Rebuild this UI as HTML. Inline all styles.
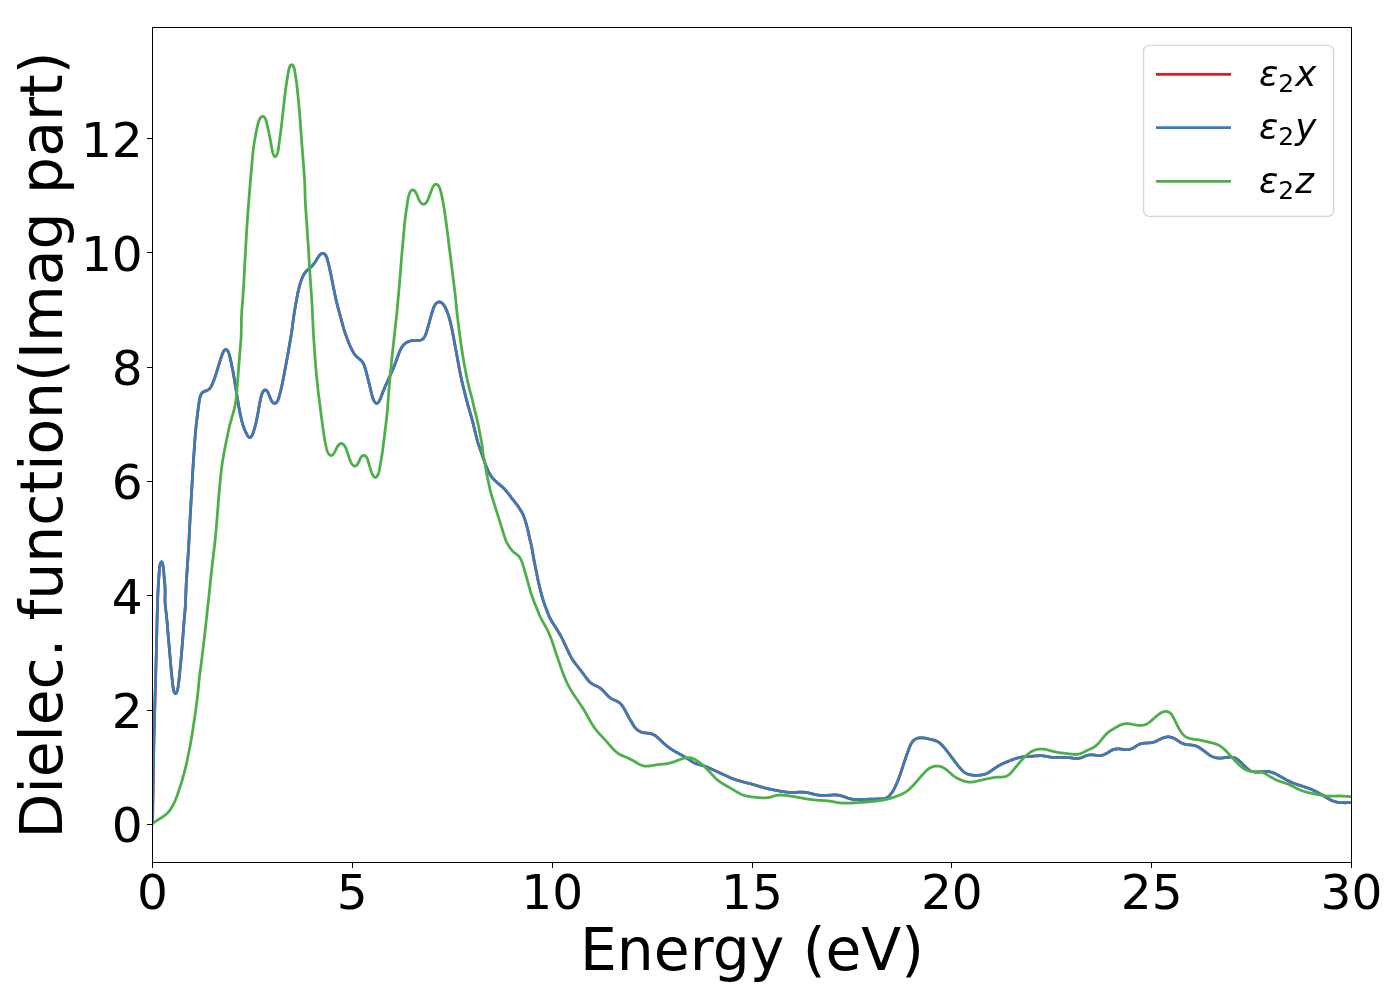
<!DOCTYPE html>
<html lang="en"><head><meta charset="utf-8"><title>Dielectric function (Imag part)</title>
<style>html,body{margin:0;padding:0;background:#fff}body{width:1400px;height:1000px;overflow:hidden}svg{display:block}text{font-family:'DejaVu Sans','Liberation Sans',sans-serif;fill:#000}</style></head><body>
<svg width="1400" height="1000" viewBox="0 0 1400 1000">
<rect width="1400" height="1000" fill="#fff"/>
<defs><clipPath id="ax"><rect x="152.5" y="27.5" width="1199" height="835"/></clipPath></defs>
<g clip-path="url(#ax)" fill="none" stroke-width="2.78" stroke-linejoin="round" stroke-linecap="butt">
<path d="M152.50 824.57 L152.51 823.97 L152.52 823.37 L152.53 822.77 L152.54 822.17 L152.55 821.57 L152.56 820.97 L152.57 820.37 L152.58 819.77 L152.59 819.17 L152.59 818.57 L152.60 817.97 L152.61 817.37 L152.62 816.77 L152.63 816.17 L152.64 815.57 L152.65 814.97 L152.66 814.37 L152.67 813.77 L152.68 813.17 L152.69 812.57 L152.70 811.97 L152.71 811.37 L152.72 810.77 L152.73 810.17 L152.74 809.57 L152.75 808.97 L152.76 808.37 L152.76 807.77 L152.77 807.17 L152.78 806.57 L152.79 805.97 L152.80 805.37 L152.81 804.77 L152.82 804.17 L152.83 803.57 L152.84 802.97 L152.85 802.37 L152.86 801.77 L152.87 801.17 L152.88 800.57 L152.89 799.97 L152.89 799.37 L152.90 798.77 L152.91 798.17 L152.92 797.57 L152.93 796.97 L152.94 796.37 L152.95 795.77 L152.96 795.17 L152.97 794.58 L152.98 793.98 L152.99 793.38 L152.99 792.78 L153.00 792.18 L153.01 791.58 L153.02 790.98 L153.03 790.38 L153.04 789.78 L153.05 789.18 L153.06 788.58 L153.07 787.98 L153.08 787.38 L153.09 786.78 L153.09 786.18 L153.10 785.58 L153.11 784.98 L153.12 784.38 L153.13 783.78 L153.14 783.18 L153.15 782.58 L153.16 781.98 L153.17 781.38 L153.18 780.78 L153.19 780.18 L153.20 779.58 L153.21 778.98 L153.22 778.38 L153.22 777.78 L153.23 777.18 L153.24 776.58 L153.25 775.98 L153.26 775.38 L153.27 774.78 L153.28 774.18 L153.29 773.58 L153.30 772.98 L153.31 772.38 L153.32 771.78 L153.33 771.18 L153.34 770.58 L153.35 769.98 L153.36 769.38 L153.37 768.78 L153.38 768.18 L153.39 767.58 L153.40 766.98 L153.41 766.38 L153.42 765.78 L153.43 765.18 L153.44 764.58 L153.45 763.98 L153.46 763.38 L153.48 762.78 L153.49 762.18 L153.50 761.58 L153.51 760.98 L153.52 760.38 L153.53 759.78 L153.54 759.18 L153.55 758.58 L153.56 757.98 L153.58 757.38 L153.59 756.78 L153.60 756.18 L153.61 755.58 L153.62 754.98 L153.63 754.38 L153.65 753.78 L153.66 753.18 L153.67 752.58 L153.68 751.98 L153.69 751.38 L153.71 750.78 L153.72 750.18 L153.73 749.58 L153.74 748.98 L153.76 748.38 L153.77 747.78 L153.78 747.18 L153.79 746.58 L153.81 745.98 L153.82 745.38 L153.83 744.78 L153.85 744.18 L153.86 743.58 L153.87 742.98 L153.89 742.38 L153.90 741.78 L153.91 741.18 L153.93 740.58 L153.94 739.98 L153.95 739.38 L153.97 738.78 L153.98 738.18 L153.99 737.58 L154.01 736.98 L154.02 736.38 L154.04 735.79 L154.05 735.19 L154.07 734.59 L154.08 733.99 L154.09 733.39 L154.11 732.79 L154.12 732.19 L154.14 731.59 L154.15 730.99 L154.17 730.39 L154.18 729.79 L154.20 729.19 L154.21 728.59 L154.23 727.99 L154.24 727.39 L154.26 726.79 L154.27 726.19 L154.29 725.59 L154.30 724.99 L154.32 724.39 L154.34 723.79 L154.35 723.19 L154.37 722.59 L154.38 721.99 L154.40 721.39 L154.42 720.79 L154.43 720.19 L154.45 719.59 L154.46 718.99 L154.48 718.39 L154.50 717.79 L154.51 717.19 L154.53 716.59 L154.55 715.99 L154.56 715.39 L154.58 714.79 L154.59 714.19 L154.61 713.59 L154.63 712.99 L154.64 712.39 L154.66 711.79 L154.68 711.19 L154.70 710.59 L154.71 709.99 L154.73 709.39 L154.75 708.79 L154.76 708.19 L154.78 707.59 L154.80 706.99 L154.81 706.39 L154.83 705.79 L154.85 705.19 L154.87 704.60 L154.88 704.00 L154.90 703.40 L154.92 702.80 L154.93 702.20 L154.95 701.60 L154.97 701.00 L154.99 700.40 L155.00 699.80 L155.02 699.20 L155.04 698.60 L155.06 698.00 L155.07 697.40 L155.09 696.80 L155.11 696.20 L155.12 695.60 L155.14 695.00 L155.16 694.40 L155.18 693.80 L155.19 693.20 L155.21 692.60 L155.23 692.00 L155.25 691.40 L155.26 690.80 L155.28 690.20 L155.30 689.60 L155.31 689.00 L155.33 688.40 L155.35 687.80 L155.37 687.20 L155.38 686.60 L155.40 686.00 L155.42 685.40 L155.43 684.80 L155.45 684.21 L155.47 683.61 L155.49 683.01 L155.50 682.41 L155.52 681.81 L155.54 681.21 L155.55 680.61 L155.57 680.01 L155.59 679.41 L155.60 678.81 L155.62 678.21 L155.64 677.61 L155.65 677.01 L155.67 676.41 L155.69 675.81 L155.70 675.21 L155.72 674.61 L155.74 674.01 L155.75 673.41 L155.77 672.81 L155.79 672.21 L155.80 671.61 L155.82 671.01 L155.84 670.41 L155.85 669.81 L155.87 669.21 L155.88 668.61 L155.90 668.01 L155.92 667.41 L155.93 666.81 L155.95 666.21 L155.96 665.61 L155.98 665.01 L156.00 664.41 L156.01 663.81 L156.03 663.21 L156.04 662.61 L156.06 662.01 L156.08 661.41 L156.09 660.81 L156.11 660.21 L156.12 659.61 L156.14 659.01 L156.15 658.41 L156.17 657.81 L156.18 657.21 L156.20 656.61 L156.22 656.01 L156.23 655.41 L156.25 654.81 L156.26 654.21 L156.28 653.61 L156.29 653.01 L156.31 652.41 L156.32 651.81 L156.34 651.21 L156.35 650.61 L156.37 650.01 L156.38 649.41 L156.40 648.81 L156.41 648.21 L156.43 647.61 L156.44 647.01 L156.46 646.41 L156.47 645.81 L156.49 645.21 L156.50 644.61 L156.51 644.01 L156.53 643.41 L156.54 642.81 L156.56 642.21 L156.57 641.61 L156.59 641.01 L156.60 640.41 L156.62 639.81 L156.63 639.21 L156.65 638.62 L156.66 638.02 L156.67 637.42 L156.69 636.82 L156.70 636.22 L156.72 635.62 L156.73 635.02 L156.74 634.42 L156.76 633.83 L156.77 633.23 L156.79 632.63 L156.80 632.03 L156.82 631.43 L156.83 630.83 L156.84 630.24 L156.86 629.64 L156.87 629.04 L156.89 628.44 L156.90 627.84 L156.91 627.24 L156.93 626.65 L156.94 626.05 L156.96 625.45 L156.97 624.85 L156.99 624.25 L157.00 623.65 L157.01 623.05 L157.03 622.46 L157.04 621.86 L157.06 621.26 L157.07 620.66 L157.09 620.06 L157.10 619.46 L157.12 618.86 L157.13 618.26 L157.15 617.66 L157.16 617.06 L157.18 616.46 L157.19 615.86 L157.21 615.26 L157.22 614.66 L157.24 614.06 L157.26 613.46 L157.27 612.85 L157.29 612.25 L157.30 611.65 L157.32 611.05 L157.34 610.45 L157.35 609.84 L157.37 609.24 L157.39 608.64 L157.40 608.03 L157.42 607.43 L157.44 606.83 L157.45 606.22 L157.47 605.62 L157.49 605.01 L157.51 604.41 L157.53 603.80 L157.54 603.20 L157.56 602.59 L157.58 601.99 L157.60 601.38 L157.62 600.78 L157.64 600.17 L157.66 599.57 L157.68 598.97 L157.70 598.36 L157.73 597.76 L157.75 597.16 L157.77 596.55 L157.79 595.95 L157.82 595.35 L157.84 594.75 L157.87 594.15 L157.89 593.55 L157.92 592.95 L157.94 592.36 L157.97 591.76 L158.00 591.16 L158.03 590.57 L158.06 589.97 L158.09 589.38 L158.12 588.79 L158.15 588.20 L158.18 587.61 L158.21 587.02 L158.24 586.43 L158.28 585.85 L158.31 585.26 L158.35 584.68 L158.39 584.10 L158.42 583.52 L158.46 582.94 L158.50 582.35 L158.54 581.77 L158.58 581.19 L158.62 580.60 L158.66 580.02 L158.70 579.43 L158.74 578.84 L158.79 578.25 L158.83 577.65 L158.87 577.05 L158.91 576.45 L158.95 575.84 L159.00 575.23 L159.04 574.61 L159.08 573.99 L159.13 573.37 L159.17 572.73 L159.21 572.10 L159.25 571.45 L159.30 570.80 L159.34 570.14 L159.39 569.49 L159.44 568.83 L159.50 568.17 L159.57 567.52 L159.65 566.87 L159.75 566.23 L159.86 565.61 L159.99 564.99 L160.13 564.39 L160.30 563.81 L160.49 563.25 L160.70 562.72 L160.93 562.28 L161.16 561.95 L161.40 561.77 L161.63 561.79 L161.85 561.99 L162.06 562.36 L162.25 562.84 L162.44 563.42 L162.62 564.07 L162.77 564.74 L162.92 565.42 L163.05 566.09 L163.17 566.75 L163.27 567.40 L163.37 568.04 L163.45 568.68 L163.52 569.31 L163.59 569.93 L163.65 570.55 L163.70 571.16 L163.75 571.77 L163.79 572.37 L163.83 572.97 L163.87 573.57 L163.91 574.17 L163.95 574.77 L163.99 575.36 L164.04 575.96 L164.09 576.55 L164.14 577.15 L164.19 577.74 L164.24 578.34 L164.30 578.93 L164.36 579.53 L164.41 580.13 L164.47 580.72 L164.53 581.32 L164.59 581.92 L164.65 582.52 L164.70 583.11 L164.76 583.71 L164.81 584.31 L164.86 584.91 L164.90 585.51 L164.95 586.11 L164.99 586.71 L165.02 587.31 L165.06 587.90 L165.08 588.50 L165.11 589.10 L165.12 589.70 L165.13 590.30 L165.14 590.90 L165.14 591.50 L165.13 592.10 L165.12 592.70 L165.11 593.30 L165.10 593.90 L165.08 594.50 L165.07 595.10 L165.05 595.70 L165.04 596.30 L165.02 596.90 L165.01 597.50 L165.00 598.10 L165.00 598.70 L165.00 599.30 L165.01 599.90 L165.02 600.50 L165.04 601.10 L165.06 601.70 L165.09 602.30 L165.13 602.89 L165.17 603.49 L165.21 604.09 L165.26 604.69 L165.31 605.29 L165.36 605.88 L165.42 606.48 L165.48 607.08 L165.54 607.67 L165.61 608.27 L165.68 608.87 L165.74 609.47 L165.81 610.06 L165.88 610.66 L165.96 611.26 L166.03 611.85 L166.10 612.45 L166.17 613.05 L166.24 613.64 L166.31 614.24 L166.38 614.84 L166.44 615.43 L166.51 616.03 L166.57 616.63 L166.63 617.23 L166.69 617.82 L166.75 618.42 L166.81 619.02 L166.87 619.62 L166.92 620.21 L166.98 620.81 L167.03 621.41 L167.08 622.01 L167.14 622.60 L167.19 623.20 L167.24 623.80 L167.29 624.40 L167.34 625.00 L167.39 625.59 L167.43 626.19 L167.48 626.79 L167.53 627.39 L167.58 627.98 L167.63 628.58 L167.67 629.18 L167.72 629.78 L167.77 630.38 L167.82 630.97 L167.87 631.57 L167.91 632.17 L167.96 632.77 L168.01 633.37 L168.06 633.96 L168.12 634.56 L168.17 635.16 L168.22 635.76 L168.27 636.36 L168.32 636.95 L168.37 637.55 L168.43 638.15 L168.48 638.75 L168.53 639.34 L168.58 639.94 L168.64 640.54 L168.69 641.14 L168.74 641.73 L168.80 642.33 L168.85 642.93 L168.90 643.53 L168.96 644.13 L169.01 644.72 L169.06 645.32 L169.12 645.92 L169.17 646.52 L169.22 647.11 L169.27 647.71 L169.33 648.31 L169.38 648.91 L169.43 649.50 L169.48 650.10 L169.53 650.70 L169.59 651.30 L169.64 651.89 L169.69 652.49 L169.74 653.09 L169.79 653.69 L169.84 654.28 L169.89 654.88 L169.94 655.48 L170.00 656.08 L170.05 656.67 L170.10 657.27 L170.15 657.87 L170.20 658.47 L170.25 659.07 L170.30 659.66 L170.35 660.26 L170.40 660.86 L170.45 661.46 L170.50 662.06 L170.56 662.66 L170.61 663.26 L170.66 663.85 L170.71 664.45 L170.76 665.05 L170.82 665.65 L170.87 666.25 L170.92 666.85 L170.97 667.45 L171.03 668.04 L171.08 668.64 L171.14 669.24 L171.19 669.84 L171.25 670.43 L171.31 671.03 L171.36 671.63 L171.42 672.22 L171.48 672.82 L171.54 673.41 L171.60 674.01 L171.66 674.60 L171.73 675.19 L171.79 675.79 L171.85 676.38 L171.92 676.97 L171.98 677.56 L172.05 678.16 L172.11 678.75 L172.18 679.35 L172.24 679.94 L172.31 680.54 L172.37 681.14 L172.44 681.74 L172.50 682.34 L172.57 682.94 L172.63 683.55 L172.69 684.15 L172.76 684.76 L172.82 685.37 L172.89 685.98 L172.97 686.60 L173.05 687.21 L173.14 687.83 L173.25 688.45 L173.37 689.08 L173.50 689.70 L173.66 690.33 L173.83 690.95 L174.03 691.57 L174.25 692.16 L174.50 692.67 L174.79 693.09 L175.11 693.39 L175.46 693.51 L175.80 693.44 L176.13 693.18 L176.43 692.79 L176.69 692.29 L176.92 691.72 L177.13 691.11 L177.32 690.48 L177.49 689.86 L177.64 689.24 L177.78 688.62 L177.91 688.00 L178.02 687.38 L178.13 686.77 L178.22 686.16 L178.31 685.55 L178.39 684.94 L178.47 684.33 L178.55 683.73 L178.62 683.13 L178.69 682.53 L178.76 681.93 L178.83 681.33 L178.90 680.73 L178.96 680.13 L179.03 679.54 L179.09 678.94 L179.16 678.35 L179.22 677.75 L179.28 677.16 L179.34 676.56 L179.40 675.97 L179.46 675.38 L179.52 674.78 L179.58 674.19 L179.64 673.59 L179.70 673.00 L179.76 672.40 L179.82 671.81 L179.89 671.21 L179.95 670.62 L180.01 670.02 L180.07 669.42 L180.13 668.83 L180.19 668.23 L180.25 667.63 L180.31 667.03 L180.37 666.44 L180.43 665.84 L180.49 665.24 L180.55 664.64 L180.60 664.05 L180.66 663.45 L180.72 662.85 L180.78 662.25 L180.83 661.65 L180.89 661.06 L180.94 660.46 L181.00 659.86 L181.05 659.26 L181.10 658.66 L181.16 658.07 L181.21 657.47 L181.26 656.87 L181.31 656.27 L181.37 655.67 L181.42 655.08 L181.47 654.48 L181.52 653.88 L181.57 653.28 L181.62 652.69 L181.67 652.09 L181.72 651.49 L181.77 650.89 L181.81 650.29 L181.86 649.70 L181.91 649.10 L181.96 648.50 L182.01 647.90 L182.06 647.31 L182.10 646.71 L182.15 646.11 L182.20 645.51 L182.25 644.91 L182.30 644.32 L182.34 643.72 L182.39 643.12 L182.44 642.52 L182.48 641.92 L182.53 641.32 L182.58 640.73 L182.63 640.13 L182.67 639.53 L182.72 638.93 L182.77 638.33 L182.81 637.74 L182.86 637.14 L182.90 636.54 L182.95 635.94 L183.00 635.34 L183.04 634.74 L183.09 634.15 L183.13 633.55 L183.18 632.95 L183.23 632.35 L183.27 631.75 L183.32 631.15 L183.36 630.56 L183.41 629.96 L183.45 629.36 L183.50 628.76 L183.54 628.16 L183.59 627.56 L183.64 626.97 L183.68 626.37 L183.73 625.77 L183.78 625.17 L183.82 624.57 L183.87 623.98 L183.92 623.38 L183.97 622.78 L184.02 622.18 L184.07 621.58 L184.12 620.99 L184.17 620.39 L184.22 619.79 L184.27 619.19 L184.32 618.59 L184.38 618.00 L184.43 617.40 L184.48 616.80 L184.54 616.20 L184.59 615.61 L184.64 615.01 L184.69 614.41 L184.74 613.81 L184.80 613.21 L184.85 612.62 L184.90 612.02 L184.94 611.42 L184.99 610.82 L185.04 610.22 L185.08 609.63 L185.13 609.03 L185.17 608.43 L185.21 607.83 L185.25 607.23 L185.29 606.63 L185.32 606.04 L185.35 605.44 L185.39 604.84 L185.42 604.24 L185.45 603.64 L185.48 603.04 L185.50 602.44 L185.53 601.84 L185.56 601.24 L185.58 600.64 L185.61 600.04 L185.63 599.44 L185.65 598.84 L185.67 598.24 L185.70 597.64 L185.72 597.04 L185.74 596.44 L185.76 595.84 L185.78 595.25 L185.80 594.65 L185.82 594.05 L185.84 593.45 L185.86 592.85 L185.88 592.25 L185.90 591.65 L185.92 591.05 L185.95 590.45 L185.97 589.85 L185.99 589.25 L186.02 588.65 L186.04 588.05 L186.07 587.45 L186.09 586.85 L186.12 586.25 L186.15 585.65 L186.18 585.05 L186.21 584.45 L186.24 583.85 L186.27 583.25 L186.31 582.66 L186.34 582.06 L186.38 581.46 L186.41 580.86 L186.45 580.26 L186.49 579.66 L186.52 579.06 L186.56 578.46 L186.60 577.86 L186.64 577.27 L186.68 576.67 L186.72 576.07 L186.76 575.47 L186.80 574.87 L186.85 574.27 L186.89 573.67 L186.93 573.08 L186.97 572.48 L187.01 571.88 L187.05 571.28 L187.09 570.68 L187.14 570.08 L187.18 569.48 L187.22 568.89 L187.26 568.29 L187.30 567.69 L187.34 567.09 L187.38 566.49 L187.42 565.89 L187.46 565.29 L187.50 564.69 L187.54 564.10 L187.58 563.50 L187.62 562.90 L187.66 562.30 L187.70 561.70 L187.74 561.10 L187.78 560.50 L187.82 559.91 L187.86 559.31 L187.90 558.71 L187.94 558.11 L187.98 557.51 L188.02 556.91 L188.06 556.31 L188.10 555.71 L188.14 555.12 L188.18 554.52 L188.22 553.92 L188.25 553.32 L188.29 552.72 L188.33 552.12 L188.37 551.52 L188.40 550.92 L188.44 550.33 L188.48 549.73 L188.51 549.13 L188.55 548.53 L188.58 547.93 L188.61 547.33 L188.65 546.73 L188.68 546.13 L188.71 545.53 L188.75 544.93 L188.78 544.34 L188.81 543.74 L188.84 543.14 L188.87 542.54 L188.90 541.94 L188.93 541.34 L188.97 540.74 L189.00 540.14 L189.03 539.54 L189.06 538.94 L189.09 538.34 L189.12 537.74 L189.15 537.14 L189.18 536.55 L189.20 535.95 L189.23 535.35 L189.26 534.75 L189.29 534.15 L189.32 533.55 L189.35 532.95 L189.38 532.35 L189.41 531.75 L189.44 531.15 L189.47 530.55 L189.50 529.95 L189.53 529.35 L189.56 528.75 L189.59 528.16 L189.63 527.56 L189.66 526.96 L189.69 526.36 L189.72 525.76 L189.75 525.16 L189.78 524.56 L189.81 523.96 L189.84 523.36 L189.87 522.76 L189.91 522.16 L189.94 521.56 L189.97 520.97 L190.00 520.37 L190.03 519.77 L190.07 519.17 L190.10 518.57 L190.13 517.97 L190.16 517.37 L190.20 516.77 L190.23 516.17 L190.26 515.57 L190.29 514.97 L190.33 514.37 L190.36 513.78 L190.39 513.18 L190.43 512.58 L190.46 511.98 L190.49 511.38 L190.53 510.78 L190.56 510.18 L190.60 509.58 L190.63 508.98 L190.66 508.38 L190.70 507.79 L190.73 507.19 L190.77 506.59 L190.80 505.99 L190.83 505.39 L190.87 504.79 L190.90 504.19 L190.94 503.59 L190.97 502.99 L191.01 502.39 L191.04 501.79 L191.07 501.20 L191.11 500.60 L191.14 500.00 L191.18 499.40 L191.21 498.80 L191.25 498.20 L191.28 497.60 L191.32 497.00 L191.35 496.40 L191.38 495.80 L191.42 495.21 L191.45 494.61 L191.49 494.01 L191.52 493.41 L191.56 492.81 L191.59 492.21 L191.62 491.61 L191.66 491.01 L191.69 490.41 L191.72 489.81 L191.76 489.22 L191.79 488.62 L191.82 488.02 L191.86 487.42 L191.89 486.82 L191.92 486.22 L191.96 485.62 L191.99 485.02 L192.02 484.42 L192.06 483.82 L192.09 483.22 L192.12 482.63 L192.16 482.03 L192.19 481.43 L192.22 480.83 L192.26 480.23 L192.29 479.63 L192.33 479.03 L192.36 478.43 L192.39 477.83 L192.43 477.23 L192.46 476.64 L192.50 476.04 L192.53 475.44 L192.57 474.84 L192.60 474.24 L192.64 473.64 L192.67 473.04 L192.71 472.44 L192.74 471.84 L192.78 471.24 L192.82 470.65 L192.85 470.05 L192.89 469.45 L192.93 468.85 L192.97 468.25 L193.01 467.65 L193.04 467.05 L193.08 466.45 L193.12 465.86 L193.16 465.26 L193.20 464.66 L193.24 464.06 L193.28 463.46 L193.32 462.86 L193.36 462.26 L193.40 461.66 L193.44 461.07 L193.48 460.47 L193.52 459.87 L193.56 459.27 L193.60 458.67 L193.64 458.07 L193.68 457.47 L193.72 456.88 L193.77 456.28 L193.81 455.68 L193.85 455.08 L193.89 454.48 L193.93 453.88 L193.97 453.28 L194.01 452.69 L194.05 452.09 L194.09 451.49 L194.13 450.89 L194.17 450.29 L194.22 449.69 L194.26 449.09 L194.30 448.50 L194.34 447.90 L194.38 447.30 L194.42 446.70 L194.46 446.10 L194.50 445.50 L194.55 444.90 L194.59 444.31 L194.63 443.71 L194.67 443.11 L194.71 442.51 L194.76 441.91 L194.80 441.31 L194.84 440.71 L194.89 440.12 L194.93 439.52 L194.97 438.92 L195.02 438.32 L195.06 437.72 L195.11 437.12 L195.15 436.53 L195.20 435.93 L195.25 435.33 L195.29 434.73 L195.34 434.13 L195.39 433.53 L195.44 432.94 L195.49 432.34 L195.54 431.74 L195.59 431.14 L195.65 430.54 L195.70 429.95 L195.76 429.35 L195.81 428.75 L195.87 428.16 L195.93 427.56 L195.99 426.96 L196.05 426.36 L196.12 425.77 L196.18 425.17 L196.25 424.58 L196.32 423.98 L196.39 423.38 L196.46 422.79 L196.53 422.19 L196.60 421.60 L196.67 421.00 L196.75 420.41 L196.82 419.81 L196.90 419.22 L196.97 418.62 L197.05 418.02 L197.12 417.43 L197.19 416.83 L197.27 416.24 L197.34 415.64 L197.41 415.05 L197.48 414.45 L197.56 413.85 L197.63 413.26 L197.70 412.66 L197.77 412.06 L197.84 411.47 L197.91 410.87 L197.99 410.28 L198.06 409.68 L198.13 409.09 L198.21 408.49 L198.28 407.90 L198.36 407.31 L198.44 406.71 L198.52 406.12 L198.60 405.53 L198.68 404.94 L198.77 404.34 L198.86 403.75 L198.95 403.16 L199.04 402.56 L199.13 401.97 L199.23 401.37 L199.33 400.78 L199.44 400.18 L199.55 399.58 L199.66 398.98 L199.77 398.37 L199.89 397.77 L200.03 397.17 L200.18 396.58 L200.36 396.01 L200.56 395.44 L200.79 394.89 L201.05 394.37 L201.36 393.87 L201.70 393.40 L202.08 392.96 L202.50 392.55 L202.96 392.19 L203.45 391.88 L203.98 391.60 L204.52 391.36 L205.08 391.13 L205.65 390.92 L206.21 390.70 L206.77 390.47 L207.32 390.22 L207.84 389.94 L208.34 389.62 L208.82 389.27 L209.26 388.88 L209.68 388.46 L210.07 388.02 L210.44 387.55 L210.78 387.06 L211.09 386.55 L211.38 386.02 L211.66 385.49 L211.92 384.94 L212.16 384.39 L212.40 383.83 L212.64 383.27 L212.87 382.71 L213.10 382.15 L213.32 381.59 L213.54 381.03 L213.76 380.47 L213.97 379.91 L214.19 379.35 L214.39 378.79 L214.60 378.22 L214.80 377.66 L214.99 377.09 L215.19 376.52 L215.38 375.96 L215.57 375.39 L215.76 374.82 L215.94 374.25 L216.13 373.68 L216.31 373.10 L216.49 372.53 L216.67 371.96 L216.85 371.39 L217.03 370.81 L217.21 370.24 L217.38 369.67 L217.56 369.09 L217.73 368.52 L217.91 367.95 L218.08 367.37 L218.26 366.80 L218.43 366.22 L218.61 365.65 L218.78 365.07 L218.95 364.50 L219.13 363.92 L219.30 363.35 L219.47 362.78 L219.65 362.21 L219.83 361.63 L220.00 361.06 L220.18 360.49 L220.36 359.92 L220.55 359.35 L220.73 358.79 L220.92 358.22 L221.10 357.65 L221.30 357.08 L221.50 356.51 L221.70 355.93 L221.91 355.35 L222.13 354.76 L222.35 354.16 L222.58 353.56 L222.82 352.95 L223.08 352.35 L223.36 351.77 L223.67 351.23 L224.00 350.73 L224.37 350.29 L224.78 349.92 L225.22 349.65 L225.67 349.51 L226.13 349.54 L226.58 349.72 L227.01 350.03 L227.40 350.42 L227.75 350.89 L228.06 351.41 L228.34 351.98 L228.59 352.57 L228.81 353.19 L229.02 353.80 L229.21 354.42 L229.39 355.02 L229.56 355.63 L229.72 356.22 L229.87 356.81 L230.02 357.40 L230.16 357.99 L230.30 358.57 L230.43 359.15 L230.56 359.74 L230.69 360.32 L230.82 360.90 L230.95 361.49 L231.08 362.07 L231.20 362.66 L231.33 363.24 L231.45 363.83 L231.58 364.42 L231.70 365.00 L231.82 365.59 L231.94 366.18 L232.05 366.77 L232.17 367.36 L232.28 367.95 L232.40 368.53 L232.51 369.12 L232.62 369.71 L232.73 370.30 L232.84 370.89 L232.95 371.48 L233.06 372.07 L233.17 372.66 L233.28 373.25 L233.38 373.84 L233.49 374.44 L233.60 375.03 L233.70 375.62 L233.80 376.21 L233.91 376.80 L234.01 377.39 L234.12 377.98 L234.22 378.57 L234.32 379.16 L234.42 379.75 L234.52 380.35 L234.62 380.94 L234.72 381.53 L234.82 382.12 L234.92 382.71 L235.01 383.31 L235.11 383.90 L235.20 384.49 L235.30 385.08 L235.39 385.67 L235.49 386.27 L235.58 386.86 L235.68 387.45 L235.77 388.05 L235.86 388.64 L235.96 389.23 L236.05 389.82 L236.15 390.42 L236.24 391.01 L236.34 391.60 L236.43 392.19 L236.53 392.79 L236.62 393.38 L236.71 393.97 L236.81 394.56 L236.90 395.16 L237.00 395.75 L237.09 396.34 L237.19 396.93 L237.28 397.53 L237.38 398.12 L237.47 398.71 L237.56 399.30 L237.66 399.90 L237.75 400.49 L237.85 401.08 L237.95 401.67 L238.04 402.26 L238.14 402.86 L238.24 403.45 L238.34 404.04 L238.44 404.63 L238.54 405.22 L238.64 405.81 L238.75 406.41 L238.85 407.00 L238.96 407.59 L239.07 408.18 L239.18 408.77 L239.29 409.36 L239.40 409.95 L239.51 410.54 L239.63 411.12 L239.74 411.71 L239.86 412.30 L239.98 412.89 L240.09 413.48 L240.21 414.07 L240.33 414.65 L240.46 415.24 L240.58 415.83 L240.71 416.41 L240.84 417.00 L240.97 417.59 L241.10 418.17 L241.24 418.76 L241.38 419.34 L241.53 419.92 L241.67 420.51 L241.82 421.09 L241.98 421.67 L242.14 422.25 L242.30 422.83 L242.47 423.40 L242.64 423.98 L242.82 424.55 L243.00 425.12 L243.18 425.69 L243.37 426.26 L243.57 426.82 L243.77 427.38 L243.97 427.93 L244.18 428.49 L244.40 429.04 L244.62 429.59 L244.85 430.14 L245.09 430.69 L245.34 431.25 L245.60 431.82 L245.88 432.39 L246.17 432.97 L246.47 433.57 L246.79 434.18 L247.13 434.80 L247.48 435.42 L247.85 436.00 L248.22 436.53 L248.61 436.99 L249.00 437.34 L249.40 437.56 L249.81 437.64 L250.21 437.54 L250.61 437.29 L251.01 436.92 L251.38 436.45 L251.74 435.91 L252.07 435.34 L252.37 434.75 L252.65 434.16 L252.89 433.57 L253.12 432.97 L253.32 432.38 L253.52 431.78 L253.70 431.18 L253.88 430.59 L254.05 430.00 L254.22 429.41 L254.39 428.83 L254.57 428.25 L254.74 427.68 L254.90 427.10 L255.07 426.53 L255.23 425.95 L255.39 425.38 L255.54 424.80 L255.68 424.22 L255.82 423.64 L255.95 423.05 L256.09 422.47 L256.21 421.88 L256.34 421.30 L256.46 420.71 L256.58 420.12 L256.70 419.53 L256.82 418.94 L256.94 418.36 L257.06 417.77 L257.18 417.18 L257.30 416.59 L257.42 416.00 L257.53 415.41 L257.65 414.83 L257.76 414.24 L257.87 413.65 L257.98 413.06 L258.09 412.47 L258.19 411.88 L258.30 411.28 L258.40 410.69 L258.50 410.10 L258.60 409.51 L258.70 408.92 L258.80 408.33 L258.90 407.74 L259.00 407.14 L259.11 406.55 L259.21 405.96 L259.32 405.37 L259.43 404.78 L259.54 404.20 L259.65 403.61 L259.76 403.02 L259.88 402.43 L260.00 401.84 L260.12 401.26 L260.24 400.67 L260.36 400.08 L260.48 399.49 L260.61 398.91 L260.74 398.32 L260.87 397.73 L261.01 397.14 L261.16 396.55 L261.32 395.95 L261.49 395.36 L261.67 394.76 L261.87 394.15 L262.08 393.54 L262.32 392.94 L262.58 392.35 L262.87 391.79 L263.20 391.28 L263.56 390.83 L263.97 390.46 L264.42 390.17 L264.89 390.01 L265.38 389.98 L265.85 390.11 L266.31 390.36 L266.74 390.72 L267.13 391.14 L267.48 391.62 L267.80 392.15 L268.10 392.71 L268.37 393.29 L268.62 393.89 L268.86 394.48 L269.09 395.07 L269.32 395.65 L269.54 396.23 L269.77 396.81 L270.00 397.38 L270.23 397.96 L270.47 398.53 L270.73 399.11 L271.00 399.68 L271.29 400.25 L271.60 400.80 L271.94 401.32 L272.31 401.82 L272.71 402.28 L273.15 402.70 L273.61 403.05 L274.09 403.30 L274.57 403.42 L275.05 403.40 L275.53 403.23 L275.98 402.94 L276.41 402.55 L276.81 402.10 L277.16 401.60 L277.48 401.08 L277.77 400.52 L278.02 399.95 L278.25 399.35 L278.46 398.75 L278.66 398.15 L278.85 397.54 L279.03 396.94 L279.20 396.35 L279.37 395.76 L279.54 395.17 L279.70 394.59 L279.85 394.01 L280.01 393.43 L280.16 392.86 L280.31 392.28 L280.45 391.70 L280.59 391.12 L280.73 390.54 L280.87 389.96 L281.01 389.38 L281.15 388.80 L281.28 388.21 L281.41 387.63 L281.54 387.04 L281.67 386.46 L281.80 385.87 L281.93 385.28 L282.05 384.70 L282.18 384.11 L282.30 383.52 L282.42 382.93 L282.54 382.34 L282.67 381.76 L282.78 381.17 L282.90 380.58 L283.02 379.99 L283.14 379.40 L283.25 378.81 L283.37 378.23 L283.48 377.64 L283.60 377.05 L283.71 376.46 L283.82 375.87 L283.94 375.28 L284.05 374.69 L284.16 374.10 L284.27 373.51 L284.38 372.92 L284.49 372.33 L284.60 371.74 L284.72 371.15 L284.83 370.56 L284.94 369.97 L285.05 369.38 L285.16 368.79 L285.27 368.20 L285.38 367.61 L285.49 367.03 L285.60 366.44 L285.71 365.85 L285.83 365.26 L285.94 364.67 L286.05 364.08 L286.16 363.49 L286.27 362.90 L286.38 362.31 L286.49 361.72 L286.61 361.13 L286.71 360.54 L286.82 359.95 L286.93 359.36 L287.04 358.77 L287.15 358.18 L287.25 357.59 L287.36 357.00 L287.46 356.41 L287.57 355.82 L287.67 355.23 L287.78 354.63 L287.88 354.04 L287.99 353.45 L288.09 352.86 L288.19 352.27 L288.29 351.68 L288.40 351.09 L288.50 350.50 L288.60 349.91 L288.71 349.32 L288.81 348.72 L288.92 348.13 L289.02 347.54 L289.12 346.95 L289.23 346.36 L289.33 345.77 L289.44 345.18 L289.54 344.59 L289.65 344.00 L289.75 343.41 L289.86 342.82 L289.96 342.23 L290.07 341.63 L290.17 341.04 L290.27 340.45 L290.38 339.86 L290.48 339.27 L290.58 338.68 L290.69 338.09 L290.79 337.50 L290.89 336.90 L290.98 336.31 L291.08 335.72 L291.18 335.13 L291.27 334.54 L291.36 333.94 L291.45 333.35 L291.54 332.76 L291.63 332.16 L291.72 331.57 L291.80 330.98 L291.89 330.38 L291.97 329.79 L292.05 329.19 L292.13 328.60 L292.21 328.00 L292.29 327.41 L292.37 326.81 L292.45 326.22 L292.53 325.62 L292.61 325.03 L292.69 324.43 L292.76 323.84 L292.84 323.24 L292.92 322.65 L293.00 322.05 L293.07 321.46 L293.15 320.86 L293.23 320.27 L293.31 319.67 L293.39 319.08 L293.47 318.49 L293.55 317.89 L293.64 317.30 L293.72 316.70 L293.80 316.11 L293.89 315.51 L293.98 314.92 L294.06 314.33 L294.15 313.73 L294.24 313.14 L294.34 312.55 L294.43 311.96 L294.53 311.36 L294.62 310.77 L294.72 310.18 L294.82 309.59 L294.92 309.00 L295.02 308.41 L295.12 307.81 L295.23 307.22 L295.33 306.63 L295.43 306.04 L295.54 305.45 L295.64 304.86 L295.75 304.27 L295.85 303.68 L295.96 303.09 L296.06 302.50 L296.16 301.90 L296.27 301.31 L296.37 300.72 L296.48 300.13 L296.58 299.54 L296.69 298.95 L296.79 298.36 L296.90 297.77 L297.01 297.18 L297.12 296.59 L297.23 296.00 L297.34 295.41 L297.46 294.82 L297.58 294.23 L297.69 293.64 L297.82 293.06 L297.94 292.47 L298.07 291.88 L298.20 291.30 L298.33 290.71 L298.46 290.13 L298.60 289.54 L298.74 288.96 L298.89 288.38 L299.03 287.80 L299.18 287.21 L299.34 286.63 L299.49 286.05 L299.65 285.48 L299.82 284.90 L299.98 284.32 L300.16 283.75 L300.33 283.17 L300.51 282.60 L300.69 282.03 L300.88 281.45 L301.08 280.89 L301.28 280.32 L301.49 279.76 L301.70 279.19 L301.92 278.64 L302.15 278.08 L302.39 277.53 L302.63 276.98 L302.89 276.43 L303.15 275.89 L303.43 275.35 L303.71 274.82 L304.01 274.30 L304.32 273.79 L304.65 273.29 L304.99 272.80 L305.35 272.32 L305.72 271.86 L306.11 271.41 L306.52 270.97 L306.94 270.54 L307.37 270.12 L307.81 269.71 L308.26 269.31 L308.71 268.92 L309.17 268.53 L309.64 268.14 L310.10 267.75 L310.55 267.36 L311.00 266.97 L311.45 266.57 L311.87 266.15 L312.29 265.72 L312.69 265.28 L313.07 264.83 L313.44 264.36 L313.81 263.89 L314.16 263.40 L314.50 262.91 L314.84 262.41 L315.17 261.92 L315.50 261.41 L315.83 260.91 L316.15 260.40 L316.48 259.89 L316.80 259.37 L317.13 258.85 L317.46 258.33 L317.80 257.80 L318.14 257.27 L318.49 256.75 L318.85 256.23 L319.23 255.72 L319.62 255.24 L320.04 254.79 L320.48 254.37 L320.95 254.00 L321.44 253.69 L321.94 253.46 L322.45 253.33 L322.96 253.32 L323.46 253.43 L323.94 253.64 L324.41 253.96 L324.85 254.34 L325.25 254.78 L325.61 255.26 L325.93 255.78 L326.22 256.32 L326.48 256.88 L326.71 257.47 L326.92 258.07 L327.12 258.67 L327.30 259.28 L327.47 259.89 L327.64 260.50 L327.80 261.10 L327.96 261.69 L328.11 262.29 L328.26 262.87 L328.41 263.46 L328.55 264.04 L328.70 264.62 L328.84 265.21 L328.97 265.78 L329.11 266.36 L329.24 266.94 L329.38 267.52 L329.51 268.11 L329.64 268.69 L329.77 269.27 L329.90 269.86 L330.03 270.44 L330.15 271.03 L330.28 271.61 L330.41 272.20 L330.53 272.79 L330.66 273.38 L330.78 273.96 L330.90 274.55 L331.02 275.14 L331.15 275.73 L331.27 276.32 L331.39 276.90 L331.51 277.49 L331.62 278.08 L331.74 278.67 L331.86 279.26 L331.98 279.85 L332.10 280.44 L332.21 281.02 L332.33 281.61 L332.45 282.20 L332.56 282.79 L332.68 283.38 L332.79 283.97 L332.91 284.55 L333.03 285.14 L333.14 285.73 L333.26 286.32 L333.38 286.91 L333.49 287.50 L333.61 288.09 L333.73 288.67 L333.85 289.26 L333.96 289.85 L334.08 290.44 L334.20 291.03 L334.32 291.62 L334.44 292.20 L334.56 292.79 L334.68 293.38 L334.80 293.97 L334.92 294.56 L335.04 295.14 L335.16 295.73 L335.29 296.32 L335.41 296.90 L335.54 297.49 L335.67 298.08 L335.79 298.66 L335.93 299.25 L336.06 299.83 L336.19 300.42 L336.33 301.00 L336.47 301.59 L336.61 302.17 L336.76 302.75 L336.90 303.33 L337.05 303.91 L337.20 304.50 L337.35 305.08 L337.50 305.66 L337.66 306.24 L337.81 306.82 L337.97 307.40 L338.12 307.98 L338.28 308.55 L338.43 309.13 L338.59 309.71 L338.75 310.29 L338.90 310.87 L339.06 311.45 L339.22 312.03 L339.37 312.61 L339.53 313.19 L339.69 313.77 L339.84 314.35 L340.00 314.93 L340.16 315.51 L340.31 316.08 L340.47 316.66 L340.63 317.24 L340.78 317.82 L340.94 318.40 L341.10 318.98 L341.25 319.56 L341.41 320.14 L341.56 320.72 L341.72 321.30 L341.88 321.88 L342.03 322.46 L342.19 323.04 L342.34 323.62 L342.50 324.20 L342.65 324.78 L342.81 325.36 L342.97 325.94 L343.13 326.51 L343.29 327.09 L343.45 327.67 L343.61 328.25 L343.78 328.82 L343.95 329.40 L344.12 329.97 L344.30 330.55 L344.48 331.12 L344.66 331.69 L344.85 332.26 L345.04 332.83 L345.24 333.39 L345.44 333.96 L345.64 334.53 L345.84 335.09 L346.04 335.65 L346.25 336.22 L346.46 336.78 L346.67 337.34 L346.88 337.90 L347.09 338.47 L347.31 339.03 L347.52 339.59 L347.74 340.15 L347.95 340.71 L348.17 341.27 L348.39 341.83 L348.61 342.38 L348.83 342.94 L349.06 343.50 L349.29 344.05 L349.52 344.60 L349.76 345.16 L350.00 345.71 L350.24 346.26 L350.49 346.80 L350.74 347.35 L351.00 347.89 L351.26 348.43 L351.52 348.97 L351.80 349.51 L352.07 350.04 L352.36 350.57 L352.65 351.10 L352.94 351.62 L353.25 352.14 L353.56 352.66 L353.88 353.17 L354.21 353.67 L354.55 354.16 L354.91 354.63 L355.28 355.10 L355.67 355.55 L356.08 355.99 L356.50 356.41 L356.93 356.82 L357.38 357.22 L357.83 357.62 L358.29 358.01 L358.76 358.39 L359.22 358.78 L359.69 359.17 L360.14 359.56 L360.59 359.96 L361.03 360.37 L361.44 360.79 L361.84 361.24 L362.21 361.70 L362.55 362.18 L362.87 362.68 L363.17 363.19 L363.45 363.72 L363.71 364.26 L363.95 364.81 L364.18 365.37 L364.40 365.93 L364.60 366.50 L364.80 367.06 L364.99 367.64 L365.17 368.21 L365.35 368.79 L365.52 369.36 L365.68 369.94 L365.84 370.52 L365.99 371.11 L366.14 371.69 L366.29 372.27 L366.44 372.85 L366.59 373.44 L366.73 374.02 L366.88 374.60 L367.02 375.19 L367.17 375.77 L367.31 376.35 L367.46 376.93 L367.60 377.51 L367.75 378.10 L367.89 378.68 L368.03 379.26 L368.18 379.84 L368.32 380.43 L368.47 381.01 L368.62 381.59 L368.76 382.17 L368.91 382.76 L369.06 383.34 L369.20 383.92 L369.35 384.50 L369.50 385.09 L369.64 385.67 L369.79 386.25 L369.93 386.83 L370.08 387.41 L370.22 387.99 L370.36 388.57 L370.50 389.15 L370.64 389.73 L370.77 390.31 L370.91 390.89 L371.04 391.47 L371.18 392.05 L371.32 392.63 L371.46 393.21 L371.60 393.79 L371.75 394.38 L371.90 394.97 L372.06 395.57 L372.23 396.17 L372.41 396.77 L372.59 397.38 L372.79 397.99 L373.00 398.60 L373.23 399.21 L373.47 399.80 L373.74 400.38 L374.04 400.94 L374.36 401.46 L374.72 401.96 L375.11 402.41 L375.53 402.80 L375.96 403.10 L376.40 403.29 L376.83 403.34 L377.26 403.24 L377.67 403.00 L378.07 402.65 L378.45 402.21 L378.81 401.70 L379.15 401.16 L379.47 400.60 L379.76 400.03 L380.04 399.46 L380.30 398.88 L380.54 398.29 L380.77 397.70 L380.99 397.12 L381.21 396.53 L381.42 395.94 L381.63 395.36 L381.84 394.78 L382.05 394.20 L382.26 393.63 L382.47 393.06 L382.69 392.50 L382.91 391.94 L383.13 391.38 L383.35 390.83 L383.58 390.28 L383.80 389.73 L384.03 389.18 L384.26 388.63 L384.50 388.08 L384.74 387.53 L384.98 386.98 L385.22 386.43 L385.46 385.89 L385.70 385.34 L385.95 384.79 L386.19 384.24 L386.44 383.70 L386.69 383.15 L386.93 382.60 L387.18 382.05 L387.42 381.50 L387.67 380.96 L387.91 380.41 L388.16 379.86 L388.40 379.31 L388.65 378.76 L388.89 378.21 L389.13 377.67 L389.38 377.12 L389.62 376.57 L389.87 376.02 L390.11 375.48 L390.36 374.93 L390.60 374.38 L390.85 373.83 L391.09 373.29 L391.34 372.74 L391.58 372.19 L391.83 371.64 L392.07 371.09 L392.31 370.54 L392.55 369.99 L392.79 369.44 L393.02 368.89 L393.26 368.34 L393.49 367.78 L393.72 367.23 L393.95 366.67 L394.17 366.12 L394.39 365.56 L394.62 365.00 L394.83 364.44 L395.05 363.89 L395.26 363.32 L395.48 362.76 L395.69 362.20 L395.89 361.64 L396.10 361.07 L396.30 360.51 L396.50 359.95 L396.71 359.38 L396.91 358.82 L397.11 358.25 L397.31 357.68 L397.51 357.12 L397.71 356.55 L397.92 355.99 L398.12 355.43 L398.33 354.86 L398.55 354.30 L398.76 353.74 L398.98 353.18 L399.20 352.62 L399.43 352.06 L399.66 351.51 L399.90 350.96 L400.15 350.41 L400.41 349.86 L400.67 349.32 L400.94 348.78 L401.22 348.24 L401.51 347.72 L401.82 347.20 L402.14 346.69 L402.48 346.20 L402.84 345.72 L403.22 345.26 L403.62 344.82 L404.04 344.40 L404.49 344.00 L404.95 343.63 L405.43 343.27 L405.93 342.94 L406.44 342.63 L406.97 342.35 L407.51 342.09 L408.06 341.84 L408.62 341.62 L409.19 341.41 L409.76 341.21 L410.33 341.04 L410.91 340.88 L411.50 340.73 L412.09 340.62 L412.68 340.52 L413.27 340.45 L413.87 340.40 L414.47 340.37 L415.08 340.36 L415.68 340.36 L416.29 340.37 L416.90 340.39 L417.51 340.42 L418.12 340.43 L418.72 340.42 L419.32 340.39 L419.90 340.32 L420.47 340.21 L421.03 340.04 L421.56 339.83 L422.06 339.56 L422.53 339.23 L422.97 338.85 L423.37 338.43 L423.75 337.98 L424.10 337.49 L424.42 336.99 L424.72 336.46 L425.00 335.93 L425.26 335.38 L425.50 334.82 L425.72 334.26 L425.94 333.68 L426.14 333.11 L426.34 332.53 L426.53 331.95 L426.72 331.37 L426.90 330.79 L427.08 330.21 L427.25 329.63 L427.42 329.06 L427.59 328.48 L427.76 327.90 L427.92 327.33 L428.09 326.75 L428.25 326.18 L428.41 325.60 L428.57 325.02 L428.73 324.44 L428.88 323.87 L429.04 323.29 L429.20 322.71 L429.36 322.13 L429.51 321.55 L429.67 320.97 L429.83 320.39 L429.98 319.81 L430.14 319.23 L430.30 318.66 L430.46 318.08 L430.61 317.50 L430.77 316.92 L430.93 316.35 L431.09 315.77 L431.25 315.19 L431.42 314.62 L431.58 314.04 L431.75 313.47 L431.92 312.89 L432.09 312.31 L432.27 311.74 L432.45 311.16 L432.63 310.58 L432.82 310.00 L433.01 309.42 L433.20 308.84 L433.41 308.26 L433.63 307.69 L433.86 307.13 L434.11 306.57 L434.38 306.02 L434.67 305.48 L434.99 304.95 L435.34 304.44 L435.71 303.96 L436.12 303.50 L436.55 303.09 L437.02 302.72 L437.51 302.42 L438.03 302.18 L438.58 302.03 L439.13 301.96 L439.68 301.99 L440.23 302.11 L440.76 302.31 L441.28 302.59 L441.78 302.92 L442.24 303.30 L442.68 303.72 L443.10 304.17 L443.49 304.65 L443.86 305.15 L444.21 305.66 L444.54 306.18 L444.85 306.70 L445.15 307.24 L445.43 307.78 L445.70 308.32 L445.96 308.87 L446.21 309.43 L446.45 309.98 L446.68 310.54 L446.91 311.10 L447.13 311.65 L447.35 312.22 L447.56 312.78 L447.76 313.34 L447.97 313.91 L448.16 314.47 L448.35 315.04 L448.54 315.61 L448.72 316.18 L448.90 316.76 L449.07 317.33 L449.24 317.90 L449.40 318.48 L449.56 319.06 L449.72 319.64 L449.88 320.22 L450.03 320.80 L450.18 321.38 L450.32 321.96 L450.47 322.55 L450.61 323.13 L450.75 323.71 L450.89 324.30 L451.02 324.88 L451.16 325.47 L451.29 326.05 L451.42 326.64 L451.55 327.22 L451.68 327.81 L451.80 328.40 L451.93 328.98 L452.05 329.57 L452.17 330.16 L452.29 330.75 L452.41 331.33 L452.53 331.92 L452.64 332.51 L452.76 333.10 L452.87 333.69 L452.98 334.28 L453.09 334.87 L453.20 335.46 L453.31 336.05 L453.42 336.64 L453.53 337.23 L453.63 337.82 L453.74 338.41 L453.85 339.00 L453.96 339.59 L454.06 340.18 L454.17 340.77 L454.28 341.36 L454.38 341.95 L454.49 342.54 L454.60 343.13 L454.71 343.72 L454.81 344.31 L454.92 344.90 L455.03 345.49 L455.14 346.08 L455.25 346.67 L455.36 347.26 L455.47 347.85 L455.58 348.44 L455.69 349.03 L455.80 349.62 L455.91 350.21 L456.02 350.80 L456.13 351.39 L456.23 351.98 L456.34 352.57 L456.45 353.16 L456.56 353.75 L456.67 354.34 L456.78 354.93 L456.89 355.52 L457.00 356.11 L457.11 356.70 L457.22 357.29 L457.32 357.88 L457.43 358.47 L457.54 359.06 L457.65 359.65 L457.76 360.24 L457.87 360.83 L457.97 361.42 L458.08 362.01 L458.19 362.60 L458.30 363.19 L458.41 363.78 L458.51 364.38 L458.62 364.97 L458.73 365.56 L458.84 366.15 L458.95 366.74 L459.06 367.33 L459.17 367.91 L459.28 368.50 L459.39 369.09 L459.50 369.68 L459.62 370.27 L459.73 370.86 L459.84 371.45 L459.96 372.04 L460.07 372.63 L460.19 373.22 L460.30 373.81 L460.42 374.40 L460.54 374.98 L460.66 375.57 L460.78 376.16 L460.91 376.75 L461.03 377.33 L461.16 377.92 L461.29 378.51 L461.41 379.09 L461.54 379.68 L461.68 380.26 L461.81 380.85 L461.94 381.43 L462.08 382.02 L462.22 382.60 L462.35 383.18 L462.49 383.77 L462.63 384.35 L462.78 384.93 L462.92 385.52 L463.06 386.10 L463.21 386.68 L463.35 387.26 L463.50 387.85 L463.65 388.43 L463.79 389.01 L463.94 389.59 L464.09 390.17 L464.24 390.75 L464.39 391.34 L464.54 391.92 L464.68 392.50 L464.83 393.08 L464.98 393.66 L465.13 394.24 L465.28 394.82 L465.42 395.41 L465.57 395.99 L465.72 396.57 L465.86 397.15 L466.01 397.73 L466.16 398.31 L466.30 398.90 L466.45 399.48 L466.60 400.06 L466.75 400.64 L466.90 401.22 L467.06 401.80 L467.21 402.38 L467.36 402.96 L467.52 403.54 L467.68 404.12 L467.84 404.70 L468.00 405.27 L468.16 405.85 L468.32 406.43 L468.49 407.01 L468.65 407.58 L468.82 408.16 L468.99 408.74 L469.15 409.31 L469.32 409.89 L469.49 410.47 L469.66 411.04 L469.83 411.62 L470.00 412.19 L470.17 412.77 L470.34 413.34 L470.50 413.92 L470.67 414.50 L470.84 415.07 L471.00 415.65 L471.17 416.23 L471.33 416.80 L471.49 417.38 L471.65 417.96 L471.81 418.54 L471.96 419.12 L472.12 419.70 L472.27 420.28 L472.42 420.86 L472.58 421.44 L472.73 422.02 L472.87 422.60 L473.02 423.18 L473.17 423.76 L473.31 424.35 L473.46 424.93 L473.60 425.51 L473.74 426.09 L473.89 426.68 L474.03 427.26 L474.17 427.84 L474.31 428.43 L474.45 429.01 L474.59 429.59 L474.73 430.18 L474.87 430.76 L475.01 431.34 L475.15 431.93 L475.29 432.51 L475.43 433.09 L475.57 433.68 L475.72 434.26 L475.86 434.84 L476.00 435.43 L476.14 436.01 L476.29 436.59 L476.43 437.17 L476.58 437.76 L476.73 438.34 L476.87 438.92 L477.03 439.50 L477.18 440.08 L477.33 440.66 L477.49 441.24 L477.66 441.82 L477.82 442.39 L477.99 442.97 L478.17 443.54 L478.35 444.12 L478.53 444.69 L478.73 445.25 L478.92 445.82 L479.13 446.38 L479.33 446.95 L479.54 447.51 L479.76 448.07 L479.97 448.63 L480.18 449.19 L480.39 449.76 L480.59 450.32 L480.79 450.88 L480.99 451.45 L481.18 452.02 L481.38 452.59 L481.56 453.16 L481.75 453.73 L481.94 454.30 L482.13 454.87 L482.32 455.44 L482.51 456.00 L482.70 456.57 L482.90 457.14 L483.09 457.71 L483.29 458.27 L483.49 458.84 L483.69 459.40 L483.90 459.97 L484.10 460.53 L484.30 461.10 L484.51 461.66 L484.71 462.23 L484.92 462.79 L485.12 463.35 L485.33 463.92 L485.53 464.48 L485.74 465.04 L485.95 465.61 L486.16 466.17 L486.38 466.73 L486.59 467.29 L486.82 467.85 L487.04 468.40 L487.27 468.96 L487.50 469.51 L487.74 470.06 L487.98 470.61 L488.23 471.16 L488.49 471.70 L488.76 472.24 L489.03 472.77 L489.32 473.30 L489.61 473.83 L489.92 474.34 L490.23 474.85 L490.56 475.35 L490.90 475.85 L491.25 476.33 L491.61 476.81 L491.98 477.29 L492.36 477.75 L492.75 478.21 L493.15 478.66 L493.55 479.11 L493.96 479.54 L494.38 479.97 L494.80 480.40 L495.23 480.82 L495.67 481.23 L496.11 481.64 L496.55 482.04 L497.00 482.44 L497.45 482.84 L497.91 483.23 L498.36 483.62 L498.82 484.01 L499.28 484.39 L499.75 484.78 L500.21 485.16 L500.67 485.54 L501.13 485.93 L501.59 486.31 L502.05 486.71 L502.49 487.10 L502.94 487.51 L503.37 487.92 L503.80 488.34 L504.22 488.77 L504.63 489.20 L505.03 489.65 L505.43 490.10 L505.82 490.55 L506.20 491.01 L506.59 491.48 L506.96 491.94 L507.34 492.41 L507.71 492.88 L508.08 493.36 L508.45 493.83 L508.82 494.30 L509.18 494.78 L509.55 495.26 L509.92 495.73 L510.28 496.21 L510.65 496.68 L511.01 497.16 L511.38 497.63 L511.75 498.11 L512.11 498.58 L512.48 499.06 L512.85 499.53 L513.22 500.00 L513.59 500.47 L513.96 500.94 L514.34 501.41 L514.71 501.89 L515.08 502.36 L515.45 502.83 L515.82 503.30 L516.19 503.77 L516.56 504.25 L516.92 504.73 L517.28 505.21 L517.63 505.69 L517.98 506.18 L518.33 506.67 L518.67 507.16 L519.00 507.66 L519.34 508.16 L519.67 508.66 L519.99 509.17 L520.31 509.68 L520.63 510.19 L520.94 510.70 L521.25 511.22 L521.55 511.74 L521.84 512.26 L522.13 512.79 L522.41 513.32 L522.67 513.86 L522.93 514.40 L523.18 514.94 L523.41 515.49 L523.64 516.05 L523.85 516.61 L524.06 517.17 L524.26 517.74 L524.46 518.30 L524.65 518.87 L524.83 519.45 L525.02 520.02 L525.20 520.59 L525.38 521.16 L525.56 521.74 L525.73 522.31 L525.91 522.89 L526.08 523.46 L526.25 524.04 L526.41 524.61 L526.57 525.19 L526.73 525.77 L526.89 526.35 L527.05 526.93 L527.20 527.51 L527.35 528.09 L527.49 528.67 L527.64 529.25 L527.78 529.84 L527.91 530.42 L528.05 531.01 L528.18 531.59 L528.31 532.18 L528.44 532.76 L528.57 533.35 L528.70 533.94 L528.82 534.52 L528.94 535.11 L529.07 535.70 L529.19 536.29 L529.32 536.87 L529.44 537.46 L529.57 538.04 L529.70 538.63 L529.83 539.22 L529.97 539.80 L530.11 540.38 L530.25 540.97 L530.40 541.55 L530.54 542.13 L530.69 542.71 L530.84 543.29 L530.98 543.88 L531.13 544.46 L531.27 545.04 L531.40 545.63 L531.53 546.21 L531.66 546.80 L531.78 547.38 L531.89 547.97 L532.00 548.56 L532.11 549.15 L532.22 549.74 L532.32 550.33 L532.42 550.93 L532.52 551.52 L532.61 552.11 L532.71 552.70 L532.80 553.30 L532.90 553.89 L532.99 554.48 L533.09 555.07 L533.19 555.67 L533.29 556.26 L533.39 556.85 L533.49 557.44 L533.60 558.03 L533.71 558.62 L533.82 559.21 L533.94 559.80 L534.05 560.39 L534.17 560.98 L534.29 561.56 L534.41 562.15 L534.53 562.74 L534.65 563.33 L534.77 563.92 L534.89 564.50 L535.01 565.09 L535.14 565.68 L535.26 566.27 L535.37 566.85 L535.49 567.44 L535.61 568.03 L535.73 568.62 L535.85 569.21 L535.97 569.80 L536.08 570.38 L536.20 570.97 L536.31 571.56 L536.43 572.15 L536.55 572.74 L536.66 573.33 L536.78 573.92 L536.89 574.51 L537.01 575.09 L537.12 575.68 L537.24 576.27 L537.35 576.86 L537.47 577.45 L537.59 578.04 L537.71 578.63 L537.83 579.21 L537.95 579.80 L538.08 580.39 L538.20 580.97 L538.33 581.56 L538.46 582.15 L538.59 582.73 L538.73 583.32 L538.86 583.90 L539.00 584.48 L539.14 585.07 L539.28 585.65 L539.42 586.23 L539.56 586.82 L539.71 587.40 L539.85 587.98 L540.00 588.56 L540.14 589.15 L540.29 589.73 L540.44 590.31 L540.58 590.89 L540.73 591.47 L540.88 592.05 L541.03 592.64 L541.18 593.22 L541.34 593.80 L541.49 594.38 L541.65 594.96 L541.81 595.53 L541.96 596.11 L542.12 596.69 L542.29 597.27 L542.45 597.85 L542.62 598.42 L542.78 599.00 L542.96 599.57 L543.13 600.15 L543.31 600.72 L543.49 601.29 L543.68 601.86 L543.87 602.43 L544.06 603.00 L544.26 603.57 L544.46 604.13 L544.67 604.69 L544.88 605.26 L545.09 605.82 L545.30 606.38 L545.52 606.94 L545.73 607.50 L545.94 608.06 L546.16 608.62 L546.37 609.18 L546.58 609.75 L546.78 610.31 L546.99 610.87 L547.20 611.44 L547.41 612.00 L547.62 612.56 L547.84 613.12 L548.06 613.68 L548.28 614.23 L548.51 614.79 L548.75 615.34 L548.99 615.89 L549.24 616.44 L549.49 616.98 L549.75 617.52 L550.02 618.06 L550.29 618.59 L550.57 619.13 L550.85 619.65 L551.14 620.18 L551.43 620.70 L551.73 621.22 L552.04 621.74 L552.35 622.25 L552.66 622.77 L552.98 623.28 L553.30 623.78 L553.62 624.29 L553.94 624.80 L554.27 625.30 L554.59 625.81 L554.92 626.31 L555.24 626.81 L555.57 627.32 L555.89 627.82 L556.21 628.33 L556.53 628.84 L556.85 629.35 L557.17 629.85 L557.49 630.36 L557.80 630.88 L558.11 631.39 L558.42 631.90 L558.73 632.42 L559.04 632.93 L559.34 633.45 L559.64 633.97 L559.94 634.49 L560.23 635.01 L560.52 635.54 L560.81 636.06 L561.10 636.59 L561.38 637.12 L561.66 637.65 L561.94 638.18 L562.21 638.72 L562.48 639.25 L562.75 639.79 L563.02 640.33 L563.28 640.87 L563.54 641.41 L563.80 641.95 L564.06 642.49 L564.31 643.03 L564.57 643.58 L564.82 644.12 L565.08 644.66 L565.33 645.21 L565.58 645.75 L565.83 646.30 L566.09 646.84 L566.34 647.39 L566.59 647.93 L566.84 648.47 L567.10 649.02 L567.35 649.56 L567.60 650.11 L567.86 650.65 L568.11 651.19 L568.37 651.74 L568.63 652.28 L568.88 652.82 L569.14 653.37 L569.40 653.91 L569.67 654.45 L569.93 654.98 L570.21 655.52 L570.48 656.05 L570.77 656.58 L571.05 657.10 L571.35 657.63 L571.65 658.14 L571.96 658.65 L572.28 659.16 L572.61 659.66 L572.95 660.16 L573.28 660.66 L573.63 661.15 L573.98 661.63 L574.33 662.12 L574.69 662.60 L575.05 663.08 L575.41 663.56 L575.78 664.04 L576.14 664.52 L576.51 664.99 L576.87 665.47 L577.24 665.94 L577.61 666.42 L577.98 666.89 L578.34 667.37 L578.71 667.84 L579.08 668.31 L579.45 668.78 L579.82 669.26 L580.19 669.73 L580.56 670.20 L580.93 670.68 L581.29 671.15 L581.66 671.63 L582.02 672.11 L582.39 672.58 L582.75 673.06 L583.11 673.54 L583.46 674.02 L583.82 674.51 L584.17 674.99 L584.53 675.48 L584.88 675.96 L585.24 676.45 L585.60 676.93 L585.95 677.41 L586.32 677.89 L586.68 678.37 L587.05 678.85 L587.42 679.32 L587.80 679.79 L588.19 680.26 L588.58 680.71 L588.99 681.15 L589.40 681.58 L589.83 682.00 L590.27 682.40 L590.72 682.79 L591.19 683.16 L591.67 683.50 L592.17 683.84 L592.68 684.15 L593.20 684.45 L593.72 684.74 L594.26 685.02 L594.80 685.29 L595.34 685.55 L595.89 685.81 L596.43 686.06 L596.98 686.31 L597.52 686.57 L598.06 686.84 L598.59 687.12 L599.10 687.42 L599.61 687.73 L600.10 688.07 L600.58 688.42 L601.05 688.79 L601.51 689.18 L601.96 689.57 L602.40 689.98 L602.83 690.40 L603.25 690.82 L603.67 691.26 L604.09 691.69 L604.50 692.13 L604.90 692.58 L605.31 693.02 L605.71 693.47 L606.12 693.91 L606.53 694.36 L606.94 694.80 L607.35 695.24 L607.77 695.67 L608.20 696.09 L608.64 696.51 L609.08 696.91 L609.54 697.29 L610.00 697.66 L610.48 698.02 L610.98 698.35 L611.49 698.65 L612.01 698.93 L612.54 699.20 L613.09 699.45 L613.64 699.70 L614.19 699.93 L614.75 700.17 L615.30 700.41 L615.85 700.66 L616.40 700.92 L616.94 701.19 L617.47 701.48 L617.99 701.78 L618.50 702.10 L618.99 702.43 L619.46 702.79 L619.92 703.16 L620.36 703.56 L620.78 703.98 L621.18 704.42 L621.56 704.88 L621.93 705.35 L622.28 705.84 L622.63 706.33 L622.96 706.84 L623.29 707.35 L623.60 707.87 L623.91 708.38 L624.22 708.91 L624.52 709.43 L624.82 709.95 L625.11 710.48 L625.40 711.01 L625.68 711.53 L625.97 712.06 L626.25 712.59 L626.53 713.12 L626.82 713.65 L627.10 714.18 L627.38 714.71 L627.67 715.24 L627.95 715.76 L628.24 716.29 L628.53 716.82 L628.82 717.34 L629.10 717.87 L629.40 718.39 L629.69 718.92 L629.98 719.44 L630.27 719.97 L630.57 720.49 L630.87 721.01 L631.16 721.53 L631.46 722.06 L631.76 722.58 L632.07 723.09 L632.38 723.61 L632.70 724.12 L633.03 724.62 L633.36 725.13 L633.70 725.62 L634.05 726.11 L634.41 726.60 L634.78 727.08 L635.16 727.55 L635.56 728.00 L635.97 728.45 L636.39 728.88 L636.82 729.30 L637.27 729.69 L637.73 730.07 L638.21 730.43 L638.71 730.77 L639.21 731.08 L639.74 731.36 L640.27 731.63 L640.82 731.86 L641.38 732.08 L641.95 732.27 L642.52 732.43 L643.11 732.57 L643.69 732.68 L644.29 732.78 L644.88 732.86 L645.48 732.93 L646.08 732.99 L646.69 733.05 L647.29 733.11 L647.89 733.17 L648.49 733.25 L649.09 733.34 L649.69 733.44 L650.28 733.56 L650.86 733.69 L651.43 733.85 L652.00 734.03 L652.56 734.24 L653.10 734.47 L653.64 734.73 L654.16 735.01 L654.68 735.31 L655.18 735.64 L655.67 735.98 L656.15 736.34 L656.63 736.71 L657.10 737.09 L657.56 737.48 L658.01 737.88 L658.46 738.28 L658.90 738.69 L659.34 739.11 L659.77 739.52 L660.20 739.94 L660.64 740.36 L661.07 740.77 L661.50 741.19 L661.94 741.60 L662.38 742.02 L662.82 742.43 L663.26 742.83 L663.70 743.24 L664.15 743.64 L664.60 744.03 L665.05 744.43 L665.50 744.82 L665.96 745.21 L666.42 745.60 L666.88 745.98 L667.35 746.35 L667.82 746.73 L668.30 747.09 L668.77 747.46 L669.26 747.81 L669.74 748.17 L670.23 748.51 L670.73 748.85 L671.23 749.18 L671.73 749.51 L672.24 749.83 L672.75 750.14 L673.26 750.45 L673.78 750.76 L674.30 751.06 L674.82 751.36 L675.34 751.65 L675.87 751.94 L676.39 752.23 L676.92 752.52 L677.45 752.81 L677.97 753.09 L678.50 753.38 L679.03 753.66 L679.56 753.95 L680.09 754.23 L680.61 754.52 L681.14 754.80 L681.67 755.09 L682.19 755.39 L682.72 755.68 L683.24 755.97 L683.76 756.27 L684.27 756.58 L684.79 756.88 L685.30 757.20 L685.81 757.51 L686.32 757.83 L686.82 758.16 L687.33 758.48 L687.83 758.81 L688.33 759.15 L688.83 759.48 L689.33 759.81 L689.83 760.15 L690.33 760.48 L690.83 760.81 L691.34 761.13 L691.85 761.45 L692.36 761.77 L692.88 762.08 L693.40 762.38 L693.92 762.66 L694.46 762.93 L694.99 763.19 L695.54 763.43 L696.09 763.66 L696.65 763.86 L697.22 764.06 L697.79 764.23 L698.37 764.40 L698.94 764.56 L699.53 764.71 L700.11 764.86 L700.69 765.01 L701.28 765.16 L701.86 765.31 L702.44 765.46 L703.02 765.62 L703.60 765.79 L704.17 765.96 L704.74 766.14 L705.31 766.32 L705.88 766.52 L706.44 766.73 L706.99 766.96 L707.55 767.19 L708.10 767.42 L708.65 767.67 L709.19 767.92 L709.73 768.17 L710.28 768.43 L710.82 768.69 L711.36 768.95 L711.90 769.21 L712.44 769.47 L712.98 769.74 L713.52 770.00 L714.06 770.26 L714.61 770.51 L715.15 770.77 L715.69 771.03 L716.23 771.28 L716.78 771.54 L717.32 771.79 L717.87 772.04 L718.41 772.29 L718.96 772.54 L719.50 772.79 L720.05 773.03 L720.60 773.28 L721.15 773.52 L721.69 773.77 L722.24 774.01 L722.79 774.26 L723.34 774.51 L723.88 774.75 L724.43 775.00 L724.98 775.25 L725.52 775.49 L726.07 775.74 L726.62 775.99 L727.16 776.23 L727.71 776.48 L728.26 776.73 L728.81 776.97 L729.35 777.22 L729.90 777.46 L730.45 777.71 L731.00 777.95 L731.55 778.18 L732.11 778.41 L732.66 778.64 L733.22 778.86 L733.78 779.08 L734.34 779.28 L734.91 779.48 L735.48 779.67 L736.05 779.86 L736.62 780.04 L737.19 780.21 L737.77 780.38 L738.34 780.55 L738.92 780.71 L739.50 780.87 L740.08 781.04 L740.66 781.20 L741.23 781.36 L741.81 781.52 L742.39 781.68 L742.97 781.83 L743.55 781.99 L744.13 782.15 L744.71 782.30 L745.29 782.45 L745.87 782.60 L746.45 782.75 L747.04 782.89 L747.62 783.04 L748.20 783.18 L748.78 783.33 L749.36 783.48 L749.95 783.62 L750.53 783.77 L751.11 783.93 L751.68 784.09 L752.26 784.25 L752.84 784.41 L753.41 784.58 L753.99 784.75 L754.56 784.92 L755.14 785.10 L755.71 785.27 L756.29 785.45 L756.86 785.63 L757.43 785.80 L758.01 785.98 L758.58 786.16 L759.15 786.33 L759.73 786.51 L760.30 786.68 L760.88 786.85 L761.45 787.02 L762.03 787.19 L762.61 787.35 L763.18 787.51 L763.76 787.67 L764.34 787.83 L764.92 787.98 L765.50 788.13 L766.09 788.27 L766.67 788.41 L767.25 788.55 L767.84 788.69 L768.42 788.82 L769.01 788.95 L769.60 789.07 L770.18 789.19 L770.77 789.31 L771.36 789.43 L771.95 789.55 L772.54 789.67 L773.13 789.78 L773.71 789.90 L774.30 790.02 L774.89 790.13 L775.48 790.25 L776.07 790.37 L776.66 790.49 L777.24 790.61 L777.83 790.73 L778.42 790.84 L779.01 790.95 L779.60 791.07 L780.19 791.17 L780.78 791.28 L781.37 791.38 L781.97 791.48 L782.56 791.57 L783.15 791.66 L783.75 791.75 L784.34 791.83 L784.93 791.91 L785.53 791.98 L786.13 792.05 L786.72 792.11 L787.32 792.17 L787.92 792.23 L788.52 792.27 L789.12 792.32 L789.71 792.35 L790.31 792.38 L790.91 792.40 L791.51 792.41 L792.11 792.42 L792.71 792.42 L793.31 792.41 L793.91 792.40 L794.51 792.39 L795.11 792.37 L795.71 792.34 L796.31 792.32 L796.91 792.29 L797.51 792.26 L798.11 792.24 L798.71 792.21 L799.31 792.19 L799.91 792.17 L800.51 792.16 L801.11 792.15 L801.71 792.15 L802.31 792.16 L802.91 792.18 L803.51 792.20 L804.11 792.24 L804.71 792.29 L805.31 792.35 L805.90 792.42 L806.49 792.50 L807.08 792.60 L807.67 792.70 L808.26 792.82 L808.84 792.96 L809.43 793.09 L810.01 793.24 L810.59 793.39 L811.17 793.54 L811.75 793.70 L812.34 793.85 L812.92 794.00 L813.50 794.15 L814.09 794.29 L814.67 794.42 L815.26 794.55 L815.85 794.67 L816.44 794.79 L817.03 794.89 L817.62 794.99 L818.21 795.08 L818.80 795.16 L819.40 795.22 L820.00 795.28 L820.59 795.33 L821.19 795.36 L821.79 795.39 L822.39 795.41 L822.99 795.42 L823.59 795.43 L824.19 795.42 L824.79 795.41 L825.39 795.39 L825.99 795.37 L826.59 795.34 L827.19 795.31 L827.79 795.28 L828.39 795.24 L828.99 795.20 L829.59 795.17 L830.19 795.13 L830.79 795.10 L831.39 795.06 L831.99 795.03 L832.59 795.01 L833.19 794.99 L833.79 794.98 L834.39 794.97 L834.99 794.98 L835.59 794.99 L836.19 795.01 L836.79 795.05 L837.39 795.09 L837.99 795.15 L838.58 795.23 L839.17 795.32 L839.76 795.44 L840.34 795.57 L840.92 795.72 L841.49 795.88 L842.06 796.06 L842.63 796.25 L843.20 796.45 L843.77 796.65 L844.33 796.85 L844.90 797.05 L845.47 797.26 L846.04 797.45 L846.60 797.65 L847.17 797.84 L847.75 798.03 L848.32 798.21 L848.89 798.38 L849.47 798.54 L850.05 798.69 L850.64 798.83 L851.22 798.96 L851.81 799.08 L852.40 799.19 L852.99 799.28 L853.58 799.35 L854.18 799.42 L854.77 799.47 L855.37 799.51 L855.97 799.54 L856.57 799.56 L857.17 799.57 L857.77 799.58 L858.38 799.58 L858.98 799.58 L859.58 799.58 L860.18 799.57 L860.78 799.55 L861.38 799.54 L861.98 799.52 L862.58 799.50 L863.18 799.47 L863.78 799.45 L864.38 799.42 L864.98 799.39 L865.58 799.36 L866.18 799.33 L866.78 799.30 L867.37 799.27 L867.97 799.24 L868.57 799.21 L869.17 799.18 L869.77 799.16 L870.37 799.13 L870.97 799.11 L871.57 799.09 L872.17 799.08 L872.77 799.06 L873.37 799.05 L873.97 799.04 L874.57 799.03 L875.17 799.02 L875.77 799.01 L876.37 799.01 L876.97 799.01 L877.58 799.00 L878.18 799.00 L878.78 798.99 L879.38 798.98 L879.99 798.97 L880.59 798.95 L881.20 798.92 L881.80 798.89 L882.40 798.84 L883.00 798.78 L883.60 798.70 L884.19 798.60 L884.76 798.47 L885.33 798.30 L885.88 798.10 L886.41 797.85 L886.93 797.57 L887.43 797.25 L887.92 796.91 L888.39 796.54 L888.84 796.14 L889.28 795.73 L889.70 795.30 L890.11 794.86 L890.50 794.40 L890.88 793.93 L891.25 793.45 L891.60 792.96 L891.95 792.46 L892.28 791.96 L892.61 791.45 L892.93 790.94 L893.24 790.42 L893.54 789.90 L893.83 789.38 L894.12 788.85 L894.40 788.32 L894.68 787.79 L894.95 787.25 L895.22 786.71 L895.48 786.17 L895.74 785.63 L895.99 785.09 L896.24 784.54 L896.48 783.99 L896.72 783.44 L896.96 782.89 L897.19 782.34 L897.42 781.78 L897.65 781.23 L897.87 780.67 L898.09 780.11 L898.31 779.55 L898.53 778.99 L898.74 778.43 L898.95 777.87 L899.15 777.31 L899.36 776.74 L899.56 776.18 L899.76 775.61 L899.96 775.04 L900.16 774.48 L900.35 773.91 L900.55 773.34 L900.74 772.78 L900.94 772.21 L901.13 771.64 L901.32 771.07 L901.51 770.50 L901.70 769.93 L901.89 769.36 L902.08 768.79 L902.27 768.23 L902.46 767.66 L902.65 767.09 L902.84 766.52 L903.02 765.95 L903.21 765.38 L903.40 764.81 L903.59 764.24 L903.78 763.67 L903.96 763.10 L904.15 762.53 L904.34 761.96 L904.53 761.39 L904.72 760.82 L904.91 760.25 L905.10 759.68 L905.28 759.11 L905.47 758.54 L905.66 757.97 L905.86 757.40 L906.05 756.83 L906.24 756.27 L906.43 755.70 L906.62 755.13 L906.82 754.57 L907.01 754.00 L907.21 753.43 L907.41 752.87 L907.61 752.30 L907.81 751.74 L908.01 751.17 L908.22 750.61 L908.42 750.04 L908.64 749.48 L908.85 748.91 L909.07 748.35 L909.29 747.79 L909.51 747.22 L909.74 746.66 L909.98 746.10 L910.22 745.55 L910.48 745.00 L910.75 744.46 L911.03 743.93 L911.32 743.40 L911.64 742.89 L911.97 742.39 L912.32 741.90 L912.70 741.43 L913.09 740.98 L913.51 740.55 L913.95 740.15 L914.41 739.77 L914.90 739.43 L915.40 739.12 L915.93 738.85 L916.47 738.61 L917.03 738.40 L917.60 738.23 L918.18 738.10 L918.77 737.99 L919.37 737.91 L919.97 737.86 L920.57 737.84 L921.17 737.83 L921.78 737.85 L922.38 737.87 L922.98 737.92 L923.58 737.98 L924.18 738.05 L924.78 738.14 L925.37 738.23 L925.96 738.34 L926.55 738.46 L927.14 738.58 L927.73 738.71 L928.31 738.84 L928.90 738.98 L929.49 739.11 L930.07 739.25 L930.66 739.38 L931.25 739.51 L931.83 739.65 L932.42 739.79 L933.00 739.93 L933.58 740.09 L934.16 740.25 L934.73 740.43 L935.30 740.62 L935.86 740.83 L936.42 741.06 L936.96 741.31 L937.49 741.58 L938.01 741.87 L938.52 742.18 L939.01 742.52 L939.49 742.87 L939.96 743.24 L940.42 743.63 L940.87 744.03 L941.31 744.44 L941.74 744.86 L942.16 745.29 L942.57 745.73 L942.98 746.17 L943.38 746.62 L943.77 747.08 L944.16 747.54 L944.55 748.00 L944.93 748.47 L945.31 748.93 L945.68 749.40 L946.05 749.87 L946.42 750.35 L946.79 750.82 L947.16 751.29 L947.53 751.77 L947.89 752.25 L948.26 752.72 L948.62 753.20 L948.98 753.68 L949.34 754.16 L949.71 754.63 L950.07 755.11 L950.43 755.59 L950.79 756.07 L951.15 756.55 L951.52 757.03 L951.88 757.51 L952.24 757.98 L952.60 758.46 L952.96 758.94 L953.32 759.42 L953.69 759.90 L954.05 760.38 L954.41 760.86 L954.77 761.34 L955.13 761.81 L955.50 762.29 L955.86 762.77 L956.22 763.25 L956.58 763.73 L956.95 764.20 L957.31 764.68 L957.68 765.15 L958.05 765.63 L958.43 766.10 L958.80 766.57 L959.18 767.03 L959.56 767.50 L959.95 767.96 L960.34 768.41 L960.74 768.87 L961.15 769.31 L961.56 769.75 L961.98 770.18 L962.41 770.60 L962.86 771.00 L963.31 771.40 L963.77 771.78 L964.24 772.15 L964.73 772.50 L965.23 772.83 L965.74 773.14 L966.26 773.43 L966.80 773.69 L967.35 773.92 L967.91 774.13 L968.47 774.32 L969.05 774.49 L969.63 774.64 L970.22 774.77 L970.81 774.89 L971.40 774.99 L972.00 775.08 L972.59 775.15 L973.19 775.22 L973.79 775.27 L974.39 775.31 L975.00 775.33 L975.60 775.35 L976.20 775.36 L976.80 775.36 L977.40 775.35 L978.00 775.33 L978.60 775.29 L979.20 775.25 L979.80 775.20 L980.40 775.13 L981.00 775.05 L981.59 774.96 L982.18 774.85 L982.77 774.73 L983.35 774.59 L983.93 774.44 L984.51 774.27 L985.08 774.09 L985.64 773.89 L986.20 773.67 L986.75 773.43 L987.29 773.18 L987.82 772.90 L988.34 772.62 L988.86 772.31 L989.37 772.00 L989.87 771.67 L990.37 771.34 L990.87 771.00 L991.37 770.66 L991.86 770.31 L992.35 769.96 L992.84 769.61 L993.33 769.26 L993.83 768.92 L994.32 768.57 L994.82 768.23 L995.32 767.90 L995.82 767.57 L996.32 767.24 L996.82 766.92 L997.33 766.60 L997.84 766.28 L998.36 765.97 L998.88 765.67 L999.40 765.38 L999.92 765.09 L1000.45 764.80 L1000.98 764.53 L1001.52 764.26 L1002.06 764.00 L1002.60 763.75 L1003.15 763.50 L1003.70 763.26 L1004.25 763.03 L1004.81 762.79 L1005.36 762.56 L1005.92 762.34 L1006.47 762.11 L1007.03 761.89 L1007.59 761.66 L1008.14 761.44 L1008.70 761.22 L1009.26 760.99 L1009.81 760.77 L1010.37 760.54 L1010.93 760.32 L1011.48 760.09 L1012.04 759.87 L1012.60 759.65 L1013.16 759.43 L1013.72 759.22 L1014.28 759.02 L1014.85 758.82 L1015.42 758.63 L1015.99 758.44 L1016.56 758.27 L1017.14 758.10 L1017.72 757.94 L1018.30 757.78 L1018.88 757.64 L1019.46 757.50 L1020.05 757.37 L1020.64 757.25 L1021.23 757.13 L1021.82 757.03 L1022.41 756.93 L1023.00 756.84 L1023.60 756.76 L1024.19 756.69 L1024.79 756.63 L1025.39 756.57 L1025.98 756.52 L1026.58 756.48 L1027.18 756.44 L1027.78 756.41 L1028.38 756.38 L1028.98 756.36 L1029.58 756.33 L1030.18 756.31 L1030.78 756.28 L1031.38 756.25 L1031.98 756.21 L1032.57 756.17 L1033.17 756.12 L1033.77 756.08 L1034.37 756.03 L1034.97 755.98 L1035.57 755.93 L1036.16 755.88 L1036.76 755.84 L1037.36 755.80 L1037.96 755.76 L1038.56 755.74 L1039.16 755.72 L1039.76 755.71 L1040.36 755.70 L1040.96 755.71 L1041.56 755.73 L1042.16 755.76 L1042.76 755.81 L1043.35 755.86 L1043.95 755.93 L1044.54 756.01 L1045.14 756.10 L1045.73 756.20 L1046.32 756.31 L1046.90 756.44 L1047.49 756.56 L1048.08 756.69 L1048.66 756.82 L1049.25 756.94 L1049.84 757.04 L1050.43 757.14 L1051.02 757.21 L1051.62 757.28 L1052.21 757.33 L1052.81 757.37 L1053.41 757.41 L1054.01 757.43 L1054.61 757.45 L1055.21 757.47 L1055.81 757.47 L1056.41 757.48 L1057.01 757.48 L1057.61 757.47 L1058.21 757.46 L1058.81 757.45 L1059.41 757.43 L1060.01 757.41 L1060.61 757.39 L1061.22 757.36 L1061.82 757.34 L1062.42 757.32 L1063.02 757.31 L1063.62 757.30 L1064.21 757.29 L1064.81 757.30 L1065.41 757.32 L1066.01 757.35 L1066.60 757.39 L1067.20 757.45 L1067.80 757.51 L1068.39 757.58 L1068.99 757.66 L1069.58 757.74 L1070.18 757.82 L1070.77 757.91 L1071.37 757.99 L1071.97 758.08 L1072.56 758.16 L1073.16 758.23 L1073.76 758.29 L1074.36 758.35 L1074.96 758.39 L1075.56 758.42 L1076.16 758.44 L1076.76 758.44 L1077.36 758.42 L1077.95 758.38 L1078.55 758.31 L1079.13 758.23 L1079.72 758.11 L1080.29 757.97 L1080.86 757.80 L1081.43 757.61 L1081.99 757.40 L1082.55 757.18 L1083.11 756.95 L1083.66 756.72 L1084.22 756.48 L1084.78 756.25 L1085.34 756.03 L1085.91 755.82 L1086.48 755.62 L1087.05 755.44 L1087.62 755.28 L1088.20 755.14 L1088.79 755.03 L1089.37 754.94 L1089.97 754.88 L1090.56 754.84 L1091.16 754.83 L1091.76 754.83 L1092.36 754.86 L1092.96 754.90 L1093.56 754.96 L1094.15 755.03 L1094.75 755.10 L1095.35 755.18 L1095.95 755.26 L1096.55 755.34 L1097.15 755.41 L1097.75 755.46 L1098.35 755.50 L1098.95 755.52 L1099.55 755.53 L1100.15 755.51 L1100.74 755.46 L1101.34 755.39 L1101.92 755.29 L1102.50 755.15 L1103.07 755.00 L1103.64 754.81 L1104.20 754.60 L1104.75 754.36 L1105.29 754.11 L1105.82 753.83 L1106.34 753.53 L1106.86 753.23 L1107.38 752.91 L1107.88 752.58 L1108.39 752.25 L1108.90 751.92 L1109.41 751.59 L1109.92 751.27 L1110.44 750.96 L1110.96 750.66 L1111.48 750.38 L1112.02 750.12 L1112.57 749.88 L1113.13 749.67 L1113.69 749.48 L1114.26 749.32 L1114.85 749.19 L1115.43 749.08 L1116.02 749.00 L1116.62 748.94 L1117.21 748.91 L1117.81 748.90 L1118.41 748.91 L1119.02 748.93 L1119.62 748.97 L1120.22 749.01 L1120.82 749.07 L1121.42 749.13 L1122.02 749.20 L1122.62 749.27 L1123.22 749.33 L1123.82 749.40 L1124.42 749.47 L1125.02 749.53 L1125.62 749.58 L1126.23 749.61 L1126.83 749.63 L1127.42 749.63 L1128.02 749.60 L1128.61 749.54 L1129.20 749.45 L1129.78 749.33 L1130.36 749.18 L1130.93 749.01 L1131.49 748.80 L1132.04 748.57 L1132.58 748.31 L1133.11 748.03 L1133.64 747.74 L1134.15 747.43 L1134.67 747.11 L1135.18 746.78 L1135.68 746.45 L1136.19 746.12 L1136.70 745.79 L1137.21 745.47 L1137.73 745.17 L1138.25 744.87 L1138.78 744.60 L1139.32 744.35 L1139.87 744.12 L1140.43 743.91 L1141.00 743.74 L1141.57 743.58 L1142.15 743.45 L1142.74 743.34 L1143.33 743.25 L1143.93 743.18 L1144.52 743.12 L1145.13 743.08 L1145.73 743.05 L1146.33 743.03 L1146.93 743.00 L1147.54 742.98 L1148.14 742.96 L1148.74 742.93 L1149.34 742.90 L1149.94 742.85 L1150.54 742.79 L1151.13 742.71 L1151.72 742.61 L1152.30 742.50 L1152.89 742.36 L1153.46 742.20 L1154.03 742.02 L1154.60 741.83 L1155.16 741.62 L1155.71 741.39 L1156.26 741.14 L1156.80 740.89 L1157.34 740.63 L1157.88 740.36 L1158.42 740.09 L1158.96 739.82 L1159.49 739.55 L1160.03 739.29 L1160.58 739.03 L1161.12 738.77 L1161.67 738.53 L1162.23 738.30 L1162.79 738.07 L1163.35 737.86 L1163.92 737.66 L1164.49 737.47 L1165.07 737.29 L1165.65 737.14 L1166.23 737.02 L1166.82 736.92 L1167.41 736.86 L1168.01 736.84 L1168.61 736.85 L1169.20 736.90 L1169.79 736.98 L1170.38 737.09 L1170.96 737.23 L1171.54 737.40 L1172.11 737.59 L1172.67 737.81 L1173.22 738.05 L1173.76 738.31 L1174.30 738.58 L1174.83 738.87 L1175.36 739.17 L1175.88 739.47 L1176.39 739.79 L1176.90 740.11 L1177.41 740.43 L1177.92 740.75 L1178.43 741.08 L1178.94 741.40 L1179.45 741.72 L1179.96 742.03 L1180.48 742.33 L1181.01 742.62 L1181.54 742.90 L1182.08 743.16 L1182.62 743.40 L1183.18 743.63 L1183.74 743.84 L1184.30 744.03 L1184.88 744.19 L1185.45 744.33 L1186.04 744.45 L1186.63 744.55 L1187.22 744.64 L1187.82 744.71 L1188.42 744.77 L1189.02 744.83 L1189.62 744.88 L1190.22 744.93 L1190.82 744.98 L1191.42 745.03 L1192.02 745.10 L1192.62 745.17 L1193.21 745.27 L1193.80 745.38 L1194.38 745.51 L1194.96 745.67 L1195.53 745.84 L1196.09 746.04 L1196.65 746.25 L1197.19 746.49 L1197.73 746.75 L1198.26 747.03 L1198.79 747.32 L1199.30 747.63 L1199.81 747.95 L1200.31 748.28 L1200.81 748.61 L1201.31 748.96 L1201.80 749.30 L1202.29 749.65 L1202.77 750.01 L1203.25 750.37 L1203.73 750.73 L1204.21 751.10 L1204.69 751.46 L1205.16 751.83 L1205.64 752.20 L1206.12 752.56 L1206.59 752.93 L1207.07 753.29 L1207.56 753.65 L1208.04 754.00 L1208.54 754.35 L1209.03 754.69 L1209.53 755.02 L1210.04 755.34 L1210.56 755.65 L1211.08 755.94 L1211.61 756.22 L1212.15 756.49 L1212.69 756.73 L1213.25 756.96 L1213.81 757.17 L1214.38 757.36 L1214.95 757.53 L1215.53 757.68 L1216.12 757.81 L1216.71 757.91 L1217.30 757.99 L1217.90 758.06 L1218.49 758.10 L1219.09 758.13 L1219.69 758.13 L1220.29 758.12 L1220.89 758.10 L1221.49 758.06 L1222.09 758.01 L1222.69 757.95 L1223.29 757.88 L1223.89 757.81 L1224.48 757.72 L1225.08 757.64 L1225.68 757.55 L1226.27 757.47 L1226.87 757.39 L1227.47 757.32 L1228.07 757.25 L1228.67 757.20 L1229.27 757.16 L1229.87 757.14 L1230.47 757.13 L1231.07 757.16 L1231.66 757.20 L1232.26 757.28 L1232.84 757.39 L1233.42 757.52 L1234.00 757.68 L1234.56 757.88 L1235.11 758.10 L1235.65 758.35 L1236.18 758.63 L1236.69 758.93 L1237.20 759.26 L1237.69 759.60 L1238.18 759.96 L1238.65 760.33 L1239.12 760.72 L1239.57 761.11 L1240.02 761.51 L1240.46 761.92 L1240.90 762.34 L1241.33 762.76 L1241.76 763.18 L1242.18 763.61 L1242.60 764.04 L1243.02 764.47 L1243.44 764.90 L1243.87 765.33 L1244.29 765.76 L1244.71 766.18 L1245.14 766.60 L1245.58 767.02 L1246.02 767.43 L1246.47 767.83 L1246.92 768.23 L1247.38 768.61 L1247.86 768.99 L1248.34 769.35 L1248.83 769.70 L1249.33 770.03 L1249.84 770.34 L1250.36 770.63 L1250.90 770.90 L1251.44 771.15 L1252.00 771.37 L1252.56 771.57 L1253.13 771.73 L1253.71 771.86 L1254.30 771.97 L1254.89 772.04 L1255.49 772.10 L1256.09 772.13 L1256.69 772.13 L1257.29 772.12 L1257.89 772.09 L1258.49 772.05 L1259.09 772.00 L1259.69 771.93 L1260.29 771.87 L1260.89 771.80 L1261.49 771.73 L1262.09 771.66 L1262.69 771.60 L1263.29 771.55 L1263.89 771.51 L1264.49 771.47 L1265.09 771.45 L1265.69 771.44 L1266.28 771.45 L1266.88 771.48 L1267.48 771.52 L1268.08 771.57 L1268.67 771.65 L1269.26 771.74 L1269.85 771.85 L1270.44 771.98 L1271.02 772.13 L1271.59 772.29 L1272.16 772.48 L1272.73 772.67 L1273.29 772.88 L1273.85 773.10 L1274.41 773.34 L1274.96 773.58 L1275.50 773.83 L1276.04 774.09 L1276.58 774.36 L1277.11 774.64 L1277.65 774.92 L1278.18 775.20 L1278.70 775.49 L1279.23 775.78 L1279.75 776.08 L1280.27 776.37 L1280.80 776.67 L1281.32 776.97 L1281.84 777.27 L1282.36 777.57 L1282.87 777.87 L1283.39 778.17 L1283.91 778.47 L1284.43 778.77 L1284.95 779.07 L1285.48 779.36 L1286.00 779.66 L1286.52 779.95 L1287.05 780.24 L1287.58 780.52 L1288.11 780.81 L1288.64 781.08 L1289.18 781.35 L1289.71 781.62 L1290.26 781.88 L1290.80 782.13 L1291.35 782.37 L1291.90 782.60 L1292.46 782.83 L1293.02 783.04 L1293.58 783.25 L1294.14 783.46 L1294.71 783.66 L1295.27 783.86 L1295.84 784.05 L1296.41 784.25 L1296.98 784.44 L1297.55 784.63 L1298.12 784.82 L1298.69 785.00 L1299.26 785.19 L1299.83 785.38 L1300.40 785.57 L1300.97 785.75 L1301.54 785.94 L1302.11 786.13 L1302.68 786.32 L1303.25 786.50 L1303.82 786.69 L1304.39 786.88 L1304.96 787.07 L1305.53 787.25 L1306.10 787.44 L1306.67 787.63 L1307.24 787.82 L1307.80 788.02 L1308.37 788.22 L1308.93 788.42 L1309.50 788.63 L1310.06 788.85 L1310.62 789.06 L1311.17 789.29 L1311.73 789.52 L1312.28 789.75 L1312.83 790.00 L1313.37 790.24 L1313.92 790.50 L1314.46 790.76 L1314.99 791.02 L1315.53 791.29 L1316.06 791.57 L1316.59 791.85 L1317.12 792.13 L1317.65 792.42 L1318.18 792.71 L1318.70 793.00 L1319.22 793.29 L1319.74 793.59 L1320.26 793.89 L1320.78 794.19 L1321.30 794.50 L1321.82 794.80 L1322.33 795.11 L1322.85 795.42 L1323.36 795.73 L1323.87 796.04 L1324.39 796.35 L1324.90 796.66 L1325.42 796.97 L1325.93 797.28 L1326.45 797.59 L1326.96 797.89 L1327.48 798.19 L1328.00 798.49 L1328.53 798.79 L1329.05 799.07 L1329.58 799.36 L1330.12 799.63 L1330.66 799.90 L1331.20 800.16 L1331.74 800.41 L1332.29 800.65 L1332.85 800.88 L1333.41 801.10 L1333.97 801.30 L1334.54 801.49 L1335.11 801.67 L1335.69 801.83 L1336.27 801.98 L1336.85 802.11 L1337.44 802.23 L1338.03 802.33 L1338.63 802.42 L1339.22 802.50 L1339.82 802.56 L1340.42 802.61 L1341.01 802.65 L1341.61 802.68 L1342.21 802.70 L1342.82 802.72 L1343.42 802.73 L1344.02 802.74 L1344.62 802.74 L1345.22 802.74 L1345.82 802.74 L1346.42 802.73 L1347.02 802.73 L1347.62 802.72 L1348.22 802.72 L1348.82 802.72 L1349.42 802.72 L1350.02 802.72 L1350.62 802.72 L1351.22 802.72 L1351.82 802.71 L1352.14 802.71" stroke="#e41a1c"/>
<path d="M152.50 824.57 L152.51 823.97 L152.52 823.37 L152.53 822.77 L152.54 822.17 L152.55 821.57 L152.56 820.97 L152.57 820.37 L152.58 819.77 L152.59 819.17 L152.59 818.57 L152.60 817.97 L152.61 817.37 L152.62 816.77 L152.63 816.17 L152.64 815.57 L152.65 814.97 L152.66 814.37 L152.67 813.77 L152.68 813.17 L152.69 812.57 L152.70 811.97 L152.71 811.37 L152.72 810.77 L152.73 810.17 L152.74 809.57 L152.75 808.97 L152.76 808.37 L152.76 807.77 L152.77 807.17 L152.78 806.57 L152.79 805.97 L152.80 805.37 L152.81 804.77 L152.82 804.17 L152.83 803.57 L152.84 802.97 L152.85 802.37 L152.86 801.77 L152.87 801.17 L152.88 800.57 L152.89 799.97 L152.89 799.37 L152.90 798.77 L152.91 798.17 L152.92 797.57 L152.93 796.97 L152.94 796.37 L152.95 795.77 L152.96 795.17 L152.97 794.58 L152.98 793.98 L152.99 793.38 L152.99 792.78 L153.00 792.18 L153.01 791.58 L153.02 790.98 L153.03 790.38 L153.04 789.78 L153.05 789.18 L153.06 788.58 L153.07 787.98 L153.08 787.38 L153.09 786.78 L153.09 786.18 L153.10 785.58 L153.11 784.98 L153.12 784.38 L153.13 783.78 L153.14 783.18 L153.15 782.58 L153.16 781.98 L153.17 781.38 L153.18 780.78 L153.19 780.18 L153.20 779.58 L153.21 778.98 L153.22 778.38 L153.22 777.78 L153.23 777.18 L153.24 776.58 L153.25 775.98 L153.26 775.38 L153.27 774.78 L153.28 774.18 L153.29 773.58 L153.30 772.98 L153.31 772.38 L153.32 771.78 L153.33 771.18 L153.34 770.58 L153.35 769.98 L153.36 769.38 L153.37 768.78 L153.38 768.18 L153.39 767.58 L153.40 766.98 L153.41 766.38 L153.42 765.78 L153.43 765.18 L153.44 764.58 L153.45 763.98 L153.46 763.38 L153.48 762.78 L153.49 762.18 L153.50 761.58 L153.51 760.98 L153.52 760.38 L153.53 759.78 L153.54 759.18 L153.55 758.58 L153.56 757.98 L153.58 757.38 L153.59 756.78 L153.60 756.18 L153.61 755.58 L153.62 754.98 L153.63 754.38 L153.65 753.78 L153.66 753.18 L153.67 752.58 L153.68 751.98 L153.69 751.38 L153.71 750.78 L153.72 750.18 L153.73 749.58 L153.74 748.98 L153.76 748.38 L153.77 747.78 L153.78 747.18 L153.79 746.58 L153.81 745.98 L153.82 745.38 L153.83 744.78 L153.85 744.18 L153.86 743.58 L153.87 742.98 L153.89 742.38 L153.90 741.78 L153.91 741.18 L153.93 740.58 L153.94 739.98 L153.95 739.38 L153.97 738.78 L153.98 738.18 L153.99 737.58 L154.01 736.98 L154.02 736.38 L154.04 735.79 L154.05 735.19 L154.07 734.59 L154.08 733.99 L154.09 733.39 L154.11 732.79 L154.12 732.19 L154.14 731.59 L154.15 730.99 L154.17 730.39 L154.18 729.79 L154.20 729.19 L154.21 728.59 L154.23 727.99 L154.24 727.39 L154.26 726.79 L154.27 726.19 L154.29 725.59 L154.30 724.99 L154.32 724.39 L154.34 723.79 L154.35 723.19 L154.37 722.59 L154.38 721.99 L154.40 721.39 L154.42 720.79 L154.43 720.19 L154.45 719.59 L154.46 718.99 L154.48 718.39 L154.50 717.79 L154.51 717.19 L154.53 716.59 L154.55 715.99 L154.56 715.39 L154.58 714.79 L154.59 714.19 L154.61 713.59 L154.63 712.99 L154.64 712.39 L154.66 711.79 L154.68 711.19 L154.70 710.59 L154.71 709.99 L154.73 709.39 L154.75 708.79 L154.76 708.19 L154.78 707.59 L154.80 706.99 L154.81 706.39 L154.83 705.79 L154.85 705.19 L154.87 704.60 L154.88 704.00 L154.90 703.40 L154.92 702.80 L154.93 702.20 L154.95 701.60 L154.97 701.00 L154.99 700.40 L155.00 699.80 L155.02 699.20 L155.04 698.60 L155.06 698.00 L155.07 697.40 L155.09 696.80 L155.11 696.20 L155.12 695.60 L155.14 695.00 L155.16 694.40 L155.18 693.80 L155.19 693.20 L155.21 692.60 L155.23 692.00 L155.25 691.40 L155.26 690.80 L155.28 690.20 L155.30 689.60 L155.31 689.00 L155.33 688.40 L155.35 687.80 L155.37 687.20 L155.38 686.60 L155.40 686.00 L155.42 685.40 L155.43 684.80 L155.45 684.21 L155.47 683.61 L155.49 683.01 L155.50 682.41 L155.52 681.81 L155.54 681.21 L155.55 680.61 L155.57 680.01 L155.59 679.41 L155.60 678.81 L155.62 678.21 L155.64 677.61 L155.65 677.01 L155.67 676.41 L155.69 675.81 L155.70 675.21 L155.72 674.61 L155.74 674.01 L155.75 673.41 L155.77 672.81 L155.79 672.21 L155.80 671.61 L155.82 671.01 L155.84 670.41 L155.85 669.81 L155.87 669.21 L155.88 668.61 L155.90 668.01 L155.92 667.41 L155.93 666.81 L155.95 666.21 L155.96 665.61 L155.98 665.01 L156.00 664.41 L156.01 663.81 L156.03 663.21 L156.04 662.61 L156.06 662.01 L156.08 661.41 L156.09 660.81 L156.11 660.21 L156.12 659.61 L156.14 659.01 L156.15 658.41 L156.17 657.81 L156.18 657.21 L156.20 656.61 L156.22 656.01 L156.23 655.41 L156.25 654.81 L156.26 654.21 L156.28 653.61 L156.29 653.01 L156.31 652.41 L156.32 651.81 L156.34 651.21 L156.35 650.61 L156.37 650.01 L156.38 649.41 L156.40 648.81 L156.41 648.21 L156.43 647.61 L156.44 647.01 L156.46 646.41 L156.47 645.81 L156.49 645.21 L156.50 644.61 L156.51 644.01 L156.53 643.41 L156.54 642.81 L156.56 642.21 L156.57 641.61 L156.59 641.01 L156.60 640.41 L156.62 639.81 L156.63 639.21 L156.65 638.62 L156.66 638.02 L156.67 637.42 L156.69 636.82 L156.70 636.22 L156.72 635.62 L156.73 635.02 L156.74 634.42 L156.76 633.83 L156.77 633.23 L156.79 632.63 L156.80 632.03 L156.82 631.43 L156.83 630.83 L156.84 630.24 L156.86 629.64 L156.87 629.04 L156.89 628.44 L156.90 627.84 L156.91 627.24 L156.93 626.65 L156.94 626.05 L156.96 625.45 L156.97 624.85 L156.99 624.25 L157.00 623.65 L157.01 623.05 L157.03 622.46 L157.04 621.86 L157.06 621.26 L157.07 620.66 L157.09 620.06 L157.10 619.46 L157.12 618.86 L157.13 618.26 L157.15 617.66 L157.16 617.06 L157.18 616.46 L157.19 615.86 L157.21 615.26 L157.22 614.66 L157.24 614.06 L157.26 613.46 L157.27 612.85 L157.29 612.25 L157.30 611.65 L157.32 611.05 L157.34 610.45 L157.35 609.84 L157.37 609.24 L157.39 608.64 L157.40 608.03 L157.42 607.43 L157.44 606.83 L157.45 606.22 L157.47 605.62 L157.49 605.01 L157.51 604.41 L157.53 603.80 L157.54 603.20 L157.56 602.59 L157.58 601.99 L157.60 601.38 L157.62 600.78 L157.64 600.17 L157.66 599.57 L157.68 598.97 L157.70 598.36 L157.73 597.76 L157.75 597.16 L157.77 596.55 L157.79 595.95 L157.82 595.35 L157.84 594.75 L157.87 594.15 L157.89 593.55 L157.92 592.95 L157.94 592.36 L157.97 591.76 L158.00 591.16 L158.03 590.57 L158.06 589.97 L158.09 589.38 L158.12 588.79 L158.15 588.20 L158.18 587.61 L158.21 587.02 L158.24 586.43 L158.28 585.85 L158.31 585.26 L158.35 584.68 L158.39 584.10 L158.42 583.52 L158.46 582.94 L158.50 582.35 L158.54 581.77 L158.58 581.19 L158.62 580.60 L158.66 580.02 L158.70 579.43 L158.74 578.84 L158.79 578.25 L158.83 577.65 L158.87 577.05 L158.91 576.45 L158.95 575.84 L159.00 575.23 L159.04 574.61 L159.08 573.99 L159.13 573.37 L159.17 572.73 L159.21 572.10 L159.25 571.45 L159.30 570.80 L159.34 570.14 L159.39 569.49 L159.44 568.83 L159.50 568.17 L159.57 567.52 L159.65 566.87 L159.75 566.23 L159.86 565.61 L159.99 564.99 L160.13 564.39 L160.30 563.81 L160.49 563.25 L160.70 562.72 L160.93 562.28 L161.16 561.95 L161.40 561.77 L161.63 561.79 L161.85 561.99 L162.06 562.36 L162.25 562.84 L162.44 563.42 L162.62 564.07 L162.77 564.74 L162.92 565.42 L163.05 566.09 L163.17 566.75 L163.27 567.40 L163.37 568.04 L163.45 568.68 L163.52 569.31 L163.59 569.93 L163.65 570.55 L163.70 571.16 L163.75 571.77 L163.79 572.37 L163.83 572.97 L163.87 573.57 L163.91 574.17 L163.95 574.77 L163.99 575.36 L164.04 575.96 L164.09 576.55 L164.14 577.15 L164.19 577.74 L164.24 578.34 L164.30 578.93 L164.36 579.53 L164.41 580.13 L164.47 580.72 L164.53 581.32 L164.59 581.92 L164.65 582.52 L164.70 583.11 L164.76 583.71 L164.81 584.31 L164.86 584.91 L164.90 585.51 L164.95 586.11 L164.99 586.71 L165.02 587.31 L165.06 587.90 L165.08 588.50 L165.11 589.10 L165.12 589.70 L165.13 590.30 L165.14 590.90 L165.14 591.50 L165.13 592.10 L165.12 592.70 L165.11 593.30 L165.10 593.90 L165.08 594.50 L165.07 595.10 L165.05 595.70 L165.04 596.30 L165.02 596.90 L165.01 597.50 L165.00 598.10 L165.00 598.70 L165.00 599.30 L165.01 599.90 L165.02 600.50 L165.04 601.10 L165.06 601.70 L165.09 602.30 L165.13 602.89 L165.17 603.49 L165.21 604.09 L165.26 604.69 L165.31 605.29 L165.36 605.88 L165.42 606.48 L165.48 607.08 L165.54 607.67 L165.61 608.27 L165.68 608.87 L165.74 609.47 L165.81 610.06 L165.88 610.66 L165.96 611.26 L166.03 611.85 L166.10 612.45 L166.17 613.05 L166.24 613.64 L166.31 614.24 L166.38 614.84 L166.44 615.43 L166.51 616.03 L166.57 616.63 L166.63 617.23 L166.69 617.82 L166.75 618.42 L166.81 619.02 L166.87 619.62 L166.92 620.21 L166.98 620.81 L167.03 621.41 L167.08 622.01 L167.14 622.60 L167.19 623.20 L167.24 623.80 L167.29 624.40 L167.34 625.00 L167.39 625.59 L167.43 626.19 L167.48 626.79 L167.53 627.39 L167.58 627.98 L167.63 628.58 L167.67 629.18 L167.72 629.78 L167.77 630.38 L167.82 630.97 L167.87 631.57 L167.91 632.17 L167.96 632.77 L168.01 633.37 L168.06 633.96 L168.12 634.56 L168.17 635.16 L168.22 635.76 L168.27 636.36 L168.32 636.95 L168.37 637.55 L168.43 638.15 L168.48 638.75 L168.53 639.34 L168.58 639.94 L168.64 640.54 L168.69 641.14 L168.74 641.73 L168.80 642.33 L168.85 642.93 L168.90 643.53 L168.96 644.13 L169.01 644.72 L169.06 645.32 L169.12 645.92 L169.17 646.52 L169.22 647.11 L169.27 647.71 L169.33 648.31 L169.38 648.91 L169.43 649.50 L169.48 650.10 L169.53 650.70 L169.59 651.30 L169.64 651.89 L169.69 652.49 L169.74 653.09 L169.79 653.69 L169.84 654.28 L169.89 654.88 L169.94 655.48 L170.00 656.08 L170.05 656.67 L170.10 657.27 L170.15 657.87 L170.20 658.47 L170.25 659.07 L170.30 659.66 L170.35 660.26 L170.40 660.86 L170.45 661.46 L170.50 662.06 L170.56 662.66 L170.61 663.26 L170.66 663.85 L170.71 664.45 L170.76 665.05 L170.82 665.65 L170.87 666.25 L170.92 666.85 L170.97 667.45 L171.03 668.04 L171.08 668.64 L171.14 669.24 L171.19 669.84 L171.25 670.43 L171.31 671.03 L171.36 671.63 L171.42 672.22 L171.48 672.82 L171.54 673.41 L171.60 674.01 L171.66 674.60 L171.73 675.19 L171.79 675.79 L171.85 676.38 L171.92 676.97 L171.98 677.56 L172.05 678.16 L172.11 678.75 L172.18 679.35 L172.24 679.94 L172.31 680.54 L172.37 681.14 L172.44 681.74 L172.50 682.34 L172.57 682.94 L172.63 683.55 L172.69 684.15 L172.76 684.76 L172.82 685.37 L172.89 685.98 L172.97 686.60 L173.05 687.21 L173.14 687.83 L173.25 688.45 L173.37 689.08 L173.50 689.70 L173.66 690.33 L173.83 690.95 L174.03 691.57 L174.25 692.16 L174.50 692.67 L174.79 693.09 L175.11 693.39 L175.46 693.51 L175.80 693.44 L176.13 693.18 L176.43 692.79 L176.69 692.29 L176.92 691.72 L177.13 691.11 L177.32 690.48 L177.49 689.86 L177.64 689.24 L177.78 688.62 L177.91 688.00 L178.02 687.38 L178.13 686.77 L178.22 686.16 L178.31 685.55 L178.39 684.94 L178.47 684.33 L178.55 683.73 L178.62 683.13 L178.69 682.53 L178.76 681.93 L178.83 681.33 L178.90 680.73 L178.96 680.13 L179.03 679.54 L179.09 678.94 L179.16 678.35 L179.22 677.75 L179.28 677.16 L179.34 676.56 L179.40 675.97 L179.46 675.38 L179.52 674.78 L179.58 674.19 L179.64 673.59 L179.70 673.00 L179.76 672.40 L179.82 671.81 L179.89 671.21 L179.95 670.62 L180.01 670.02 L180.07 669.42 L180.13 668.83 L180.19 668.23 L180.25 667.63 L180.31 667.03 L180.37 666.44 L180.43 665.84 L180.49 665.24 L180.55 664.64 L180.60 664.05 L180.66 663.45 L180.72 662.85 L180.78 662.25 L180.83 661.65 L180.89 661.06 L180.94 660.46 L181.00 659.86 L181.05 659.26 L181.10 658.66 L181.16 658.07 L181.21 657.47 L181.26 656.87 L181.31 656.27 L181.37 655.67 L181.42 655.08 L181.47 654.48 L181.52 653.88 L181.57 653.28 L181.62 652.69 L181.67 652.09 L181.72 651.49 L181.77 650.89 L181.81 650.29 L181.86 649.70 L181.91 649.10 L181.96 648.50 L182.01 647.90 L182.06 647.31 L182.10 646.71 L182.15 646.11 L182.20 645.51 L182.25 644.91 L182.30 644.32 L182.34 643.72 L182.39 643.12 L182.44 642.52 L182.48 641.92 L182.53 641.32 L182.58 640.73 L182.63 640.13 L182.67 639.53 L182.72 638.93 L182.77 638.33 L182.81 637.74 L182.86 637.14 L182.90 636.54 L182.95 635.94 L183.00 635.34 L183.04 634.74 L183.09 634.15 L183.13 633.55 L183.18 632.95 L183.23 632.35 L183.27 631.75 L183.32 631.15 L183.36 630.56 L183.41 629.96 L183.45 629.36 L183.50 628.76 L183.54 628.16 L183.59 627.56 L183.64 626.97 L183.68 626.37 L183.73 625.77 L183.78 625.17 L183.82 624.57 L183.87 623.98 L183.92 623.38 L183.97 622.78 L184.02 622.18 L184.07 621.58 L184.12 620.99 L184.17 620.39 L184.22 619.79 L184.27 619.19 L184.32 618.59 L184.38 618.00 L184.43 617.40 L184.48 616.80 L184.54 616.20 L184.59 615.61 L184.64 615.01 L184.69 614.41 L184.74 613.81 L184.80 613.21 L184.85 612.62 L184.90 612.02 L184.94 611.42 L184.99 610.82 L185.04 610.22 L185.08 609.63 L185.13 609.03 L185.17 608.43 L185.21 607.83 L185.25 607.23 L185.29 606.63 L185.32 606.04 L185.35 605.44 L185.39 604.84 L185.42 604.24 L185.45 603.64 L185.48 603.04 L185.50 602.44 L185.53 601.84 L185.56 601.24 L185.58 600.64 L185.61 600.04 L185.63 599.44 L185.65 598.84 L185.67 598.24 L185.70 597.64 L185.72 597.04 L185.74 596.44 L185.76 595.84 L185.78 595.25 L185.80 594.65 L185.82 594.05 L185.84 593.45 L185.86 592.85 L185.88 592.25 L185.90 591.65 L185.92 591.05 L185.95 590.45 L185.97 589.85 L185.99 589.25 L186.02 588.65 L186.04 588.05 L186.07 587.45 L186.09 586.85 L186.12 586.25 L186.15 585.65 L186.18 585.05 L186.21 584.45 L186.24 583.85 L186.27 583.25 L186.31 582.66 L186.34 582.06 L186.38 581.46 L186.41 580.86 L186.45 580.26 L186.49 579.66 L186.52 579.06 L186.56 578.46 L186.60 577.86 L186.64 577.27 L186.68 576.67 L186.72 576.07 L186.76 575.47 L186.80 574.87 L186.85 574.27 L186.89 573.67 L186.93 573.08 L186.97 572.48 L187.01 571.88 L187.05 571.28 L187.09 570.68 L187.14 570.08 L187.18 569.48 L187.22 568.89 L187.26 568.29 L187.30 567.69 L187.34 567.09 L187.38 566.49 L187.42 565.89 L187.46 565.29 L187.50 564.69 L187.54 564.10 L187.58 563.50 L187.62 562.90 L187.66 562.30 L187.70 561.70 L187.74 561.10 L187.78 560.50 L187.82 559.91 L187.86 559.31 L187.90 558.71 L187.94 558.11 L187.98 557.51 L188.02 556.91 L188.06 556.31 L188.10 555.71 L188.14 555.12 L188.18 554.52 L188.22 553.92 L188.25 553.32 L188.29 552.72 L188.33 552.12 L188.37 551.52 L188.40 550.92 L188.44 550.33 L188.48 549.73 L188.51 549.13 L188.55 548.53 L188.58 547.93 L188.61 547.33 L188.65 546.73 L188.68 546.13 L188.71 545.53 L188.75 544.93 L188.78 544.34 L188.81 543.74 L188.84 543.14 L188.87 542.54 L188.90 541.94 L188.93 541.34 L188.97 540.74 L189.00 540.14 L189.03 539.54 L189.06 538.94 L189.09 538.34 L189.12 537.74 L189.15 537.14 L189.18 536.55 L189.20 535.95 L189.23 535.35 L189.26 534.75 L189.29 534.15 L189.32 533.55 L189.35 532.95 L189.38 532.35 L189.41 531.75 L189.44 531.15 L189.47 530.55 L189.50 529.95 L189.53 529.35 L189.56 528.75 L189.59 528.16 L189.63 527.56 L189.66 526.96 L189.69 526.36 L189.72 525.76 L189.75 525.16 L189.78 524.56 L189.81 523.96 L189.84 523.36 L189.87 522.76 L189.91 522.16 L189.94 521.56 L189.97 520.97 L190.00 520.37 L190.03 519.77 L190.07 519.17 L190.10 518.57 L190.13 517.97 L190.16 517.37 L190.20 516.77 L190.23 516.17 L190.26 515.57 L190.29 514.97 L190.33 514.37 L190.36 513.78 L190.39 513.18 L190.43 512.58 L190.46 511.98 L190.49 511.38 L190.53 510.78 L190.56 510.18 L190.60 509.58 L190.63 508.98 L190.66 508.38 L190.70 507.79 L190.73 507.19 L190.77 506.59 L190.80 505.99 L190.83 505.39 L190.87 504.79 L190.90 504.19 L190.94 503.59 L190.97 502.99 L191.01 502.39 L191.04 501.79 L191.07 501.20 L191.11 500.60 L191.14 500.00 L191.18 499.40 L191.21 498.80 L191.25 498.20 L191.28 497.60 L191.32 497.00 L191.35 496.40 L191.38 495.80 L191.42 495.21 L191.45 494.61 L191.49 494.01 L191.52 493.41 L191.56 492.81 L191.59 492.21 L191.62 491.61 L191.66 491.01 L191.69 490.41 L191.72 489.81 L191.76 489.22 L191.79 488.62 L191.82 488.02 L191.86 487.42 L191.89 486.82 L191.92 486.22 L191.96 485.62 L191.99 485.02 L192.02 484.42 L192.06 483.82 L192.09 483.22 L192.12 482.63 L192.16 482.03 L192.19 481.43 L192.22 480.83 L192.26 480.23 L192.29 479.63 L192.33 479.03 L192.36 478.43 L192.39 477.83 L192.43 477.23 L192.46 476.64 L192.50 476.04 L192.53 475.44 L192.57 474.84 L192.60 474.24 L192.64 473.64 L192.67 473.04 L192.71 472.44 L192.74 471.84 L192.78 471.24 L192.82 470.65 L192.85 470.05 L192.89 469.45 L192.93 468.85 L192.97 468.25 L193.01 467.65 L193.04 467.05 L193.08 466.45 L193.12 465.86 L193.16 465.26 L193.20 464.66 L193.24 464.06 L193.28 463.46 L193.32 462.86 L193.36 462.26 L193.40 461.66 L193.44 461.07 L193.48 460.47 L193.52 459.87 L193.56 459.27 L193.60 458.67 L193.64 458.07 L193.68 457.47 L193.72 456.88 L193.77 456.28 L193.81 455.68 L193.85 455.08 L193.89 454.48 L193.93 453.88 L193.97 453.28 L194.01 452.69 L194.05 452.09 L194.09 451.49 L194.13 450.89 L194.17 450.29 L194.22 449.69 L194.26 449.09 L194.30 448.50 L194.34 447.90 L194.38 447.30 L194.42 446.70 L194.46 446.10 L194.50 445.50 L194.55 444.90 L194.59 444.31 L194.63 443.71 L194.67 443.11 L194.71 442.51 L194.76 441.91 L194.80 441.31 L194.84 440.71 L194.89 440.12 L194.93 439.52 L194.97 438.92 L195.02 438.32 L195.06 437.72 L195.11 437.12 L195.15 436.53 L195.20 435.93 L195.25 435.33 L195.29 434.73 L195.34 434.13 L195.39 433.53 L195.44 432.94 L195.49 432.34 L195.54 431.74 L195.59 431.14 L195.65 430.54 L195.70 429.95 L195.76 429.35 L195.81 428.75 L195.87 428.16 L195.93 427.56 L195.99 426.96 L196.05 426.36 L196.12 425.77 L196.18 425.17 L196.25 424.58 L196.32 423.98 L196.39 423.38 L196.46 422.79 L196.53 422.19 L196.60 421.60 L196.67 421.00 L196.75 420.41 L196.82 419.81 L196.90 419.22 L196.97 418.62 L197.05 418.02 L197.12 417.43 L197.19 416.83 L197.27 416.24 L197.34 415.64 L197.41 415.05 L197.48 414.45 L197.56 413.85 L197.63 413.26 L197.70 412.66 L197.77 412.06 L197.84 411.47 L197.91 410.87 L197.99 410.28 L198.06 409.68 L198.13 409.09 L198.21 408.49 L198.28 407.90 L198.36 407.31 L198.44 406.71 L198.52 406.12 L198.60 405.53 L198.68 404.94 L198.77 404.34 L198.86 403.75 L198.95 403.16 L199.04 402.56 L199.13 401.97 L199.23 401.37 L199.33 400.78 L199.44 400.18 L199.55 399.58 L199.66 398.98 L199.77 398.37 L199.89 397.77 L200.03 397.17 L200.18 396.58 L200.36 396.01 L200.56 395.44 L200.79 394.89 L201.05 394.37 L201.36 393.87 L201.70 393.40 L202.08 392.96 L202.50 392.55 L202.96 392.19 L203.45 391.88 L203.98 391.60 L204.52 391.36 L205.08 391.13 L205.65 390.92 L206.21 390.70 L206.77 390.47 L207.32 390.22 L207.84 389.94 L208.34 389.62 L208.82 389.27 L209.26 388.88 L209.68 388.46 L210.07 388.02 L210.44 387.55 L210.78 387.06 L211.09 386.55 L211.38 386.02 L211.66 385.49 L211.92 384.94 L212.16 384.39 L212.40 383.83 L212.64 383.27 L212.87 382.71 L213.10 382.15 L213.32 381.59 L213.54 381.03 L213.76 380.47 L213.97 379.91 L214.19 379.35 L214.39 378.79 L214.60 378.22 L214.80 377.66 L214.99 377.09 L215.19 376.52 L215.38 375.96 L215.57 375.39 L215.76 374.82 L215.94 374.25 L216.13 373.68 L216.31 373.10 L216.49 372.53 L216.67 371.96 L216.85 371.39 L217.03 370.81 L217.21 370.24 L217.38 369.67 L217.56 369.09 L217.73 368.52 L217.91 367.95 L218.08 367.37 L218.26 366.80 L218.43 366.22 L218.61 365.65 L218.78 365.07 L218.95 364.50 L219.13 363.92 L219.30 363.35 L219.47 362.78 L219.65 362.21 L219.83 361.63 L220.00 361.06 L220.18 360.49 L220.36 359.92 L220.55 359.35 L220.73 358.79 L220.92 358.22 L221.10 357.65 L221.30 357.08 L221.50 356.51 L221.70 355.93 L221.91 355.35 L222.13 354.76 L222.35 354.16 L222.58 353.56 L222.82 352.95 L223.08 352.35 L223.36 351.77 L223.67 351.23 L224.00 350.73 L224.37 350.29 L224.78 349.92 L225.22 349.65 L225.67 349.51 L226.13 349.54 L226.58 349.72 L227.01 350.03 L227.40 350.42 L227.75 350.89 L228.06 351.41 L228.34 351.98 L228.59 352.57 L228.81 353.19 L229.02 353.80 L229.21 354.42 L229.39 355.02 L229.56 355.63 L229.72 356.22 L229.87 356.81 L230.02 357.40 L230.16 357.99 L230.30 358.57 L230.43 359.15 L230.56 359.74 L230.69 360.32 L230.82 360.90 L230.95 361.49 L231.08 362.07 L231.20 362.66 L231.33 363.24 L231.45 363.83 L231.58 364.42 L231.70 365.00 L231.82 365.59 L231.94 366.18 L232.05 366.77 L232.17 367.36 L232.28 367.95 L232.40 368.53 L232.51 369.12 L232.62 369.71 L232.73 370.30 L232.84 370.89 L232.95 371.48 L233.06 372.07 L233.17 372.66 L233.28 373.25 L233.38 373.84 L233.49 374.44 L233.60 375.03 L233.70 375.62 L233.80 376.21 L233.91 376.80 L234.01 377.39 L234.12 377.98 L234.22 378.57 L234.32 379.16 L234.42 379.75 L234.52 380.35 L234.62 380.94 L234.72 381.53 L234.82 382.12 L234.92 382.71 L235.01 383.31 L235.11 383.90 L235.20 384.49 L235.30 385.08 L235.39 385.67 L235.49 386.27 L235.58 386.86 L235.68 387.45 L235.77 388.05 L235.86 388.64 L235.96 389.23 L236.05 389.82 L236.15 390.42 L236.24 391.01 L236.34 391.60 L236.43 392.19 L236.53 392.79 L236.62 393.38 L236.71 393.97 L236.81 394.56 L236.90 395.16 L237.00 395.75 L237.09 396.34 L237.19 396.93 L237.28 397.53 L237.38 398.12 L237.47 398.71 L237.56 399.30 L237.66 399.90 L237.75 400.49 L237.85 401.08 L237.95 401.67 L238.04 402.26 L238.14 402.86 L238.24 403.45 L238.34 404.04 L238.44 404.63 L238.54 405.22 L238.64 405.81 L238.75 406.41 L238.85 407.00 L238.96 407.59 L239.07 408.18 L239.18 408.77 L239.29 409.36 L239.40 409.95 L239.51 410.54 L239.63 411.12 L239.74 411.71 L239.86 412.30 L239.98 412.89 L240.09 413.48 L240.21 414.07 L240.33 414.65 L240.46 415.24 L240.58 415.83 L240.71 416.41 L240.84 417.00 L240.97 417.59 L241.10 418.17 L241.24 418.76 L241.38 419.34 L241.53 419.92 L241.67 420.51 L241.82 421.09 L241.98 421.67 L242.14 422.25 L242.30 422.83 L242.47 423.40 L242.64 423.98 L242.82 424.55 L243.00 425.12 L243.18 425.69 L243.37 426.26 L243.57 426.82 L243.77 427.38 L243.97 427.93 L244.18 428.49 L244.40 429.04 L244.62 429.59 L244.85 430.14 L245.09 430.69 L245.34 431.25 L245.60 431.82 L245.88 432.39 L246.17 432.97 L246.47 433.57 L246.79 434.18 L247.13 434.80 L247.48 435.42 L247.85 436.00 L248.22 436.53 L248.61 436.99 L249.00 437.34 L249.40 437.56 L249.81 437.64 L250.21 437.54 L250.61 437.29 L251.01 436.92 L251.38 436.45 L251.74 435.91 L252.07 435.34 L252.37 434.75 L252.65 434.16 L252.89 433.57 L253.12 432.97 L253.32 432.38 L253.52 431.78 L253.70 431.18 L253.88 430.59 L254.05 430.00 L254.22 429.41 L254.39 428.83 L254.57 428.25 L254.74 427.68 L254.90 427.10 L255.07 426.53 L255.23 425.95 L255.39 425.38 L255.54 424.80 L255.68 424.22 L255.82 423.64 L255.95 423.05 L256.09 422.47 L256.21 421.88 L256.34 421.30 L256.46 420.71 L256.58 420.12 L256.70 419.53 L256.82 418.94 L256.94 418.36 L257.06 417.77 L257.18 417.18 L257.30 416.59 L257.42 416.00 L257.53 415.41 L257.65 414.83 L257.76 414.24 L257.87 413.65 L257.98 413.06 L258.09 412.47 L258.19 411.88 L258.30 411.28 L258.40 410.69 L258.50 410.10 L258.60 409.51 L258.70 408.92 L258.80 408.33 L258.90 407.74 L259.00 407.14 L259.11 406.55 L259.21 405.96 L259.32 405.37 L259.43 404.78 L259.54 404.20 L259.65 403.61 L259.76 403.02 L259.88 402.43 L260.00 401.84 L260.12 401.26 L260.24 400.67 L260.36 400.08 L260.48 399.49 L260.61 398.91 L260.74 398.32 L260.87 397.73 L261.01 397.14 L261.16 396.55 L261.32 395.95 L261.49 395.36 L261.67 394.76 L261.87 394.15 L262.08 393.54 L262.32 392.94 L262.58 392.35 L262.87 391.79 L263.20 391.28 L263.56 390.83 L263.97 390.46 L264.42 390.17 L264.89 390.01 L265.38 389.98 L265.85 390.11 L266.31 390.36 L266.74 390.72 L267.13 391.14 L267.48 391.62 L267.80 392.15 L268.10 392.71 L268.37 393.29 L268.62 393.89 L268.86 394.48 L269.09 395.07 L269.32 395.65 L269.54 396.23 L269.77 396.81 L270.00 397.38 L270.23 397.96 L270.47 398.53 L270.73 399.11 L271.00 399.68 L271.29 400.25 L271.60 400.80 L271.94 401.32 L272.31 401.82 L272.71 402.28 L273.15 402.70 L273.61 403.05 L274.09 403.30 L274.57 403.42 L275.05 403.40 L275.53 403.23 L275.98 402.94 L276.41 402.55 L276.81 402.10 L277.16 401.60 L277.48 401.08 L277.77 400.52 L278.02 399.95 L278.25 399.35 L278.46 398.75 L278.66 398.15 L278.85 397.54 L279.03 396.94 L279.20 396.35 L279.37 395.76 L279.54 395.17 L279.70 394.59 L279.85 394.01 L280.01 393.43 L280.16 392.86 L280.31 392.28 L280.45 391.70 L280.59 391.12 L280.73 390.54 L280.87 389.96 L281.01 389.38 L281.15 388.80 L281.28 388.21 L281.41 387.63 L281.54 387.04 L281.67 386.46 L281.80 385.87 L281.93 385.28 L282.05 384.70 L282.18 384.11 L282.30 383.52 L282.42 382.93 L282.54 382.34 L282.67 381.76 L282.78 381.17 L282.90 380.58 L283.02 379.99 L283.14 379.40 L283.25 378.81 L283.37 378.23 L283.48 377.64 L283.60 377.05 L283.71 376.46 L283.82 375.87 L283.94 375.28 L284.05 374.69 L284.16 374.10 L284.27 373.51 L284.38 372.92 L284.49 372.33 L284.60 371.74 L284.72 371.15 L284.83 370.56 L284.94 369.97 L285.05 369.38 L285.16 368.79 L285.27 368.20 L285.38 367.61 L285.49 367.03 L285.60 366.44 L285.71 365.85 L285.83 365.26 L285.94 364.67 L286.05 364.08 L286.16 363.49 L286.27 362.90 L286.38 362.31 L286.49 361.72 L286.61 361.13 L286.71 360.54 L286.82 359.95 L286.93 359.36 L287.04 358.77 L287.15 358.18 L287.25 357.59 L287.36 357.00 L287.46 356.41 L287.57 355.82 L287.67 355.23 L287.78 354.63 L287.88 354.04 L287.99 353.45 L288.09 352.86 L288.19 352.27 L288.29 351.68 L288.40 351.09 L288.50 350.50 L288.60 349.91 L288.71 349.32 L288.81 348.72 L288.92 348.13 L289.02 347.54 L289.12 346.95 L289.23 346.36 L289.33 345.77 L289.44 345.18 L289.54 344.59 L289.65 344.00 L289.75 343.41 L289.86 342.82 L289.96 342.23 L290.07 341.63 L290.17 341.04 L290.27 340.45 L290.38 339.86 L290.48 339.27 L290.58 338.68 L290.69 338.09 L290.79 337.50 L290.89 336.90 L290.98 336.31 L291.08 335.72 L291.18 335.13 L291.27 334.54 L291.36 333.94 L291.45 333.35 L291.54 332.76 L291.63 332.16 L291.72 331.57 L291.80 330.98 L291.89 330.38 L291.97 329.79 L292.05 329.19 L292.13 328.60 L292.21 328.00 L292.29 327.41 L292.37 326.81 L292.45 326.22 L292.53 325.62 L292.61 325.03 L292.69 324.43 L292.76 323.84 L292.84 323.24 L292.92 322.65 L293.00 322.05 L293.07 321.46 L293.15 320.86 L293.23 320.27 L293.31 319.67 L293.39 319.08 L293.47 318.49 L293.55 317.89 L293.64 317.30 L293.72 316.70 L293.80 316.11 L293.89 315.51 L293.98 314.92 L294.06 314.33 L294.15 313.73 L294.24 313.14 L294.34 312.55 L294.43 311.96 L294.53 311.36 L294.62 310.77 L294.72 310.18 L294.82 309.59 L294.92 309.00 L295.02 308.41 L295.12 307.81 L295.23 307.22 L295.33 306.63 L295.43 306.04 L295.54 305.45 L295.64 304.86 L295.75 304.27 L295.85 303.68 L295.96 303.09 L296.06 302.50 L296.16 301.90 L296.27 301.31 L296.37 300.72 L296.48 300.13 L296.58 299.54 L296.69 298.95 L296.79 298.36 L296.90 297.77 L297.01 297.18 L297.12 296.59 L297.23 296.00 L297.34 295.41 L297.46 294.82 L297.58 294.23 L297.69 293.64 L297.82 293.06 L297.94 292.47 L298.07 291.88 L298.20 291.30 L298.33 290.71 L298.46 290.13 L298.60 289.54 L298.74 288.96 L298.89 288.38 L299.03 287.80 L299.18 287.21 L299.34 286.63 L299.49 286.05 L299.65 285.48 L299.82 284.90 L299.98 284.32 L300.16 283.75 L300.33 283.17 L300.51 282.60 L300.69 282.03 L300.88 281.45 L301.08 280.89 L301.28 280.32 L301.49 279.76 L301.70 279.19 L301.92 278.64 L302.15 278.08 L302.39 277.53 L302.63 276.98 L302.89 276.43 L303.15 275.89 L303.43 275.35 L303.71 274.82 L304.01 274.30 L304.32 273.79 L304.65 273.29 L304.99 272.80 L305.35 272.32 L305.72 271.86 L306.11 271.41 L306.52 270.97 L306.94 270.54 L307.37 270.12 L307.81 269.71 L308.26 269.31 L308.71 268.92 L309.17 268.53 L309.64 268.14 L310.10 267.75 L310.55 267.36 L311.00 266.97 L311.45 266.57 L311.87 266.15 L312.29 265.72 L312.69 265.28 L313.07 264.83 L313.44 264.36 L313.81 263.89 L314.16 263.40 L314.50 262.91 L314.84 262.41 L315.17 261.92 L315.50 261.41 L315.83 260.91 L316.15 260.40 L316.48 259.89 L316.80 259.37 L317.13 258.85 L317.46 258.33 L317.80 257.80 L318.14 257.27 L318.49 256.75 L318.85 256.23 L319.23 255.72 L319.62 255.24 L320.04 254.79 L320.48 254.37 L320.95 254.00 L321.44 253.69 L321.94 253.46 L322.45 253.33 L322.96 253.32 L323.46 253.43 L323.94 253.64 L324.41 253.96 L324.85 254.34 L325.25 254.78 L325.61 255.26 L325.93 255.78 L326.22 256.32 L326.48 256.88 L326.71 257.47 L326.92 258.07 L327.12 258.67 L327.30 259.28 L327.47 259.89 L327.64 260.50 L327.80 261.10 L327.96 261.69 L328.11 262.29 L328.26 262.87 L328.41 263.46 L328.55 264.04 L328.70 264.62 L328.84 265.21 L328.97 265.78 L329.11 266.36 L329.24 266.94 L329.38 267.52 L329.51 268.11 L329.64 268.69 L329.77 269.27 L329.90 269.86 L330.03 270.44 L330.15 271.03 L330.28 271.61 L330.41 272.20 L330.53 272.79 L330.66 273.38 L330.78 273.96 L330.90 274.55 L331.02 275.14 L331.15 275.73 L331.27 276.32 L331.39 276.90 L331.51 277.49 L331.62 278.08 L331.74 278.67 L331.86 279.26 L331.98 279.85 L332.10 280.44 L332.21 281.02 L332.33 281.61 L332.45 282.20 L332.56 282.79 L332.68 283.38 L332.79 283.97 L332.91 284.55 L333.03 285.14 L333.14 285.73 L333.26 286.32 L333.38 286.91 L333.49 287.50 L333.61 288.09 L333.73 288.67 L333.85 289.26 L333.96 289.85 L334.08 290.44 L334.20 291.03 L334.32 291.62 L334.44 292.20 L334.56 292.79 L334.68 293.38 L334.80 293.97 L334.92 294.56 L335.04 295.14 L335.16 295.73 L335.29 296.32 L335.41 296.90 L335.54 297.49 L335.67 298.08 L335.79 298.66 L335.93 299.25 L336.06 299.83 L336.19 300.42 L336.33 301.00 L336.47 301.59 L336.61 302.17 L336.76 302.75 L336.90 303.33 L337.05 303.91 L337.20 304.50 L337.35 305.08 L337.50 305.66 L337.66 306.24 L337.81 306.82 L337.97 307.40 L338.12 307.98 L338.28 308.55 L338.43 309.13 L338.59 309.71 L338.75 310.29 L338.90 310.87 L339.06 311.45 L339.22 312.03 L339.37 312.61 L339.53 313.19 L339.69 313.77 L339.84 314.35 L340.00 314.93 L340.16 315.51 L340.31 316.08 L340.47 316.66 L340.63 317.24 L340.78 317.82 L340.94 318.40 L341.10 318.98 L341.25 319.56 L341.41 320.14 L341.56 320.72 L341.72 321.30 L341.88 321.88 L342.03 322.46 L342.19 323.04 L342.34 323.62 L342.50 324.20 L342.65 324.78 L342.81 325.36 L342.97 325.94 L343.13 326.51 L343.29 327.09 L343.45 327.67 L343.61 328.25 L343.78 328.82 L343.95 329.40 L344.12 329.97 L344.30 330.55 L344.48 331.12 L344.66 331.69 L344.85 332.26 L345.04 332.83 L345.24 333.39 L345.44 333.96 L345.64 334.53 L345.84 335.09 L346.04 335.65 L346.25 336.22 L346.46 336.78 L346.67 337.34 L346.88 337.90 L347.09 338.47 L347.31 339.03 L347.52 339.59 L347.74 340.15 L347.95 340.71 L348.17 341.27 L348.39 341.83 L348.61 342.38 L348.83 342.94 L349.06 343.50 L349.29 344.05 L349.52 344.60 L349.76 345.16 L350.00 345.71 L350.24 346.26 L350.49 346.80 L350.74 347.35 L351.00 347.89 L351.26 348.43 L351.52 348.97 L351.80 349.51 L352.07 350.04 L352.36 350.57 L352.65 351.10 L352.94 351.62 L353.25 352.14 L353.56 352.66 L353.88 353.17 L354.21 353.67 L354.55 354.16 L354.91 354.63 L355.28 355.10 L355.67 355.55 L356.08 355.99 L356.50 356.41 L356.93 356.82 L357.38 357.22 L357.83 357.62 L358.29 358.01 L358.76 358.39 L359.22 358.78 L359.69 359.17 L360.14 359.56 L360.59 359.96 L361.03 360.37 L361.44 360.79 L361.84 361.24 L362.21 361.70 L362.55 362.18 L362.87 362.68 L363.17 363.19 L363.45 363.72 L363.71 364.26 L363.95 364.81 L364.18 365.37 L364.40 365.93 L364.60 366.50 L364.80 367.06 L364.99 367.64 L365.17 368.21 L365.35 368.79 L365.52 369.36 L365.68 369.94 L365.84 370.52 L365.99 371.11 L366.14 371.69 L366.29 372.27 L366.44 372.85 L366.59 373.44 L366.73 374.02 L366.88 374.60 L367.02 375.19 L367.17 375.77 L367.31 376.35 L367.46 376.93 L367.60 377.51 L367.75 378.10 L367.89 378.68 L368.03 379.26 L368.18 379.84 L368.32 380.43 L368.47 381.01 L368.62 381.59 L368.76 382.17 L368.91 382.76 L369.06 383.34 L369.20 383.92 L369.35 384.50 L369.50 385.09 L369.64 385.67 L369.79 386.25 L369.93 386.83 L370.08 387.41 L370.22 387.99 L370.36 388.57 L370.50 389.15 L370.64 389.73 L370.77 390.31 L370.91 390.89 L371.04 391.47 L371.18 392.05 L371.32 392.63 L371.46 393.21 L371.60 393.79 L371.75 394.38 L371.90 394.97 L372.06 395.57 L372.23 396.17 L372.41 396.77 L372.59 397.38 L372.79 397.99 L373.00 398.60 L373.23 399.21 L373.47 399.80 L373.74 400.38 L374.04 400.94 L374.36 401.46 L374.72 401.96 L375.11 402.41 L375.53 402.80 L375.96 403.10 L376.40 403.29 L376.83 403.34 L377.26 403.24 L377.67 403.00 L378.07 402.65 L378.45 402.21 L378.81 401.70 L379.15 401.16 L379.47 400.60 L379.76 400.03 L380.04 399.46 L380.30 398.88 L380.54 398.29 L380.77 397.70 L380.99 397.12 L381.21 396.53 L381.42 395.94 L381.63 395.36 L381.84 394.78 L382.05 394.20 L382.26 393.63 L382.47 393.06 L382.69 392.50 L382.91 391.94 L383.13 391.38 L383.35 390.83 L383.58 390.28 L383.80 389.73 L384.03 389.18 L384.26 388.63 L384.50 388.08 L384.74 387.53 L384.98 386.98 L385.22 386.43 L385.46 385.89 L385.70 385.34 L385.95 384.79 L386.19 384.24 L386.44 383.70 L386.69 383.15 L386.93 382.60 L387.18 382.05 L387.42 381.50 L387.67 380.96 L387.91 380.41 L388.16 379.86 L388.40 379.31 L388.65 378.76 L388.89 378.21 L389.13 377.67 L389.38 377.12 L389.62 376.57 L389.87 376.02 L390.11 375.48 L390.36 374.93 L390.60 374.38 L390.85 373.83 L391.09 373.29 L391.34 372.74 L391.58 372.19 L391.83 371.64 L392.07 371.09 L392.31 370.54 L392.55 369.99 L392.79 369.44 L393.02 368.89 L393.26 368.34 L393.49 367.78 L393.72 367.23 L393.95 366.67 L394.17 366.12 L394.39 365.56 L394.62 365.00 L394.83 364.44 L395.05 363.89 L395.26 363.32 L395.48 362.76 L395.69 362.20 L395.89 361.64 L396.10 361.07 L396.30 360.51 L396.50 359.95 L396.71 359.38 L396.91 358.82 L397.11 358.25 L397.31 357.68 L397.51 357.12 L397.71 356.55 L397.92 355.99 L398.12 355.43 L398.33 354.86 L398.55 354.30 L398.76 353.74 L398.98 353.18 L399.20 352.62 L399.43 352.06 L399.66 351.51 L399.90 350.96 L400.15 350.41 L400.41 349.86 L400.67 349.32 L400.94 348.78 L401.22 348.24 L401.51 347.72 L401.82 347.20 L402.14 346.69 L402.48 346.20 L402.84 345.72 L403.22 345.26 L403.62 344.82 L404.04 344.40 L404.49 344.00 L404.95 343.63 L405.43 343.27 L405.93 342.94 L406.44 342.63 L406.97 342.35 L407.51 342.09 L408.06 341.84 L408.62 341.62 L409.19 341.41 L409.76 341.21 L410.33 341.04 L410.91 340.88 L411.50 340.73 L412.09 340.62 L412.68 340.52 L413.27 340.45 L413.87 340.40 L414.47 340.37 L415.08 340.36 L415.68 340.36 L416.29 340.37 L416.90 340.39 L417.51 340.42 L418.12 340.43 L418.72 340.42 L419.32 340.39 L419.90 340.32 L420.47 340.21 L421.03 340.04 L421.56 339.83 L422.06 339.56 L422.53 339.23 L422.97 338.85 L423.37 338.43 L423.75 337.98 L424.10 337.49 L424.42 336.99 L424.72 336.46 L425.00 335.93 L425.26 335.38 L425.50 334.82 L425.72 334.26 L425.94 333.68 L426.14 333.11 L426.34 332.53 L426.53 331.95 L426.72 331.37 L426.90 330.79 L427.08 330.21 L427.25 329.63 L427.42 329.06 L427.59 328.48 L427.76 327.90 L427.92 327.33 L428.09 326.75 L428.25 326.18 L428.41 325.60 L428.57 325.02 L428.73 324.44 L428.88 323.87 L429.04 323.29 L429.20 322.71 L429.36 322.13 L429.51 321.55 L429.67 320.97 L429.83 320.39 L429.98 319.81 L430.14 319.23 L430.30 318.66 L430.46 318.08 L430.61 317.50 L430.77 316.92 L430.93 316.35 L431.09 315.77 L431.25 315.19 L431.42 314.62 L431.58 314.04 L431.75 313.47 L431.92 312.89 L432.09 312.31 L432.27 311.74 L432.45 311.16 L432.63 310.58 L432.82 310.00 L433.01 309.42 L433.20 308.84 L433.41 308.26 L433.63 307.69 L433.86 307.13 L434.11 306.57 L434.38 306.02 L434.67 305.48 L434.99 304.95 L435.34 304.44 L435.71 303.96 L436.12 303.50 L436.55 303.09 L437.02 302.72 L437.51 302.42 L438.03 302.18 L438.58 302.03 L439.13 301.96 L439.68 301.99 L440.23 302.11 L440.76 302.31 L441.28 302.59 L441.78 302.92 L442.24 303.30 L442.68 303.72 L443.10 304.17 L443.49 304.65 L443.86 305.15 L444.21 305.66 L444.54 306.18 L444.85 306.70 L445.15 307.24 L445.43 307.78 L445.70 308.32 L445.96 308.87 L446.21 309.43 L446.45 309.98 L446.68 310.54 L446.91 311.10 L447.13 311.65 L447.35 312.22 L447.56 312.78 L447.76 313.34 L447.97 313.91 L448.16 314.47 L448.35 315.04 L448.54 315.61 L448.72 316.18 L448.90 316.76 L449.07 317.33 L449.24 317.90 L449.40 318.48 L449.56 319.06 L449.72 319.64 L449.88 320.22 L450.03 320.80 L450.18 321.38 L450.32 321.96 L450.47 322.55 L450.61 323.13 L450.75 323.71 L450.89 324.30 L451.02 324.88 L451.16 325.47 L451.29 326.05 L451.42 326.64 L451.55 327.22 L451.68 327.81 L451.80 328.40 L451.93 328.98 L452.05 329.57 L452.17 330.16 L452.29 330.75 L452.41 331.33 L452.53 331.92 L452.64 332.51 L452.76 333.10 L452.87 333.69 L452.98 334.28 L453.09 334.87 L453.20 335.46 L453.31 336.05 L453.42 336.64 L453.53 337.23 L453.63 337.82 L453.74 338.41 L453.85 339.00 L453.96 339.59 L454.06 340.18 L454.17 340.77 L454.28 341.36 L454.38 341.95 L454.49 342.54 L454.60 343.13 L454.71 343.72 L454.81 344.31 L454.92 344.90 L455.03 345.49 L455.14 346.08 L455.25 346.67 L455.36 347.26 L455.47 347.85 L455.58 348.44 L455.69 349.03 L455.80 349.62 L455.91 350.21 L456.02 350.80 L456.13 351.39 L456.23 351.98 L456.34 352.57 L456.45 353.16 L456.56 353.75 L456.67 354.34 L456.78 354.93 L456.89 355.52 L457.00 356.11 L457.11 356.70 L457.22 357.29 L457.32 357.88 L457.43 358.47 L457.54 359.06 L457.65 359.65 L457.76 360.24 L457.87 360.83 L457.97 361.42 L458.08 362.01 L458.19 362.60 L458.30 363.19 L458.41 363.78 L458.51 364.38 L458.62 364.97 L458.73 365.56 L458.84 366.15 L458.95 366.74 L459.06 367.33 L459.17 367.91 L459.28 368.50 L459.39 369.09 L459.50 369.68 L459.62 370.27 L459.73 370.86 L459.84 371.45 L459.96 372.04 L460.07 372.63 L460.19 373.22 L460.30 373.81 L460.42 374.40 L460.54 374.98 L460.66 375.57 L460.78 376.16 L460.91 376.75 L461.03 377.33 L461.16 377.92 L461.29 378.51 L461.41 379.09 L461.54 379.68 L461.68 380.26 L461.81 380.85 L461.94 381.43 L462.08 382.02 L462.22 382.60 L462.35 383.18 L462.49 383.77 L462.63 384.35 L462.78 384.93 L462.92 385.52 L463.06 386.10 L463.21 386.68 L463.35 387.26 L463.50 387.85 L463.65 388.43 L463.79 389.01 L463.94 389.59 L464.09 390.17 L464.24 390.75 L464.39 391.34 L464.54 391.92 L464.68 392.50 L464.83 393.08 L464.98 393.66 L465.13 394.24 L465.28 394.82 L465.42 395.41 L465.57 395.99 L465.72 396.57 L465.86 397.15 L466.01 397.73 L466.16 398.31 L466.30 398.90 L466.45 399.48 L466.60 400.06 L466.75 400.64 L466.90 401.22 L467.06 401.80 L467.21 402.38 L467.36 402.96 L467.52 403.54 L467.68 404.12 L467.84 404.70 L468.00 405.27 L468.16 405.85 L468.32 406.43 L468.49 407.01 L468.65 407.58 L468.82 408.16 L468.99 408.74 L469.15 409.31 L469.32 409.89 L469.49 410.47 L469.66 411.04 L469.83 411.62 L470.00 412.19 L470.17 412.77 L470.34 413.34 L470.50 413.92 L470.67 414.50 L470.84 415.07 L471.00 415.65 L471.17 416.23 L471.33 416.80 L471.49 417.38 L471.65 417.96 L471.81 418.54 L471.96 419.12 L472.12 419.70 L472.27 420.28 L472.42 420.86 L472.58 421.44 L472.73 422.02 L472.87 422.60 L473.02 423.18 L473.17 423.76 L473.31 424.35 L473.46 424.93 L473.60 425.51 L473.74 426.09 L473.89 426.68 L474.03 427.26 L474.17 427.84 L474.31 428.43 L474.45 429.01 L474.59 429.59 L474.73 430.18 L474.87 430.76 L475.01 431.34 L475.15 431.93 L475.29 432.51 L475.43 433.09 L475.57 433.68 L475.72 434.26 L475.86 434.84 L476.00 435.43 L476.14 436.01 L476.29 436.59 L476.43 437.17 L476.58 437.76 L476.73 438.34 L476.87 438.92 L477.03 439.50 L477.18 440.08 L477.33 440.66 L477.49 441.24 L477.66 441.82 L477.82 442.39 L477.99 442.97 L478.17 443.54 L478.35 444.12 L478.53 444.69 L478.73 445.25 L478.92 445.82 L479.13 446.38 L479.33 446.95 L479.54 447.51 L479.76 448.07 L479.97 448.63 L480.18 449.19 L480.39 449.76 L480.59 450.32 L480.79 450.88 L480.99 451.45 L481.18 452.02 L481.38 452.59 L481.56 453.16 L481.75 453.73 L481.94 454.30 L482.13 454.87 L482.32 455.44 L482.51 456.00 L482.70 456.57 L482.90 457.14 L483.09 457.71 L483.29 458.27 L483.49 458.84 L483.69 459.40 L483.90 459.97 L484.10 460.53 L484.30 461.10 L484.51 461.66 L484.71 462.23 L484.92 462.79 L485.12 463.35 L485.33 463.92 L485.53 464.48 L485.74 465.04 L485.95 465.61 L486.16 466.17 L486.38 466.73 L486.59 467.29 L486.82 467.85 L487.04 468.40 L487.27 468.96 L487.50 469.51 L487.74 470.06 L487.98 470.61 L488.23 471.16 L488.49 471.70 L488.76 472.24 L489.03 472.77 L489.32 473.30 L489.61 473.83 L489.92 474.34 L490.23 474.85 L490.56 475.35 L490.90 475.85 L491.25 476.33 L491.61 476.81 L491.98 477.29 L492.36 477.75 L492.75 478.21 L493.15 478.66 L493.55 479.11 L493.96 479.54 L494.38 479.97 L494.80 480.40 L495.23 480.82 L495.67 481.23 L496.11 481.64 L496.55 482.04 L497.00 482.44 L497.45 482.84 L497.91 483.23 L498.36 483.62 L498.82 484.01 L499.28 484.39 L499.75 484.78 L500.21 485.16 L500.67 485.54 L501.13 485.93 L501.59 486.31 L502.05 486.71 L502.49 487.10 L502.94 487.51 L503.37 487.92 L503.80 488.34 L504.22 488.77 L504.63 489.20 L505.03 489.65 L505.43 490.10 L505.82 490.55 L506.20 491.01 L506.59 491.48 L506.96 491.94 L507.34 492.41 L507.71 492.88 L508.08 493.36 L508.45 493.83 L508.82 494.30 L509.18 494.78 L509.55 495.26 L509.92 495.73 L510.28 496.21 L510.65 496.68 L511.01 497.16 L511.38 497.63 L511.75 498.11 L512.11 498.58 L512.48 499.06 L512.85 499.53 L513.22 500.00 L513.59 500.47 L513.96 500.94 L514.34 501.41 L514.71 501.89 L515.08 502.36 L515.45 502.83 L515.82 503.30 L516.19 503.77 L516.56 504.25 L516.92 504.73 L517.28 505.21 L517.63 505.69 L517.98 506.18 L518.33 506.67 L518.67 507.16 L519.00 507.66 L519.34 508.16 L519.67 508.66 L519.99 509.17 L520.31 509.68 L520.63 510.19 L520.94 510.70 L521.25 511.22 L521.55 511.74 L521.84 512.26 L522.13 512.79 L522.41 513.32 L522.67 513.86 L522.93 514.40 L523.18 514.94 L523.41 515.49 L523.64 516.05 L523.85 516.61 L524.06 517.17 L524.26 517.74 L524.46 518.30 L524.65 518.87 L524.83 519.45 L525.02 520.02 L525.20 520.59 L525.38 521.16 L525.56 521.74 L525.73 522.31 L525.91 522.89 L526.08 523.46 L526.25 524.04 L526.41 524.61 L526.57 525.19 L526.73 525.77 L526.89 526.35 L527.05 526.93 L527.20 527.51 L527.35 528.09 L527.49 528.67 L527.64 529.25 L527.78 529.84 L527.91 530.42 L528.05 531.01 L528.18 531.59 L528.31 532.18 L528.44 532.76 L528.57 533.35 L528.70 533.94 L528.82 534.52 L528.94 535.11 L529.07 535.70 L529.19 536.29 L529.32 536.87 L529.44 537.46 L529.57 538.04 L529.70 538.63 L529.83 539.22 L529.97 539.80 L530.11 540.38 L530.25 540.97 L530.40 541.55 L530.54 542.13 L530.69 542.71 L530.84 543.29 L530.98 543.88 L531.13 544.46 L531.27 545.04 L531.40 545.63 L531.53 546.21 L531.66 546.80 L531.78 547.38 L531.89 547.97 L532.00 548.56 L532.11 549.15 L532.22 549.74 L532.32 550.33 L532.42 550.93 L532.52 551.52 L532.61 552.11 L532.71 552.70 L532.80 553.30 L532.90 553.89 L532.99 554.48 L533.09 555.07 L533.19 555.67 L533.29 556.26 L533.39 556.85 L533.49 557.44 L533.60 558.03 L533.71 558.62 L533.82 559.21 L533.94 559.80 L534.05 560.39 L534.17 560.98 L534.29 561.56 L534.41 562.15 L534.53 562.74 L534.65 563.33 L534.77 563.92 L534.89 564.50 L535.01 565.09 L535.14 565.68 L535.26 566.27 L535.37 566.85 L535.49 567.44 L535.61 568.03 L535.73 568.62 L535.85 569.21 L535.97 569.80 L536.08 570.38 L536.20 570.97 L536.31 571.56 L536.43 572.15 L536.55 572.74 L536.66 573.33 L536.78 573.92 L536.89 574.51 L537.01 575.09 L537.12 575.68 L537.24 576.27 L537.35 576.86 L537.47 577.45 L537.59 578.04 L537.71 578.63 L537.83 579.21 L537.95 579.80 L538.08 580.39 L538.20 580.97 L538.33 581.56 L538.46 582.15 L538.59 582.73 L538.73 583.32 L538.86 583.90 L539.00 584.48 L539.14 585.07 L539.28 585.65 L539.42 586.23 L539.56 586.82 L539.71 587.40 L539.85 587.98 L540.00 588.56 L540.14 589.15 L540.29 589.73 L540.44 590.31 L540.58 590.89 L540.73 591.47 L540.88 592.05 L541.03 592.64 L541.18 593.22 L541.34 593.80 L541.49 594.38 L541.65 594.96 L541.81 595.53 L541.96 596.11 L542.12 596.69 L542.29 597.27 L542.45 597.85 L542.62 598.42 L542.78 599.00 L542.96 599.57 L543.13 600.15 L543.31 600.72 L543.49 601.29 L543.68 601.86 L543.87 602.43 L544.06 603.00 L544.26 603.57 L544.46 604.13 L544.67 604.69 L544.88 605.26 L545.09 605.82 L545.30 606.38 L545.52 606.94 L545.73 607.50 L545.94 608.06 L546.16 608.62 L546.37 609.18 L546.58 609.75 L546.78 610.31 L546.99 610.87 L547.20 611.44 L547.41 612.00 L547.62 612.56 L547.84 613.12 L548.06 613.68 L548.28 614.23 L548.51 614.79 L548.75 615.34 L548.99 615.89 L549.24 616.44 L549.49 616.98 L549.75 617.52 L550.02 618.06 L550.29 618.59 L550.57 619.13 L550.85 619.65 L551.14 620.18 L551.43 620.70 L551.73 621.22 L552.04 621.74 L552.35 622.25 L552.66 622.77 L552.98 623.28 L553.30 623.78 L553.62 624.29 L553.94 624.80 L554.27 625.30 L554.59 625.81 L554.92 626.31 L555.24 626.81 L555.57 627.32 L555.89 627.82 L556.21 628.33 L556.53 628.84 L556.85 629.35 L557.17 629.85 L557.49 630.36 L557.80 630.88 L558.11 631.39 L558.42 631.90 L558.73 632.42 L559.04 632.93 L559.34 633.45 L559.64 633.97 L559.94 634.49 L560.23 635.01 L560.52 635.54 L560.81 636.06 L561.10 636.59 L561.38 637.12 L561.66 637.65 L561.94 638.18 L562.21 638.72 L562.48 639.25 L562.75 639.79 L563.02 640.33 L563.28 640.87 L563.54 641.41 L563.80 641.95 L564.06 642.49 L564.31 643.03 L564.57 643.58 L564.82 644.12 L565.08 644.66 L565.33 645.21 L565.58 645.75 L565.83 646.30 L566.09 646.84 L566.34 647.39 L566.59 647.93 L566.84 648.47 L567.10 649.02 L567.35 649.56 L567.60 650.11 L567.86 650.65 L568.11 651.19 L568.37 651.74 L568.63 652.28 L568.88 652.82 L569.14 653.37 L569.40 653.91 L569.67 654.45 L569.93 654.98 L570.21 655.52 L570.48 656.05 L570.77 656.58 L571.05 657.10 L571.35 657.63 L571.65 658.14 L571.96 658.65 L572.28 659.16 L572.61 659.66 L572.95 660.16 L573.28 660.66 L573.63 661.15 L573.98 661.63 L574.33 662.12 L574.69 662.60 L575.05 663.08 L575.41 663.56 L575.78 664.04 L576.14 664.52 L576.51 664.99 L576.87 665.47 L577.24 665.94 L577.61 666.42 L577.98 666.89 L578.34 667.37 L578.71 667.84 L579.08 668.31 L579.45 668.78 L579.82 669.26 L580.19 669.73 L580.56 670.20 L580.93 670.68 L581.29 671.15 L581.66 671.63 L582.02 672.11 L582.39 672.58 L582.75 673.06 L583.11 673.54 L583.46 674.02 L583.82 674.51 L584.17 674.99 L584.53 675.48 L584.88 675.96 L585.24 676.45 L585.60 676.93 L585.95 677.41 L586.32 677.89 L586.68 678.37 L587.05 678.85 L587.42 679.32 L587.80 679.79 L588.19 680.26 L588.58 680.71 L588.99 681.15 L589.40 681.58 L589.83 682.00 L590.27 682.40 L590.72 682.79 L591.19 683.16 L591.67 683.50 L592.17 683.84 L592.68 684.15 L593.20 684.45 L593.72 684.74 L594.26 685.02 L594.80 685.29 L595.34 685.55 L595.89 685.81 L596.43 686.06 L596.98 686.31 L597.52 686.57 L598.06 686.84 L598.59 687.12 L599.10 687.42 L599.61 687.73 L600.10 688.07 L600.58 688.42 L601.05 688.79 L601.51 689.18 L601.96 689.57 L602.40 689.98 L602.83 690.40 L603.25 690.82 L603.67 691.26 L604.09 691.69 L604.50 692.13 L604.90 692.58 L605.31 693.02 L605.71 693.47 L606.12 693.91 L606.53 694.36 L606.94 694.80 L607.35 695.24 L607.77 695.67 L608.20 696.09 L608.64 696.51 L609.08 696.91 L609.54 697.29 L610.00 697.66 L610.48 698.02 L610.98 698.35 L611.49 698.65 L612.01 698.93 L612.54 699.20 L613.09 699.45 L613.64 699.70 L614.19 699.93 L614.75 700.17 L615.30 700.41 L615.85 700.66 L616.40 700.92 L616.94 701.19 L617.47 701.48 L617.99 701.78 L618.50 702.10 L618.99 702.43 L619.46 702.79 L619.92 703.16 L620.36 703.56 L620.78 703.98 L621.18 704.42 L621.56 704.88 L621.93 705.35 L622.28 705.84 L622.63 706.33 L622.96 706.84 L623.29 707.35 L623.60 707.87 L623.91 708.38 L624.22 708.91 L624.52 709.43 L624.82 709.95 L625.11 710.48 L625.40 711.01 L625.68 711.53 L625.97 712.06 L626.25 712.59 L626.53 713.12 L626.82 713.65 L627.10 714.18 L627.38 714.71 L627.67 715.24 L627.95 715.76 L628.24 716.29 L628.53 716.82 L628.82 717.34 L629.10 717.87 L629.40 718.39 L629.69 718.92 L629.98 719.44 L630.27 719.97 L630.57 720.49 L630.87 721.01 L631.16 721.53 L631.46 722.06 L631.76 722.58 L632.07 723.09 L632.38 723.61 L632.70 724.12 L633.03 724.62 L633.36 725.13 L633.70 725.62 L634.05 726.11 L634.41 726.60 L634.78 727.08 L635.16 727.55 L635.56 728.00 L635.97 728.45 L636.39 728.88 L636.82 729.30 L637.27 729.69 L637.73 730.07 L638.21 730.43 L638.71 730.77 L639.21 731.08 L639.74 731.36 L640.27 731.63 L640.82 731.86 L641.38 732.08 L641.95 732.27 L642.52 732.43 L643.11 732.57 L643.69 732.68 L644.29 732.78 L644.88 732.86 L645.48 732.93 L646.08 732.99 L646.69 733.05 L647.29 733.11 L647.89 733.17 L648.49 733.25 L649.09 733.34 L649.69 733.44 L650.28 733.56 L650.86 733.69 L651.43 733.85 L652.00 734.03 L652.56 734.24 L653.10 734.47 L653.64 734.73 L654.16 735.01 L654.68 735.31 L655.18 735.64 L655.67 735.98 L656.15 736.34 L656.63 736.71 L657.10 737.09 L657.56 737.48 L658.01 737.88 L658.46 738.28 L658.90 738.69 L659.34 739.11 L659.77 739.52 L660.20 739.94 L660.64 740.36 L661.07 740.77 L661.50 741.19 L661.94 741.60 L662.38 742.02 L662.82 742.43 L663.26 742.83 L663.70 743.24 L664.15 743.64 L664.60 744.03 L665.05 744.43 L665.50 744.82 L665.96 745.21 L666.42 745.60 L666.88 745.98 L667.35 746.35 L667.82 746.73 L668.30 747.09 L668.77 747.46 L669.26 747.81 L669.74 748.17 L670.23 748.51 L670.73 748.85 L671.23 749.18 L671.73 749.51 L672.24 749.83 L672.75 750.14 L673.26 750.45 L673.78 750.76 L674.30 751.06 L674.82 751.36 L675.34 751.65 L675.87 751.94 L676.39 752.23 L676.92 752.52 L677.45 752.81 L677.97 753.09 L678.50 753.38 L679.03 753.66 L679.56 753.95 L680.09 754.23 L680.61 754.52 L681.14 754.80 L681.67 755.09 L682.19 755.39 L682.72 755.68 L683.24 755.97 L683.76 756.27 L684.27 756.58 L684.79 756.88 L685.30 757.20 L685.81 757.51 L686.32 757.83 L686.82 758.16 L687.33 758.48 L687.83 758.81 L688.33 759.15 L688.83 759.48 L689.33 759.81 L689.83 760.15 L690.33 760.48 L690.83 760.81 L691.34 761.13 L691.85 761.45 L692.36 761.77 L692.88 762.08 L693.40 762.38 L693.92 762.66 L694.46 762.93 L694.99 763.19 L695.54 763.43 L696.09 763.66 L696.65 763.86 L697.22 764.06 L697.79 764.23 L698.37 764.40 L698.94 764.56 L699.53 764.71 L700.11 764.86 L700.69 765.01 L701.28 765.16 L701.86 765.31 L702.44 765.46 L703.02 765.62 L703.60 765.79 L704.17 765.96 L704.74 766.14 L705.31 766.32 L705.88 766.52 L706.44 766.73 L706.99 766.96 L707.55 767.19 L708.10 767.42 L708.65 767.67 L709.19 767.92 L709.73 768.17 L710.28 768.43 L710.82 768.69 L711.36 768.95 L711.90 769.21 L712.44 769.47 L712.98 769.74 L713.52 770.00 L714.06 770.26 L714.61 770.51 L715.15 770.77 L715.69 771.03 L716.23 771.28 L716.78 771.54 L717.32 771.79 L717.87 772.04 L718.41 772.29 L718.96 772.54 L719.50 772.79 L720.05 773.03 L720.60 773.28 L721.15 773.52 L721.69 773.77 L722.24 774.01 L722.79 774.26 L723.34 774.51 L723.88 774.75 L724.43 775.00 L724.98 775.25 L725.52 775.49 L726.07 775.74 L726.62 775.99 L727.16 776.23 L727.71 776.48 L728.26 776.73 L728.81 776.97 L729.35 777.22 L729.90 777.46 L730.45 777.71 L731.00 777.95 L731.55 778.18 L732.11 778.41 L732.66 778.64 L733.22 778.86 L733.78 779.08 L734.34 779.28 L734.91 779.48 L735.48 779.67 L736.05 779.86 L736.62 780.04 L737.19 780.21 L737.77 780.38 L738.34 780.55 L738.92 780.71 L739.50 780.87 L740.08 781.04 L740.66 781.20 L741.23 781.36 L741.81 781.52 L742.39 781.68 L742.97 781.83 L743.55 781.99 L744.13 782.15 L744.71 782.30 L745.29 782.45 L745.87 782.60 L746.45 782.75 L747.04 782.89 L747.62 783.04 L748.20 783.18 L748.78 783.33 L749.36 783.48 L749.95 783.62 L750.53 783.77 L751.11 783.93 L751.68 784.09 L752.26 784.25 L752.84 784.41 L753.41 784.58 L753.99 784.75 L754.56 784.92 L755.14 785.10 L755.71 785.27 L756.29 785.45 L756.86 785.63 L757.43 785.80 L758.01 785.98 L758.58 786.16 L759.15 786.33 L759.73 786.51 L760.30 786.68 L760.88 786.85 L761.45 787.02 L762.03 787.19 L762.61 787.35 L763.18 787.51 L763.76 787.67 L764.34 787.83 L764.92 787.98 L765.50 788.13 L766.09 788.27 L766.67 788.41 L767.25 788.55 L767.84 788.69 L768.42 788.82 L769.01 788.95 L769.60 789.07 L770.18 789.19 L770.77 789.31 L771.36 789.43 L771.95 789.55 L772.54 789.67 L773.13 789.78 L773.71 789.90 L774.30 790.02 L774.89 790.13 L775.48 790.25 L776.07 790.37 L776.66 790.49 L777.24 790.61 L777.83 790.73 L778.42 790.84 L779.01 790.95 L779.60 791.07 L780.19 791.17 L780.78 791.28 L781.37 791.38 L781.97 791.48 L782.56 791.57 L783.15 791.66 L783.75 791.75 L784.34 791.83 L784.93 791.91 L785.53 791.98 L786.13 792.05 L786.72 792.11 L787.32 792.17 L787.92 792.23 L788.52 792.27 L789.12 792.32 L789.71 792.35 L790.31 792.38 L790.91 792.40 L791.51 792.41 L792.11 792.42 L792.71 792.42 L793.31 792.41 L793.91 792.40 L794.51 792.39 L795.11 792.37 L795.71 792.34 L796.31 792.32 L796.91 792.29 L797.51 792.26 L798.11 792.24 L798.71 792.21 L799.31 792.19 L799.91 792.17 L800.51 792.16 L801.11 792.15 L801.71 792.15 L802.31 792.16 L802.91 792.18 L803.51 792.20 L804.11 792.24 L804.71 792.29 L805.31 792.35 L805.90 792.42 L806.49 792.50 L807.08 792.60 L807.67 792.70 L808.26 792.82 L808.84 792.96 L809.43 793.09 L810.01 793.24 L810.59 793.39 L811.17 793.54 L811.75 793.70 L812.34 793.85 L812.92 794.00 L813.50 794.15 L814.09 794.29 L814.67 794.42 L815.26 794.55 L815.85 794.67 L816.44 794.79 L817.03 794.89 L817.62 794.99 L818.21 795.08 L818.80 795.16 L819.40 795.22 L820.00 795.28 L820.59 795.33 L821.19 795.36 L821.79 795.39 L822.39 795.41 L822.99 795.42 L823.59 795.43 L824.19 795.42 L824.79 795.41 L825.39 795.39 L825.99 795.37 L826.59 795.34 L827.19 795.31 L827.79 795.28 L828.39 795.24 L828.99 795.20 L829.59 795.17 L830.19 795.13 L830.79 795.10 L831.39 795.06 L831.99 795.03 L832.59 795.01 L833.19 794.99 L833.79 794.98 L834.39 794.97 L834.99 794.98 L835.59 794.99 L836.19 795.01 L836.79 795.05 L837.39 795.09 L837.99 795.15 L838.58 795.23 L839.17 795.32 L839.76 795.44 L840.34 795.57 L840.92 795.72 L841.49 795.88 L842.06 796.06 L842.63 796.25 L843.20 796.45 L843.77 796.65 L844.33 796.85 L844.90 797.05 L845.47 797.26 L846.04 797.45 L846.60 797.65 L847.17 797.84 L847.75 798.03 L848.32 798.21 L848.89 798.38 L849.47 798.54 L850.05 798.69 L850.64 798.83 L851.22 798.96 L851.81 799.08 L852.40 799.19 L852.99 799.28 L853.58 799.35 L854.18 799.42 L854.77 799.47 L855.37 799.51 L855.97 799.54 L856.57 799.56 L857.17 799.57 L857.77 799.58 L858.38 799.58 L858.98 799.58 L859.58 799.58 L860.18 799.57 L860.78 799.55 L861.38 799.54 L861.98 799.52 L862.58 799.50 L863.18 799.47 L863.78 799.45 L864.38 799.42 L864.98 799.39 L865.58 799.36 L866.18 799.33 L866.78 799.30 L867.37 799.27 L867.97 799.24 L868.57 799.21 L869.17 799.18 L869.77 799.16 L870.37 799.13 L870.97 799.11 L871.57 799.09 L872.17 799.08 L872.77 799.06 L873.37 799.05 L873.97 799.04 L874.57 799.03 L875.17 799.02 L875.77 799.01 L876.37 799.01 L876.97 799.01 L877.58 799.00 L878.18 799.00 L878.78 798.99 L879.38 798.98 L879.99 798.97 L880.59 798.95 L881.20 798.92 L881.80 798.89 L882.40 798.84 L883.00 798.78 L883.60 798.70 L884.19 798.60 L884.76 798.47 L885.33 798.30 L885.88 798.10 L886.41 797.85 L886.93 797.57 L887.43 797.25 L887.92 796.91 L888.39 796.54 L888.84 796.14 L889.28 795.73 L889.70 795.30 L890.11 794.86 L890.50 794.40 L890.88 793.93 L891.25 793.45 L891.60 792.96 L891.95 792.46 L892.28 791.96 L892.61 791.45 L892.93 790.94 L893.24 790.42 L893.54 789.90 L893.83 789.38 L894.12 788.85 L894.40 788.32 L894.68 787.79 L894.95 787.25 L895.22 786.71 L895.48 786.17 L895.74 785.63 L895.99 785.09 L896.24 784.54 L896.48 783.99 L896.72 783.44 L896.96 782.89 L897.19 782.34 L897.42 781.78 L897.65 781.23 L897.87 780.67 L898.09 780.11 L898.31 779.55 L898.53 778.99 L898.74 778.43 L898.95 777.87 L899.15 777.31 L899.36 776.74 L899.56 776.18 L899.76 775.61 L899.96 775.04 L900.16 774.48 L900.35 773.91 L900.55 773.34 L900.74 772.78 L900.94 772.21 L901.13 771.64 L901.32 771.07 L901.51 770.50 L901.70 769.93 L901.89 769.36 L902.08 768.79 L902.27 768.23 L902.46 767.66 L902.65 767.09 L902.84 766.52 L903.02 765.95 L903.21 765.38 L903.40 764.81 L903.59 764.24 L903.78 763.67 L903.96 763.10 L904.15 762.53 L904.34 761.96 L904.53 761.39 L904.72 760.82 L904.91 760.25 L905.10 759.68 L905.28 759.11 L905.47 758.54 L905.66 757.97 L905.86 757.40 L906.05 756.83 L906.24 756.27 L906.43 755.70 L906.62 755.13 L906.82 754.57 L907.01 754.00 L907.21 753.43 L907.41 752.87 L907.61 752.30 L907.81 751.74 L908.01 751.17 L908.22 750.61 L908.42 750.04 L908.64 749.48 L908.85 748.91 L909.07 748.35 L909.29 747.79 L909.51 747.22 L909.74 746.66 L909.98 746.10 L910.22 745.55 L910.48 745.00 L910.75 744.46 L911.03 743.93 L911.32 743.40 L911.64 742.89 L911.97 742.39 L912.32 741.90 L912.70 741.43 L913.09 740.98 L913.51 740.55 L913.95 740.15 L914.41 739.77 L914.90 739.43 L915.40 739.12 L915.93 738.85 L916.47 738.61 L917.03 738.40 L917.60 738.23 L918.18 738.10 L918.77 737.99 L919.37 737.91 L919.97 737.86 L920.57 737.84 L921.17 737.83 L921.78 737.85 L922.38 737.87 L922.98 737.92 L923.58 737.98 L924.18 738.05 L924.78 738.14 L925.37 738.23 L925.96 738.34 L926.55 738.46 L927.14 738.58 L927.73 738.71 L928.31 738.84 L928.90 738.98 L929.49 739.11 L930.07 739.25 L930.66 739.38 L931.25 739.51 L931.83 739.65 L932.42 739.79 L933.00 739.93 L933.58 740.09 L934.16 740.25 L934.73 740.43 L935.30 740.62 L935.86 740.83 L936.42 741.06 L936.96 741.31 L937.49 741.58 L938.01 741.87 L938.52 742.18 L939.01 742.52 L939.49 742.87 L939.96 743.24 L940.42 743.63 L940.87 744.03 L941.31 744.44 L941.74 744.86 L942.16 745.29 L942.57 745.73 L942.98 746.17 L943.38 746.62 L943.77 747.08 L944.16 747.54 L944.55 748.00 L944.93 748.47 L945.31 748.93 L945.68 749.40 L946.05 749.87 L946.42 750.35 L946.79 750.82 L947.16 751.29 L947.53 751.77 L947.89 752.25 L948.26 752.72 L948.62 753.20 L948.98 753.68 L949.34 754.16 L949.71 754.63 L950.07 755.11 L950.43 755.59 L950.79 756.07 L951.15 756.55 L951.52 757.03 L951.88 757.51 L952.24 757.98 L952.60 758.46 L952.96 758.94 L953.32 759.42 L953.69 759.90 L954.05 760.38 L954.41 760.86 L954.77 761.34 L955.13 761.81 L955.50 762.29 L955.86 762.77 L956.22 763.25 L956.58 763.73 L956.95 764.20 L957.31 764.68 L957.68 765.15 L958.05 765.63 L958.43 766.10 L958.80 766.57 L959.18 767.03 L959.56 767.50 L959.95 767.96 L960.34 768.41 L960.74 768.87 L961.15 769.31 L961.56 769.75 L961.98 770.18 L962.41 770.60 L962.86 771.00 L963.31 771.40 L963.77 771.78 L964.24 772.15 L964.73 772.50 L965.23 772.83 L965.74 773.14 L966.26 773.43 L966.80 773.69 L967.35 773.92 L967.91 774.13 L968.47 774.32 L969.05 774.49 L969.63 774.64 L970.22 774.77 L970.81 774.89 L971.40 774.99 L972.00 775.08 L972.59 775.15 L973.19 775.22 L973.79 775.27 L974.39 775.31 L975.00 775.33 L975.60 775.35 L976.20 775.36 L976.80 775.36 L977.40 775.35 L978.00 775.33 L978.60 775.29 L979.20 775.25 L979.80 775.20 L980.40 775.13 L981.00 775.05 L981.59 774.96 L982.18 774.85 L982.77 774.73 L983.35 774.59 L983.93 774.44 L984.51 774.27 L985.08 774.09 L985.64 773.89 L986.20 773.67 L986.75 773.43 L987.29 773.18 L987.82 772.90 L988.34 772.62 L988.86 772.31 L989.37 772.00 L989.87 771.67 L990.37 771.34 L990.87 771.00 L991.37 770.66 L991.86 770.31 L992.35 769.96 L992.84 769.61 L993.33 769.26 L993.83 768.92 L994.32 768.57 L994.82 768.23 L995.32 767.90 L995.82 767.57 L996.32 767.24 L996.82 766.92 L997.33 766.60 L997.84 766.28 L998.36 765.97 L998.88 765.67 L999.40 765.38 L999.92 765.09 L1000.45 764.80 L1000.98 764.53 L1001.52 764.26 L1002.06 764.00 L1002.60 763.75 L1003.15 763.50 L1003.70 763.26 L1004.25 763.03 L1004.81 762.79 L1005.36 762.56 L1005.92 762.34 L1006.47 762.11 L1007.03 761.89 L1007.59 761.66 L1008.14 761.44 L1008.70 761.22 L1009.26 760.99 L1009.81 760.77 L1010.37 760.54 L1010.93 760.32 L1011.48 760.09 L1012.04 759.87 L1012.60 759.65 L1013.16 759.43 L1013.72 759.22 L1014.28 759.02 L1014.85 758.82 L1015.42 758.63 L1015.99 758.44 L1016.56 758.27 L1017.14 758.10 L1017.72 757.94 L1018.30 757.78 L1018.88 757.64 L1019.46 757.50 L1020.05 757.37 L1020.64 757.25 L1021.23 757.13 L1021.82 757.03 L1022.41 756.93 L1023.00 756.84 L1023.60 756.76 L1024.19 756.69 L1024.79 756.63 L1025.39 756.57 L1025.98 756.52 L1026.58 756.48 L1027.18 756.44 L1027.78 756.41 L1028.38 756.38 L1028.98 756.36 L1029.58 756.33 L1030.18 756.31 L1030.78 756.28 L1031.38 756.25 L1031.98 756.21 L1032.57 756.17 L1033.17 756.12 L1033.77 756.08 L1034.37 756.03 L1034.97 755.98 L1035.57 755.93 L1036.16 755.88 L1036.76 755.84 L1037.36 755.80 L1037.96 755.76 L1038.56 755.74 L1039.16 755.72 L1039.76 755.71 L1040.36 755.70 L1040.96 755.71 L1041.56 755.73 L1042.16 755.76 L1042.76 755.81 L1043.35 755.86 L1043.95 755.93 L1044.54 756.01 L1045.14 756.10 L1045.73 756.20 L1046.32 756.31 L1046.90 756.44 L1047.49 756.56 L1048.08 756.69 L1048.66 756.82 L1049.25 756.94 L1049.84 757.04 L1050.43 757.14 L1051.02 757.21 L1051.62 757.28 L1052.21 757.33 L1052.81 757.37 L1053.41 757.41 L1054.01 757.43 L1054.61 757.45 L1055.21 757.47 L1055.81 757.47 L1056.41 757.48 L1057.01 757.48 L1057.61 757.47 L1058.21 757.46 L1058.81 757.45 L1059.41 757.43 L1060.01 757.41 L1060.61 757.39 L1061.22 757.36 L1061.82 757.34 L1062.42 757.32 L1063.02 757.31 L1063.62 757.30 L1064.21 757.29 L1064.81 757.30 L1065.41 757.32 L1066.01 757.35 L1066.60 757.39 L1067.20 757.45 L1067.80 757.51 L1068.39 757.58 L1068.99 757.66 L1069.58 757.74 L1070.18 757.82 L1070.77 757.91 L1071.37 757.99 L1071.97 758.08 L1072.56 758.16 L1073.16 758.23 L1073.76 758.29 L1074.36 758.35 L1074.96 758.39 L1075.56 758.42 L1076.16 758.44 L1076.76 758.44 L1077.36 758.42 L1077.95 758.38 L1078.55 758.31 L1079.13 758.23 L1079.72 758.11 L1080.29 757.97 L1080.86 757.80 L1081.43 757.61 L1081.99 757.40 L1082.55 757.18 L1083.11 756.95 L1083.66 756.72 L1084.22 756.48 L1084.78 756.25 L1085.34 756.03 L1085.91 755.82 L1086.48 755.62 L1087.05 755.44 L1087.62 755.28 L1088.20 755.14 L1088.79 755.03 L1089.37 754.94 L1089.97 754.88 L1090.56 754.84 L1091.16 754.83 L1091.76 754.83 L1092.36 754.86 L1092.96 754.90 L1093.56 754.96 L1094.15 755.03 L1094.75 755.10 L1095.35 755.18 L1095.95 755.26 L1096.55 755.34 L1097.15 755.41 L1097.75 755.46 L1098.35 755.50 L1098.95 755.52 L1099.55 755.53 L1100.15 755.51 L1100.74 755.46 L1101.34 755.39 L1101.92 755.29 L1102.50 755.15 L1103.07 755.00 L1103.64 754.81 L1104.20 754.60 L1104.75 754.36 L1105.29 754.11 L1105.82 753.83 L1106.34 753.53 L1106.86 753.23 L1107.38 752.91 L1107.88 752.58 L1108.39 752.25 L1108.90 751.92 L1109.41 751.59 L1109.92 751.27 L1110.44 750.96 L1110.96 750.66 L1111.48 750.38 L1112.02 750.12 L1112.57 749.88 L1113.13 749.67 L1113.69 749.48 L1114.26 749.32 L1114.85 749.19 L1115.43 749.08 L1116.02 749.00 L1116.62 748.94 L1117.21 748.91 L1117.81 748.90 L1118.41 748.91 L1119.02 748.93 L1119.62 748.97 L1120.22 749.01 L1120.82 749.07 L1121.42 749.13 L1122.02 749.20 L1122.62 749.27 L1123.22 749.33 L1123.82 749.40 L1124.42 749.47 L1125.02 749.53 L1125.62 749.58 L1126.23 749.61 L1126.83 749.63 L1127.42 749.63 L1128.02 749.60 L1128.61 749.54 L1129.20 749.45 L1129.78 749.33 L1130.36 749.18 L1130.93 749.01 L1131.49 748.80 L1132.04 748.57 L1132.58 748.31 L1133.11 748.03 L1133.64 747.74 L1134.15 747.43 L1134.67 747.11 L1135.18 746.78 L1135.68 746.45 L1136.19 746.12 L1136.70 745.79 L1137.21 745.47 L1137.73 745.17 L1138.25 744.87 L1138.78 744.60 L1139.32 744.35 L1139.87 744.12 L1140.43 743.91 L1141.00 743.74 L1141.57 743.58 L1142.15 743.45 L1142.74 743.34 L1143.33 743.25 L1143.93 743.18 L1144.52 743.12 L1145.13 743.08 L1145.73 743.05 L1146.33 743.03 L1146.93 743.00 L1147.54 742.98 L1148.14 742.96 L1148.74 742.93 L1149.34 742.90 L1149.94 742.85 L1150.54 742.79 L1151.13 742.71 L1151.72 742.61 L1152.30 742.50 L1152.89 742.36 L1153.46 742.20 L1154.03 742.02 L1154.60 741.83 L1155.16 741.62 L1155.71 741.39 L1156.26 741.14 L1156.80 740.89 L1157.34 740.63 L1157.88 740.36 L1158.42 740.09 L1158.96 739.82 L1159.49 739.55 L1160.03 739.29 L1160.58 739.03 L1161.12 738.77 L1161.67 738.53 L1162.23 738.30 L1162.79 738.07 L1163.35 737.86 L1163.92 737.66 L1164.49 737.47 L1165.07 737.29 L1165.65 737.14 L1166.23 737.02 L1166.82 736.92 L1167.41 736.86 L1168.01 736.84 L1168.61 736.85 L1169.20 736.90 L1169.79 736.98 L1170.38 737.09 L1170.96 737.23 L1171.54 737.40 L1172.11 737.59 L1172.67 737.81 L1173.22 738.05 L1173.76 738.31 L1174.30 738.58 L1174.83 738.87 L1175.36 739.17 L1175.88 739.47 L1176.39 739.79 L1176.90 740.11 L1177.41 740.43 L1177.92 740.75 L1178.43 741.08 L1178.94 741.40 L1179.45 741.72 L1179.96 742.03 L1180.48 742.33 L1181.01 742.62 L1181.54 742.90 L1182.08 743.16 L1182.62 743.40 L1183.18 743.63 L1183.74 743.84 L1184.30 744.03 L1184.88 744.19 L1185.45 744.33 L1186.04 744.45 L1186.63 744.55 L1187.22 744.64 L1187.82 744.71 L1188.42 744.77 L1189.02 744.83 L1189.62 744.88 L1190.22 744.93 L1190.82 744.98 L1191.42 745.03 L1192.02 745.10 L1192.62 745.17 L1193.21 745.27 L1193.80 745.38 L1194.38 745.51 L1194.96 745.67 L1195.53 745.84 L1196.09 746.04 L1196.65 746.25 L1197.19 746.49 L1197.73 746.75 L1198.26 747.03 L1198.79 747.32 L1199.30 747.63 L1199.81 747.95 L1200.31 748.28 L1200.81 748.61 L1201.31 748.96 L1201.80 749.30 L1202.29 749.65 L1202.77 750.01 L1203.25 750.37 L1203.73 750.73 L1204.21 751.10 L1204.69 751.46 L1205.16 751.83 L1205.64 752.20 L1206.12 752.56 L1206.59 752.93 L1207.07 753.29 L1207.56 753.65 L1208.04 754.00 L1208.54 754.35 L1209.03 754.69 L1209.53 755.02 L1210.04 755.34 L1210.56 755.65 L1211.08 755.94 L1211.61 756.22 L1212.15 756.49 L1212.69 756.73 L1213.25 756.96 L1213.81 757.17 L1214.38 757.36 L1214.95 757.53 L1215.53 757.68 L1216.12 757.81 L1216.71 757.91 L1217.30 757.99 L1217.90 758.06 L1218.49 758.10 L1219.09 758.13 L1219.69 758.13 L1220.29 758.12 L1220.89 758.10 L1221.49 758.06 L1222.09 758.01 L1222.69 757.95 L1223.29 757.88 L1223.89 757.81 L1224.48 757.72 L1225.08 757.64 L1225.68 757.55 L1226.27 757.47 L1226.87 757.39 L1227.47 757.32 L1228.07 757.25 L1228.67 757.20 L1229.27 757.16 L1229.87 757.14 L1230.47 757.13 L1231.07 757.16 L1231.66 757.20 L1232.26 757.28 L1232.84 757.39 L1233.42 757.52 L1234.00 757.68 L1234.56 757.88 L1235.11 758.10 L1235.65 758.35 L1236.18 758.63 L1236.69 758.93 L1237.20 759.26 L1237.69 759.60 L1238.18 759.96 L1238.65 760.33 L1239.12 760.72 L1239.57 761.11 L1240.02 761.51 L1240.46 761.92 L1240.90 762.34 L1241.33 762.76 L1241.76 763.18 L1242.18 763.61 L1242.60 764.04 L1243.02 764.47 L1243.44 764.90 L1243.87 765.33 L1244.29 765.76 L1244.71 766.18 L1245.14 766.60 L1245.58 767.02 L1246.02 767.43 L1246.47 767.83 L1246.92 768.23 L1247.38 768.61 L1247.86 768.99 L1248.34 769.35 L1248.83 769.70 L1249.33 770.03 L1249.84 770.34 L1250.36 770.63 L1250.90 770.90 L1251.44 771.15 L1252.00 771.37 L1252.56 771.57 L1253.13 771.73 L1253.71 771.86 L1254.30 771.97 L1254.89 772.04 L1255.49 772.10 L1256.09 772.13 L1256.69 772.13 L1257.29 772.12 L1257.89 772.09 L1258.49 772.05 L1259.09 772.00 L1259.69 771.93 L1260.29 771.87 L1260.89 771.80 L1261.49 771.73 L1262.09 771.66 L1262.69 771.60 L1263.29 771.55 L1263.89 771.51 L1264.49 771.47 L1265.09 771.45 L1265.69 771.44 L1266.28 771.45 L1266.88 771.48 L1267.48 771.52 L1268.08 771.57 L1268.67 771.65 L1269.26 771.74 L1269.85 771.85 L1270.44 771.98 L1271.02 772.13 L1271.59 772.29 L1272.16 772.48 L1272.73 772.67 L1273.29 772.88 L1273.85 773.10 L1274.41 773.34 L1274.96 773.58 L1275.50 773.83 L1276.04 774.09 L1276.58 774.36 L1277.11 774.64 L1277.65 774.92 L1278.18 775.20 L1278.70 775.49 L1279.23 775.78 L1279.75 776.08 L1280.27 776.37 L1280.80 776.67 L1281.32 776.97 L1281.84 777.27 L1282.36 777.57 L1282.87 777.87 L1283.39 778.17 L1283.91 778.47 L1284.43 778.77 L1284.95 779.07 L1285.48 779.36 L1286.00 779.66 L1286.52 779.95 L1287.05 780.24 L1287.58 780.52 L1288.11 780.81 L1288.64 781.08 L1289.18 781.35 L1289.71 781.62 L1290.26 781.88 L1290.80 782.13 L1291.35 782.37 L1291.90 782.60 L1292.46 782.83 L1293.02 783.04 L1293.58 783.25 L1294.14 783.46 L1294.71 783.66 L1295.27 783.86 L1295.84 784.05 L1296.41 784.25 L1296.98 784.44 L1297.55 784.63 L1298.12 784.82 L1298.69 785.00 L1299.26 785.19 L1299.83 785.38 L1300.40 785.57 L1300.97 785.75 L1301.54 785.94 L1302.11 786.13 L1302.68 786.32 L1303.25 786.50 L1303.82 786.69 L1304.39 786.88 L1304.96 787.07 L1305.53 787.25 L1306.10 787.44 L1306.67 787.63 L1307.24 787.82 L1307.80 788.02 L1308.37 788.22 L1308.93 788.42 L1309.50 788.63 L1310.06 788.85 L1310.62 789.06 L1311.17 789.29 L1311.73 789.52 L1312.28 789.75 L1312.83 790.00 L1313.37 790.24 L1313.92 790.50 L1314.46 790.76 L1314.99 791.02 L1315.53 791.29 L1316.06 791.57 L1316.59 791.85 L1317.12 792.13 L1317.65 792.42 L1318.18 792.71 L1318.70 793.00 L1319.22 793.29 L1319.74 793.59 L1320.26 793.89 L1320.78 794.19 L1321.30 794.50 L1321.82 794.80 L1322.33 795.11 L1322.85 795.42 L1323.36 795.73 L1323.87 796.04 L1324.39 796.35 L1324.90 796.66 L1325.42 796.97 L1325.93 797.28 L1326.45 797.59 L1326.96 797.89 L1327.48 798.19 L1328.00 798.49 L1328.53 798.79 L1329.05 799.07 L1329.58 799.36 L1330.12 799.63 L1330.66 799.90 L1331.20 800.16 L1331.74 800.41 L1332.29 800.65 L1332.85 800.88 L1333.41 801.10 L1333.97 801.30 L1334.54 801.49 L1335.11 801.67 L1335.69 801.83 L1336.27 801.98 L1336.85 802.11 L1337.44 802.23 L1338.03 802.33 L1338.63 802.42 L1339.22 802.50 L1339.82 802.56 L1340.42 802.61 L1341.01 802.65 L1341.61 802.68 L1342.21 802.70 L1342.82 802.72 L1343.42 802.73 L1344.02 802.74 L1344.62 802.74 L1345.22 802.74 L1345.82 802.74 L1346.42 802.73 L1347.02 802.73 L1347.62 802.72 L1348.22 802.72 L1348.82 802.72 L1349.42 802.72 L1350.02 802.72 L1350.62 802.72 L1351.22 802.72 L1351.82 802.71 L1352.14 802.71" stroke="#377eb8"/>
<path d="M152.50 823.60 L152.98 823.25 L153.47 822.89 L153.96 822.54 L154.45 822.20 L154.94 821.86 L155.44 821.52 L155.94 821.19 L156.44 820.87 L156.95 820.54 L157.45 820.22 L157.96 819.90 L158.47 819.58 L158.98 819.26 L159.48 818.94 L159.99 818.61 L160.50 818.29 L161.00 817.97 L161.51 817.65 L162.01 817.32 L162.51 816.99 L163.01 816.65 L163.50 816.31 L163.99 815.96 L164.47 815.60 L164.95 815.24 L165.42 814.87 L165.88 814.48 L166.34 814.09 L166.78 813.69 L167.21 813.27 L167.64 812.85 L168.05 812.41 L168.45 811.96 L168.84 811.51 L169.21 811.04 L169.58 810.57 L169.94 810.08 L170.29 809.59 L170.63 809.10 L170.96 808.60 L171.28 808.09 L171.59 807.58 L171.90 807.06 L172.20 806.54 L172.49 806.02 L172.78 805.49 L173.07 804.96 L173.35 804.43 L173.62 803.90 L173.89 803.36 L174.15 802.82 L174.41 802.28 L174.67 801.74 L174.91 801.19 L175.16 800.64 L175.40 800.09 L175.63 799.54 L175.86 798.98 L176.08 798.43 L176.30 797.87 L176.52 797.31 L176.73 796.75 L176.93 796.18 L177.13 795.62 L177.33 795.05 L177.53 794.48 L177.72 793.91 L177.91 793.34 L178.10 792.77 L178.28 792.20 L178.47 791.63 L178.66 791.06 L178.84 790.49 L179.03 789.92 L179.22 789.35 L179.41 788.78 L179.60 788.22 L179.79 787.65 L179.98 787.08 L180.17 786.51 L180.36 785.94 L180.55 785.37 L180.74 784.80 L180.92 784.23 L181.11 783.66 L181.29 783.09 L181.46 782.51 L181.64 781.94 L181.81 781.37 L181.99 780.79 L182.16 780.22 L182.32 779.64 L182.49 779.06 L182.65 778.49 L182.82 777.91 L182.98 777.33 L183.14 776.75 L183.30 776.17 L183.46 775.59 L183.62 775.02 L183.77 774.44 L183.93 773.86 L184.08 773.28 L184.24 772.70 L184.39 772.12 L184.54 771.54 L184.69 770.96 L184.84 770.37 L184.99 769.79 L185.14 769.21 L185.29 768.63 L185.43 768.05 L185.58 767.47 L185.72 766.88 L185.86 766.30 L186.00 765.72 L186.13 765.13 L186.27 764.55 L186.40 763.96 L186.53 763.38 L186.66 762.79 L186.79 762.20 L186.92 761.62 L187.05 761.03 L187.17 760.44 L187.29 759.86 L187.42 759.27 L187.54 758.68 L187.66 758.10 L187.78 757.51 L187.90 756.92 L188.03 756.33 L188.15 755.74 L188.27 755.16 L188.39 754.57 L188.50 753.98 L188.62 753.39 L188.74 752.80 L188.86 752.22 L188.97 751.63 L189.09 751.04 L189.21 750.45 L189.32 749.86 L189.44 749.27 L189.55 748.68 L189.66 748.09 L189.77 747.50 L189.89 746.91 L190.00 746.32 L190.11 745.73 L190.22 745.14 L190.33 744.55 L190.43 743.96 L190.54 743.37 L190.65 742.78 L190.75 742.19 L190.86 741.60 L190.96 741.01 L191.07 740.42 L191.17 739.83 L191.28 739.24 L191.38 738.65 L191.48 738.06 L191.58 737.46 L191.68 736.87 L191.78 736.28 L191.88 735.69 L191.98 735.10 L192.08 734.51 L192.17 733.91 L192.27 733.32 L192.36 732.73 L192.46 732.14 L192.55 731.54 L192.64 730.95 L192.74 730.36 L192.83 729.77 L192.92 729.17 L193.01 728.58 L193.10 727.99 L193.18 727.39 L193.27 726.80 L193.36 726.20 L193.45 725.61 L193.54 725.02 L193.63 724.42 L193.71 723.83 L193.80 723.24 L193.89 722.64 L193.98 722.05 L194.07 721.46 L194.16 720.86 L194.25 720.27 L194.34 719.68 L194.43 719.08 L194.52 718.49 L194.61 717.90 L194.70 717.30 L194.79 716.71 L194.88 716.12 L194.96 715.52 L195.05 714.93 L195.13 714.34 L195.22 713.74 L195.30 713.15 L195.38 712.55 L195.46 711.96 L195.54 711.36 L195.62 710.77 L195.70 710.17 L195.78 709.58 L195.86 708.99 L195.93 708.39 L196.01 707.80 L196.09 707.20 L196.17 706.61 L196.25 706.01 L196.33 705.42 L196.41 704.82 L196.49 704.23 L196.57 703.63 L196.65 703.04 L196.74 702.44 L196.82 701.85 L196.90 701.25 L196.98 700.66 L197.06 700.07 L197.13 699.47 L197.21 698.88 L197.29 698.28 L197.36 697.68 L197.43 697.09 L197.50 696.49 L197.57 695.90 L197.64 695.30 L197.70 694.70 L197.76 694.11 L197.83 693.51 L197.89 692.91 L197.95 692.32 L198.01 691.72 L198.06 691.12 L198.12 690.53 L198.18 689.93 L198.23 689.33 L198.29 688.73 L198.35 688.14 L198.40 687.54 L198.46 686.94 L198.51 686.34 L198.57 685.75 L198.62 685.15 L198.68 684.55 L198.74 683.95 L198.79 683.36 L198.85 682.76 L198.91 682.16 L198.97 681.56 L199.03 680.97 L199.09 680.37 L199.16 679.77 L199.22 679.18 L199.29 678.58 L199.36 677.99 L199.43 677.39 L199.50 676.79 L199.57 676.20 L199.64 675.60 L199.72 675.01 L199.79 674.41 L199.87 673.82 L199.95 673.22 L200.03 672.63 L200.10 672.03 L200.18 671.44 L200.26 670.84 L200.34 670.25 L200.42 669.65 L200.50 669.06 L200.58 668.47 L200.66 667.87 L200.74 667.28 L200.82 666.68 L200.90 666.09 L200.98 665.49 L201.06 664.90 L201.14 664.30 L201.22 663.71 L201.29 663.11 L201.37 662.52 L201.44 661.92 L201.51 661.33 L201.59 660.73 L201.66 660.13 L201.73 659.54 L201.80 658.94 L201.88 658.35 L201.95 657.75 L202.02 657.16 L202.09 656.56 L202.16 655.96 L202.23 655.37 L202.30 654.77 L202.37 654.18 L202.44 653.58 L202.51 652.98 L202.58 652.39 L202.65 651.79 L202.72 651.20 L202.79 650.60 L202.86 650.00 L202.93 649.41 L203.00 648.81 L203.07 648.22 L203.14 647.62 L203.21 647.03 L203.29 646.43 L203.36 645.83 L203.43 645.24 L203.50 644.64 L203.58 644.05 L203.65 643.45 L203.72 642.86 L203.79 642.26 L203.86 641.66 L203.94 641.07 L204.01 640.47 L204.08 639.88 L204.15 639.28 L204.22 638.69 L204.29 638.09 L204.36 637.49 L204.43 636.90 L204.50 636.30 L204.57 635.71 L204.64 635.11 L204.71 634.51 L204.78 633.92 L204.84 633.32 L204.91 632.73 L204.98 632.13 L205.04 631.53 L205.11 630.94 L205.18 630.34 L205.24 629.74 L205.31 629.15 L205.37 628.55 L205.44 627.96 L205.50 627.36 L205.57 626.76 L205.63 626.17 L205.70 625.57 L205.76 624.97 L205.83 624.38 L205.89 623.78 L205.95 623.18 L206.02 622.59 L206.08 621.99 L206.15 621.39 L206.21 620.80 L206.28 620.20 L206.34 619.60 L206.41 619.01 L206.47 618.41 L206.54 617.81 L206.60 617.22 L206.67 616.62 L206.73 616.03 L206.80 615.43 L206.86 614.83 L206.93 614.24 L206.99 613.64 L207.06 613.04 L207.12 612.45 L207.19 611.85 L207.26 611.25 L207.32 610.66 L207.39 610.06 L207.46 609.46 L207.52 608.87 L207.59 608.27 L207.66 607.68 L207.72 607.08 L207.79 606.48 L207.86 605.89 L207.92 605.29 L207.99 604.69 L208.06 604.10 L208.12 603.50 L208.19 602.91 L208.26 602.31 L208.32 601.71 L208.39 601.12 L208.46 600.52 L208.52 599.92 L208.59 599.33 L208.65 598.73 L208.72 598.14 L208.78 597.54 L208.85 596.94 L208.91 596.35 L208.98 595.75 L209.04 595.15 L209.11 594.56 L209.17 593.96 L209.23 593.36 L209.29 592.77 L209.36 592.17 L209.42 591.57 L209.48 590.98 L209.54 590.38 L209.60 589.78 L209.66 589.18 L209.72 588.59 L209.78 587.99 L209.84 587.39 L209.90 586.80 L209.96 586.20 L210.01 585.60 L210.07 585.00 L210.13 584.41 L210.19 583.81 L210.25 583.21 L210.31 582.62 L210.37 582.02 L210.43 581.42 L210.49 580.83 L210.55 580.23 L210.61 579.63 L210.67 579.03 L210.73 578.44 L210.79 577.84 L210.85 577.24 L210.91 576.65 L210.98 576.05 L211.04 575.45 L211.10 574.86 L211.17 574.26 L211.23 573.66 L211.29 573.07 L211.36 572.47 L211.42 571.87 L211.49 571.28 L211.56 570.68 L211.62 570.09 L211.69 569.49 L211.76 568.89 L211.82 568.30 L211.89 567.70 L211.96 567.10 L212.03 566.51 L212.10 565.91 L212.17 565.32 L212.24 564.72 L212.31 564.12 L212.38 563.53 L212.45 562.93 L212.52 562.34 L212.59 561.74 L212.66 561.14 L212.73 560.55 L212.80 559.95 L212.87 559.36 L212.95 558.76 L213.02 558.17 L213.09 557.57 L213.16 556.97 L213.24 556.38 L213.31 555.78 L213.38 555.19 L213.45 554.59 L213.53 554.00 L213.60 553.40 L213.67 552.81 L213.74 552.21 L213.81 551.61 L213.89 551.02 L213.96 550.42 L214.03 549.83 L214.10 549.23 L214.17 548.63 L214.24 548.04 L214.31 547.44 L214.38 546.85 L214.45 546.25 L214.52 545.65 L214.58 545.06 L214.65 544.46 L214.72 543.87 L214.78 543.27 L214.85 542.67 L214.92 542.08 L214.98 541.48 L215.04 540.88 L215.11 540.29 L215.17 539.69 L215.23 539.09 L215.29 538.50 L215.35 537.90 L215.41 537.30 L215.47 536.71 L215.53 536.11 L215.59 535.51 L215.64 534.91 L215.70 534.32 L215.76 533.72 L215.81 533.12 L215.86 532.53 L215.92 531.93 L215.97 531.33 L216.02 530.73 L216.08 530.13 L216.13 529.54 L216.18 528.94 L216.23 528.34 L216.28 527.74 L216.33 527.15 L216.38 526.55 L216.43 525.95 L216.48 525.35 L216.53 524.75 L216.58 524.16 L216.63 523.56 L216.68 522.96 L216.73 522.36 L216.78 521.76 L216.83 521.17 L216.88 520.57 L216.92 519.97 L216.97 519.37 L217.02 518.77 L217.07 518.18 L217.12 517.58 L217.16 516.98 L217.21 516.38 L217.26 515.78 L217.31 515.18 L217.35 514.59 L217.40 513.99 L217.45 513.39 L217.49 512.79 L217.54 512.19 L217.59 511.60 L217.64 511.00 L217.68 510.40 L217.73 509.80 L217.78 509.20 L217.82 508.60 L217.87 508.01 L217.92 507.41 L217.96 506.81 L218.01 506.21 L218.06 505.61 L218.10 505.02 L218.15 504.42 L218.20 503.82 L218.25 503.22 L218.29 502.62 L218.34 502.03 L218.39 501.43 L218.44 500.83 L218.49 500.23 L218.53 499.63 L218.58 499.03 L218.63 498.44 L218.68 497.84 L218.73 497.24 L218.78 496.64 L218.83 496.05 L218.88 495.45 L218.93 494.85 L218.98 494.25 L219.03 493.65 L219.08 493.06 L219.14 492.46 L219.19 491.86 L219.24 491.26 L219.29 490.67 L219.35 490.07 L219.40 489.47 L219.45 488.87 L219.51 488.27 L219.56 487.68 L219.62 487.08 L219.67 486.48 L219.72 485.88 L219.78 485.29 L219.84 484.69 L219.89 484.09 L219.95 483.49 L220.00 482.90 L220.06 482.30 L220.12 481.70 L220.17 481.11 L220.23 480.51 L220.29 479.91 L220.34 479.31 L220.40 478.72 L220.46 478.12 L220.52 477.52 L220.58 476.92 L220.64 476.33 L220.70 475.73 L220.77 475.13 L220.83 474.54 L220.89 473.94 L220.96 473.34 L221.02 472.75 L221.09 472.15 L221.16 471.55 L221.23 470.96 L221.30 470.36 L221.38 469.77 L221.45 469.17 L221.53 468.58 L221.60 467.98 L221.68 467.39 L221.76 466.79 L221.85 466.20 L221.93 465.61 L222.02 465.01 L222.11 464.42 L222.20 463.83 L222.29 463.23 L222.38 462.64 L222.47 462.05 L222.57 461.45 L222.66 460.86 L222.76 460.27 L222.86 459.68 L222.96 459.09 L223.06 458.50 L223.16 457.90 L223.27 457.31 L223.37 456.72 L223.47 456.13 L223.58 455.54 L223.69 454.95 L223.79 454.36 L223.90 453.77 L224.01 453.18 L224.12 452.59 L224.23 452.00 L224.34 451.41 L224.45 450.82 L224.56 450.23 L224.67 449.64 L224.78 449.05 L224.89 448.46 L225.00 447.87 L225.11 447.28 L225.23 446.69 L225.34 446.10 L225.45 445.51 L225.57 444.92 L225.68 444.33 L225.80 443.75 L225.92 443.16 L226.04 442.57 L226.16 441.98 L226.28 441.39 L226.40 440.81 L226.53 440.22 L226.65 439.63 L226.77 439.05 L226.90 438.46 L227.02 437.87 L227.15 437.28 L227.27 436.70 L227.39 436.11 L227.52 435.52 L227.64 434.94 L227.76 434.35 L227.89 433.76 L228.01 433.17 L228.13 432.59 L228.25 432.00 L228.37 431.41 L228.49 430.82 L228.61 430.23 L228.73 429.65 L228.86 429.06 L228.99 428.47 L229.12 427.89 L229.25 427.30 L229.38 426.72 L229.52 426.14 L229.67 425.55 L229.82 424.97 L229.97 424.39 L230.12 423.81 L230.28 423.23 L230.44 422.65 L230.60 422.08 L230.77 421.50 L230.93 420.92 L231.09 420.34 L231.25 419.77 L231.41 419.19 L231.56 418.61 L231.71 418.03 L231.87 417.45 L232.02 416.87 L232.18 416.29 L232.35 415.71 L232.51 415.14 L232.68 414.56 L232.85 413.98 L233.02 413.41 L233.19 412.83 L233.36 412.26 L233.52 411.68 L233.68 411.10 L233.83 410.52 L233.99 409.94 L234.14 409.36 L234.29 408.78 L234.44 408.20 L234.58 407.61 L234.72 407.03 L234.86 406.45 L235.00 405.86 L235.13 405.28 L235.25 404.69 L235.36 404.10 L235.46 403.51 L235.55 402.92 L235.64 402.33 L235.73 401.73 L235.81 401.14 L235.89 400.54 L235.97 399.95 L236.04 399.35 L236.11 398.76 L236.18 398.16 L236.24 397.56 L236.31 396.97 L236.37 396.37 L236.43 395.77 L236.48 395.17 L236.54 394.58 L236.59 393.98 L236.65 393.38 L236.70 392.78 L236.75 392.18 L236.80 391.59 L236.84 390.99 L236.89 390.39 L236.94 389.79 L236.98 389.19 L237.03 388.60 L237.08 388.00 L237.12 387.40 L237.17 386.80 L237.21 386.20 L237.26 385.60 L237.30 385.01 L237.35 384.41 L237.39 383.81 L237.44 383.21 L237.49 382.61 L237.53 382.02 L237.58 381.42 L237.63 380.82 L237.68 380.22 L237.73 379.62 L237.77 379.02 L237.82 378.43 L237.87 377.83 L237.92 377.23 L237.97 376.63 L238.02 376.03 L238.06 375.44 L238.11 374.84 L238.16 374.24 L238.21 373.64 L238.26 373.04 L238.31 372.45 L238.35 371.85 L238.40 371.25 L238.45 370.65 L238.50 370.05 L238.54 369.46 L238.59 368.86 L238.64 368.26 L238.69 367.66 L238.74 367.06 L238.78 366.47 L238.83 365.87 L238.88 365.27 L238.93 364.67 L238.97 364.07 L239.02 363.47 L239.07 362.88 L239.12 362.28 L239.17 361.68 L239.21 361.08 L239.26 360.48 L239.31 359.89 L239.36 359.29 L239.41 358.69 L239.45 358.09 L239.50 357.49 L239.55 356.90 L239.60 356.30 L239.64 355.70 L239.69 355.10 L239.74 354.50 L239.79 353.91 L239.83 353.31 L239.88 352.71 L239.93 352.11 L239.98 351.51 L240.03 350.91 L240.07 350.32 L240.12 349.72 L240.17 349.12 L240.22 348.52 L240.26 347.92 L240.31 347.33 L240.36 346.73 L240.41 346.13 L240.46 345.53 L240.51 344.93 L240.56 344.34 L240.61 343.74 L240.65 343.14 L240.70 342.54 L240.75 341.94 L240.80 341.34 L240.84 340.75 L240.89 340.15 L240.93 339.55 L240.97 338.95 L241.01 338.35 L241.05 337.75 L241.09 337.15 L241.12 336.56 L241.15 335.96 L241.18 335.36 L241.21 334.76 L241.23 334.16 L241.25 333.56 L241.26 332.96 L241.28 332.36 L241.29 331.76 L241.30 331.16 L241.31 330.56 L241.32 329.96 L241.32 329.36 L241.33 328.76 L241.33 328.16 L241.34 327.56 L241.34 326.96 L241.34 326.36 L241.34 325.76 L241.34 325.16 L241.35 324.56 L241.35 323.96 L241.35 323.36 L241.36 322.76 L241.36 322.16 L241.37 321.56 L241.38 320.96 L241.39 320.36 L241.40 319.76 L241.42 319.16 L241.43 318.56 L241.45 317.96 L241.47 317.36 L241.50 316.76 L241.52 316.16 L241.55 315.56 L241.58 314.96 L241.61 314.37 L241.65 313.77 L241.68 313.17 L241.72 312.57 L241.76 311.97 L241.80 311.37 L241.84 310.77 L241.88 310.17 L241.93 309.58 L241.97 308.98 L242.02 308.38 L242.06 307.78 L242.11 307.18 L242.16 306.58 L242.20 305.98 L242.25 305.39 L242.30 304.79 L242.35 304.19 L242.40 303.59 L242.45 302.99 L242.49 302.39 L242.54 301.80 L242.59 301.20 L242.63 300.60 L242.68 300.00 L242.73 299.40 L242.77 298.80 L242.82 298.21 L242.86 297.61 L242.90 297.01 L242.95 296.41 L242.99 295.81 L243.03 295.21 L243.07 294.62 L243.12 294.02 L243.16 293.42 L243.20 292.82 L243.24 292.22 L243.28 291.62 L243.31 291.02 L243.35 290.42 L243.39 289.83 L243.43 289.23 L243.46 288.63 L243.50 288.03 L243.54 287.43 L243.57 286.83 L243.60 286.23 L243.64 285.63 L243.67 285.03 L243.71 284.44 L243.74 283.84 L243.77 283.24 L243.80 282.64 L243.83 282.04 L243.86 281.44 L243.89 280.84 L243.92 280.24 L243.95 279.64 L243.98 279.04 L244.01 278.44 L244.04 277.84 L244.07 277.24 L244.10 276.65 L244.13 276.05 L244.16 275.45 L244.19 274.85 L244.22 274.25 L244.25 273.65 L244.28 273.05 L244.31 272.45 L244.34 271.85 L244.37 271.25 L244.40 270.65 L244.43 270.05 L244.46 269.45 L244.49 268.86 L244.52 268.26 L244.55 267.66 L244.59 267.06 L244.62 266.46 L244.65 265.86 L244.68 265.26 L244.72 264.66 L244.75 264.06 L244.78 263.46 L244.82 262.86 L244.85 262.27 L244.89 261.67 L244.92 261.07 L244.96 260.47 L244.99 259.87 L245.03 259.27 L245.06 258.67 L245.10 258.07 L245.13 257.47 L245.17 256.87 L245.20 256.28 L245.24 255.68 L245.27 255.08 L245.31 254.48 L245.34 253.88 L245.38 253.28 L245.41 252.68 L245.45 252.08 L245.48 251.48 L245.52 250.88 L245.55 250.29 L245.59 249.69 L245.62 249.09 L245.66 248.49 L245.69 247.89 L245.73 247.29 L245.76 246.69 L245.79 246.09 L245.83 245.49 L245.86 244.89 L245.90 244.30 L245.93 243.70 L245.96 243.10 L246.00 242.50 L246.03 241.90 L246.06 241.30 L246.10 240.70 L246.13 240.10 L246.17 239.50 L246.20 238.90 L246.23 238.30 L246.27 237.71 L246.30 237.11 L246.34 236.51 L246.37 235.91 L246.40 235.31 L246.44 234.71 L246.47 234.11 L246.51 233.51 L246.54 232.91 L246.58 232.31 L246.61 231.72 L246.65 231.12 L246.68 230.52 L246.72 229.92 L246.76 229.32 L246.79 228.72 L246.83 228.12 L246.86 227.52 L246.90 226.92 L246.94 226.33 L246.98 225.73 L247.01 225.13 L247.05 224.53 L247.09 223.93 L247.13 223.33 L247.17 222.73 L247.21 222.13 L247.25 221.54 L247.29 220.94 L247.33 220.34 L247.37 219.74 L247.41 219.14 L247.45 218.54 L247.49 217.94 L247.53 217.35 L247.57 216.75 L247.62 216.15 L247.66 215.55 L247.70 214.95 L247.75 214.35 L247.79 213.75 L247.84 213.16 L247.88 212.56 L247.93 211.96 L247.97 211.36 L248.02 210.76 L248.06 210.16 L248.11 209.57 L248.16 208.97 L248.21 208.37 L248.25 207.77 L248.30 207.17 L248.35 206.58 L248.40 205.98 L248.45 205.38 L248.50 204.78 L248.54 204.18 L248.59 203.59 L248.64 202.99 L248.69 202.39 L248.74 201.79 L248.79 201.19 L248.84 200.60 L248.88 200.00 L248.93 199.40 L248.98 198.80 L249.03 198.20 L249.08 197.61 L249.12 197.01 L249.17 196.41 L249.22 195.81 L249.27 195.21 L249.31 194.61 L249.36 194.02 L249.41 193.42 L249.46 192.82 L249.50 192.22 L249.55 191.62 L249.60 191.03 L249.64 190.43 L249.69 189.83 L249.74 189.23 L249.79 188.63 L249.83 188.04 L249.88 187.44 L249.93 186.84 L249.97 186.24 L250.02 185.64 L250.07 185.04 L250.12 184.45 L250.17 183.85 L250.21 183.25 L250.26 182.65 L250.31 182.05 L250.36 181.46 L250.41 180.86 L250.46 180.26 L250.51 179.66 L250.56 179.06 L250.61 178.47 L250.66 177.87 L250.71 177.27 L250.76 176.67 L250.81 176.08 L250.87 175.48 L250.92 174.88 L250.97 174.28 L251.02 173.68 L251.08 173.09 L251.13 172.49 L251.18 171.89 L251.24 171.29 L251.29 170.70 L251.35 170.10 L251.40 169.50 L251.46 168.90 L251.51 168.31 L251.56 167.71 L251.62 167.11 L251.67 166.51 L251.73 165.92 L251.78 165.32 L251.84 164.72 L251.89 164.12 L251.94 163.53 L252.00 162.93 L252.05 162.33 L252.10 161.73 L252.15 161.14 L252.21 160.54 L252.26 159.94 L252.31 159.34 L252.36 158.74 L252.42 158.15 L252.47 157.55 L252.52 156.95 L252.58 156.35 L252.63 155.76 L252.69 155.16 L252.75 154.56 L252.81 153.96 L252.87 153.37 L252.93 152.77 L252.99 152.17 L253.06 151.58 L253.12 150.98 L253.19 150.38 L253.26 149.79 L253.33 149.19 L253.41 148.60 L253.48 148.00 L253.56 147.41 L253.64 146.81 L253.73 146.22 L253.81 145.63 L253.90 145.03 L253.99 144.44 L254.08 143.85 L254.18 143.25 L254.27 142.66 L254.37 142.07 L254.47 141.48 L254.57 140.88 L254.67 140.29 L254.77 139.70 L254.88 139.11 L254.98 138.52 L255.09 137.93 L255.20 137.34 L255.31 136.75 L255.42 136.16 L255.53 135.57 L255.64 134.98 L255.75 134.39 L255.87 133.80 L255.98 133.21 L256.10 132.63 L256.21 132.04 L256.33 131.45 L256.45 130.86 L256.57 130.27 L256.69 129.69 L256.81 129.10 L256.93 128.51 L257.06 127.93 L257.18 127.34 L257.30 126.76 L257.43 126.17 L257.57 125.58 L257.70 125.00 L257.85 124.41 L258.00 123.82 L258.16 123.23 L258.34 122.64 L258.52 122.04 L258.72 121.44 L258.94 120.84 L259.17 120.24 L259.41 119.64 L259.68 119.05 L259.98 118.49 L260.31 117.96 L260.66 117.48 L261.06 117.06 L261.49 116.71 L261.96 116.45 L262.43 116.29 L262.91 116.26 L263.36 116.37 L263.78 116.61 L264.18 116.96 L264.55 117.40 L264.88 117.90 L265.19 118.43 L265.46 118.99 L265.70 119.56 L265.92 120.15 L266.12 120.75 L266.29 121.35 L266.46 121.97 L266.61 122.59 L266.76 123.21 L266.89 123.83 L267.03 124.44 L267.17 125.04 L267.31 125.64 L267.45 126.24 L267.59 126.83 L267.72 127.42 L267.86 128.00 L268.00 128.58 L268.13 129.17 L268.27 129.75 L268.40 130.32 L268.53 130.90 L268.66 131.49 L268.78 132.07 L268.91 132.65 L269.03 133.24 L269.16 133.83 L269.28 134.41 L269.39 135.00 L269.51 135.59 L269.63 136.18 L269.74 136.77 L269.86 137.36 L269.97 137.94 L270.08 138.53 L270.19 139.12 L270.30 139.71 L270.41 140.29 L270.52 140.88 L270.63 141.47 L270.73 142.05 L270.84 142.64 L270.94 143.23 L271.05 143.82 L271.15 144.41 L271.25 145.00 L271.36 145.60 L271.46 146.19 L271.56 146.79 L271.66 147.40 L271.76 148.01 L271.86 148.62 L271.97 149.23 L272.09 149.85 L272.21 150.47 L272.35 151.09 L272.50 151.71 L272.67 152.34 L272.87 152.97 L273.08 153.60 L273.32 154.23 L273.58 154.84 L273.87 155.41 L274.16 155.91 L274.48 156.31 L274.80 156.59 L275.12 156.71 L275.45 156.65 L275.77 156.43 L276.09 156.07 L276.39 155.60 L276.68 155.05 L276.95 154.45 L277.20 153.83 L277.42 153.20 L277.61 152.57 L277.79 151.94 L277.94 151.32 L278.08 150.69 L278.20 150.07 L278.31 149.45 L278.41 148.84 L278.50 148.22 L278.58 147.61 L278.66 147.00 L278.74 146.39 L278.82 145.79 L278.90 145.19 L278.99 144.59 L279.07 143.99 L279.15 143.39 L279.24 142.80 L279.32 142.20 L279.40 141.61 L279.49 141.02 L279.57 140.43 L279.66 139.84 L279.74 139.25 L279.82 138.66 L279.90 138.07 L279.99 137.48 L280.07 136.89 L280.15 136.29 L280.23 135.70 L280.31 135.11 L280.38 134.52 L280.46 133.92 L280.54 133.33 L280.61 132.73 L280.69 132.14 L280.76 131.54 L280.84 130.95 L280.91 130.35 L280.99 129.76 L281.06 129.16 L281.13 128.56 L281.20 127.97 L281.27 127.37 L281.34 126.77 L281.41 126.18 L281.48 125.58 L281.55 124.98 L281.62 124.39 L281.69 123.79 L281.76 123.19 L281.82 122.60 L281.89 122.00 L281.96 121.40 L282.03 120.81 L282.09 120.21 L282.16 119.61 L282.22 119.02 L282.29 118.42 L282.35 117.83 L282.42 117.23 L282.49 116.63 L282.55 116.04 L282.62 115.44 L282.68 114.84 L282.74 114.25 L282.81 113.65 L282.87 113.05 L282.94 112.46 L283.00 111.86 L283.07 111.27 L283.13 110.67 L283.20 110.07 L283.26 109.48 L283.33 108.88 L283.39 108.28 L283.46 107.69 L283.52 107.09 L283.59 106.49 L283.66 105.90 L283.72 105.30 L283.79 104.70 L283.86 104.11 L283.92 103.51 L283.99 102.92 L284.06 102.32 L284.13 101.72 L284.20 101.13 L284.26 100.53 L284.33 99.94 L284.41 99.34 L284.48 98.75 L284.55 98.15 L284.62 97.56 L284.69 96.96 L284.76 96.37 L284.84 95.77 L284.91 95.18 L284.99 94.58 L285.06 93.99 L285.14 93.39 L285.21 92.79 L285.29 92.20 L285.36 91.60 L285.44 91.01 L285.52 90.41 L285.60 89.81 L285.68 89.22 L285.76 88.62 L285.84 88.02 L285.92 87.43 L286.00 86.83 L286.08 86.23 L286.16 85.64 L286.24 85.04 L286.33 84.45 L286.41 83.85 L286.50 83.26 L286.58 82.67 L286.67 82.08 L286.76 81.49 L286.85 80.90 L286.94 80.31 L287.03 79.73 L287.12 79.14 L287.22 78.56 L287.31 77.98 L287.41 77.40 L287.51 76.82 L287.61 76.23 L287.71 75.64 L287.81 75.05 L287.92 74.45 L288.02 73.84 L288.14 73.23 L288.25 72.60 L288.36 71.97 L288.48 71.33 L288.60 70.68 L288.73 70.02 L288.88 69.37 L289.03 68.73 L289.21 68.11 L289.41 67.50 L289.64 66.93 L289.90 66.39 L290.19 65.89 L290.52 65.45 L290.87 65.08 L291.25 64.82 L291.63 64.71 L292.02 64.77 L292.40 64.99 L292.77 65.33 L293.10 65.76 L293.41 66.26 L293.68 66.79 L293.91 67.35 L294.11 67.94 L294.29 68.55 L294.44 69.18 L294.57 69.82 L294.69 70.47 L294.79 71.12 L294.89 71.77 L294.99 72.41 L295.09 73.05 L295.19 73.67 L295.28 74.29 L295.38 74.90 L295.48 75.50 L295.58 76.10 L295.67 76.69 L295.77 77.28 L295.86 77.87 L295.96 78.45 L296.05 79.03 L296.14 79.61 L296.23 80.20 L296.31 80.78 L296.39 81.36 L296.47 81.95 L296.55 82.54 L296.62 83.13 L296.70 83.72 L296.77 84.31 L296.84 84.91 L296.91 85.50 L296.97 86.10 L297.04 86.70 L297.10 87.30 L297.17 87.90 L297.23 88.49 L297.29 89.09 L297.35 89.69 L297.41 90.29 L297.47 90.89 L297.53 91.49 L297.59 92.09 L297.65 92.69 L297.71 93.29 L297.77 93.89 L297.83 94.49 L297.89 95.08 L297.95 95.68 L298.01 96.28 L298.08 96.88 L298.14 97.47 L298.20 98.07 L298.26 98.67 L298.31 99.26 L298.37 99.86 L298.43 100.45 L298.49 101.05 L298.55 101.65 L298.61 102.24 L298.67 102.84 L298.72 103.44 L298.78 104.03 L298.83 104.63 L298.89 105.23 L298.95 105.83 L299.00 106.42 L299.05 107.02 L299.11 107.62 L299.16 108.22 L299.21 108.81 L299.26 109.41 L299.32 110.01 L299.37 110.61 L299.42 111.21 L299.47 111.80 L299.52 112.40 L299.57 113.00 L299.62 113.60 L299.66 114.20 L299.71 114.79 L299.76 115.39 L299.80 115.99 L299.85 116.59 L299.90 117.19 L299.94 117.79 L299.99 118.38 L300.03 118.98 L300.08 119.58 L300.12 120.18 L300.17 120.78 L300.21 121.38 L300.25 121.97 L300.30 122.57 L300.34 123.17 L300.39 123.77 L300.43 124.37 L300.47 124.97 L300.52 125.56 L300.56 126.16 L300.61 126.76 L300.65 127.36 L300.70 127.96 L300.74 128.56 L300.78 129.15 L300.83 129.75 L300.87 130.35 L300.92 130.95 L300.96 131.55 L301.01 132.15 L301.05 132.74 L301.10 133.34 L301.14 133.94 L301.19 134.54 L301.23 135.14 L301.28 135.74 L301.32 136.33 L301.37 136.93 L301.41 137.53 L301.46 138.13 L301.50 138.73 L301.55 139.33 L301.59 139.92 L301.64 140.52 L301.68 141.12 L301.73 141.72 L301.77 142.32 L301.82 142.92 L301.86 143.51 L301.91 144.11 L301.95 144.71 L302.00 145.31 L302.04 145.91 L302.09 146.51 L302.13 147.10 L302.18 147.70 L302.22 148.30 L302.27 148.90 L302.31 149.50 L302.36 150.10 L302.40 150.69 L302.45 151.29 L302.49 151.89 L302.54 152.49 L302.58 153.09 L302.63 153.69 L302.67 154.28 L302.72 154.88 L302.76 155.48 L302.81 156.08 L302.85 156.68 L302.90 157.28 L302.94 157.87 L302.99 158.47 L303.03 159.07 L303.07 159.67 L303.12 160.27 L303.16 160.87 L303.21 161.46 L303.25 162.06 L303.30 162.66 L303.34 163.26 L303.39 163.86 L303.43 164.46 L303.48 165.05 L303.52 165.65 L303.57 166.25 L303.61 166.85 L303.66 167.45 L303.70 168.05 L303.75 168.64 L303.79 169.24 L303.84 169.84 L303.88 170.44 L303.93 171.04 L303.98 171.63 L304.02 172.23 L304.07 172.83 L304.12 173.43 L304.16 174.03 L304.21 174.63 L304.25 175.22 L304.29 175.82 L304.34 176.42 L304.38 177.02 L304.42 177.62 L304.46 178.22 L304.50 178.82 L304.53 179.42 L304.57 180.01 L304.60 180.61 L304.63 181.21 L304.66 181.81 L304.69 182.41 L304.71 183.01 L304.74 183.61 L304.76 184.21 L304.78 184.81 L304.80 185.41 L304.82 186.01 L304.84 186.61 L304.86 187.21 L304.88 187.81 L304.90 188.41 L304.91 189.01 L304.93 189.61 L304.94 190.21 L304.96 190.81 L304.97 191.41 L304.99 192.01 L305.00 192.61 L305.02 193.21 L305.03 193.81 L305.05 194.41 L305.06 195.01 L305.08 195.61 L305.10 196.21 L305.12 196.81 L305.14 197.40 L305.15 198.00 L305.18 198.60 L305.20 199.20 L305.22 199.80 L305.24 200.40 L305.27 201.00 L305.30 201.60 L305.32 202.20 L305.35 202.80 L305.39 203.40 L305.42 204.00 L305.45 204.60 L305.49 205.20 L305.52 205.79 L305.56 206.39 L305.60 206.99 L305.64 207.59 L305.68 208.19 L305.72 208.79 L305.76 209.39 L305.80 209.99 L305.84 210.58 L305.88 211.18 L305.93 211.78 L305.97 212.38 L306.02 212.98 L306.06 213.58 L306.10 214.18 L306.15 214.77 L306.19 215.37 L306.24 215.97 L306.28 216.57 L306.33 217.17 L306.37 217.77 L306.41 218.36 L306.46 218.96 L306.50 219.56 L306.54 220.16 L306.58 220.76 L306.62 221.36 L306.66 221.96 L306.71 222.55 L306.75 223.15 L306.79 223.75 L306.83 224.35 L306.87 224.95 L306.91 225.55 L306.95 226.15 L306.99 226.75 L307.02 227.34 L307.06 227.94 L307.10 228.54 L307.14 229.14 L307.18 229.74 L307.22 230.34 L307.26 230.94 L307.30 231.53 L307.34 232.13 L307.38 232.73 L307.41 233.33 L307.45 233.93 L307.49 234.53 L307.53 235.13 L307.57 235.73 L307.61 236.32 L307.65 236.92 L307.69 237.52 L307.73 238.12 L307.77 238.72 L307.81 239.32 L307.86 239.92 L307.90 240.51 L307.94 241.11 L307.98 241.71 L308.02 242.31 L308.06 242.91 L308.10 243.51 L308.14 244.11 L308.18 244.71 L308.22 245.30 L308.26 245.90 L308.30 246.50 L308.34 247.10 L308.38 247.70 L308.42 248.30 L308.46 248.90 L308.50 249.49 L308.54 250.09 L308.58 250.69 L308.62 251.29 L308.65 251.89 L308.69 252.49 L308.73 253.09 L308.76 253.69 L308.80 254.29 L308.84 254.88 L308.87 255.48 L308.91 256.08 L308.94 256.68 L308.98 257.28 L309.01 257.88 L309.05 258.48 L309.08 259.08 L309.12 259.68 L309.15 260.27 L309.19 260.87 L309.22 261.47 L309.25 262.07 L309.29 262.67 L309.32 263.27 L309.36 263.87 L309.39 264.47 L309.43 265.07 L309.46 265.67 L309.49 266.27 L309.53 266.86 L309.56 267.46 L309.60 268.06 L309.63 268.66 L309.67 269.26 L309.71 269.86 L309.74 270.46 L309.78 271.06 L309.82 271.66 L309.85 272.25 L309.89 272.85 L309.93 273.45 L309.97 274.05 L310.00 274.65 L310.04 275.25 L310.08 275.85 L310.12 276.45 L310.16 277.04 L310.20 277.64 L310.24 278.24 L310.28 278.84 L310.32 279.44 L310.36 280.04 L310.40 280.64 L310.44 281.24 L310.48 281.83 L310.52 282.43 L310.57 283.03 L310.61 283.63 L310.65 284.23 L310.69 284.83 L310.73 285.42 L310.78 286.02 L310.82 286.62 L310.86 287.22 L310.91 287.82 L310.95 288.42 L310.99 289.02 L311.04 289.61 L311.08 290.21 L311.12 290.81 L311.17 291.41 L311.21 292.01 L311.26 292.61 L311.30 293.20 L311.34 293.80 L311.38 294.40 L311.43 295.00 L311.47 295.60 L311.51 296.20 L311.55 296.80 L311.59 297.39 L311.63 297.99 L311.67 298.59 L311.71 299.19 L311.75 299.79 L311.79 300.39 L311.83 300.99 L311.87 301.59 L311.90 302.18 L311.94 302.78 L311.97 303.38 L312.01 303.98 L312.04 304.58 L312.07 305.18 L312.11 305.78 L312.14 306.38 L312.17 306.98 L312.20 307.58 L312.23 308.17 L312.26 308.77 L312.29 309.37 L312.32 309.97 L312.35 310.57 L312.38 311.17 L312.40 311.77 L312.43 312.37 L312.46 312.97 L312.49 313.57 L312.51 314.17 L312.54 314.77 L312.57 315.37 L312.59 315.97 L312.62 316.57 L312.65 317.17 L312.67 317.77 L312.70 318.36 L312.72 318.96 L312.75 319.56 L312.78 320.16 L312.80 320.76 L312.83 321.36 L312.86 321.96 L312.88 322.56 L312.91 323.16 L312.94 323.76 L312.96 324.36 L312.99 324.96 L313.02 325.56 L313.04 326.16 L313.07 326.76 L313.10 327.36 L313.13 327.96 L313.16 328.55 L313.19 329.15 L313.22 329.75 L313.25 330.35 L313.28 330.95 L313.31 331.55 L313.34 332.15 L313.37 332.75 L313.41 333.35 L313.44 333.95 L313.47 334.55 L313.51 335.15 L313.54 335.74 L313.58 336.34 L313.62 336.94 L313.65 337.54 L313.69 338.14 L313.73 338.74 L313.77 339.34 L313.81 339.94 L313.85 340.53 L313.89 341.13 L313.93 341.73 L313.97 342.33 L314.01 342.93 L314.05 343.53 L314.09 344.13 L314.13 344.72 L314.17 345.32 L314.21 345.92 L314.26 346.52 L314.30 347.12 L314.34 347.72 L314.38 348.32 L314.42 348.91 L314.47 349.51 L314.51 350.11 L314.55 350.71 L314.59 351.31 L314.63 351.91 L314.67 352.51 L314.71 353.10 L314.76 353.70 L314.80 354.30 L314.84 354.90 L314.88 355.50 L314.92 356.10 L314.97 356.70 L315.01 357.29 L315.05 357.89 L315.10 358.49 L315.14 359.09 L315.18 359.69 L315.23 360.29 L315.27 360.88 L315.32 361.48 L315.37 362.08 L315.41 362.68 L315.46 363.28 L315.51 363.88 L315.56 364.47 L315.61 365.07 L315.66 365.67 L315.71 366.27 L315.76 366.86 L315.81 367.46 L315.86 368.06 L315.92 368.66 L315.97 369.26 L316.03 369.85 L316.08 370.45 L316.14 371.05 L316.19 371.64 L316.25 372.24 L316.31 372.84 L316.36 373.44 L316.42 374.03 L316.48 374.63 L316.54 375.23 L316.59 375.83 L316.65 376.42 L316.71 377.02 L316.77 377.62 L316.83 378.21 L316.88 378.81 L316.94 379.41 L317.00 380.01 L317.06 380.60 L317.12 381.20 L317.17 381.80 L317.23 382.40 L317.29 382.99 L317.35 383.59 L317.41 384.19 L317.46 384.78 L317.52 385.38 L317.58 385.98 L317.64 386.58 L317.71 387.17 L317.77 387.77 L317.83 388.37 L317.89 388.96 L317.96 389.56 L318.02 390.16 L318.09 390.75 L318.16 391.35 L318.23 391.94 L318.30 392.54 L318.37 393.14 L318.44 393.73 L318.52 394.33 L318.59 394.92 L318.67 395.52 L318.75 396.11 L318.83 396.71 L318.91 397.30 L318.99 397.89 L319.07 398.49 L319.16 399.08 L319.24 399.68 L319.32 400.27 L319.40 400.87 L319.47 401.46 L319.55 402.06 L319.63 402.65 L319.70 403.25 L319.78 403.84 L319.85 404.44 L319.93 405.04 L320.00 405.63 L320.07 406.23 L320.15 406.82 L320.22 407.42 L320.29 408.01 L320.37 408.61 L320.44 409.20 L320.51 409.80 L320.59 410.39 L320.66 410.99 L320.74 411.58 L320.81 412.18 L320.89 412.77 L320.96 413.37 L321.04 413.96 L321.12 414.56 L321.20 415.15 L321.27 415.75 L321.35 416.34 L321.43 416.93 L321.51 417.53 L321.59 418.12 L321.67 418.72 L321.75 419.31 L321.83 419.91 L321.91 420.50 L321.99 421.10 L322.07 421.69 L322.15 422.29 L322.24 422.88 L322.32 423.48 L322.40 424.07 L322.48 424.67 L322.56 425.27 L322.64 425.86 L322.73 426.46 L322.81 427.06 L322.89 427.65 L322.97 428.25 L323.06 428.85 L323.14 429.44 L323.22 430.04 L323.31 430.63 L323.39 431.23 L323.48 431.82 L323.56 432.42 L323.65 433.01 L323.74 433.60 L323.83 434.19 L323.92 434.78 L324.01 435.37 L324.10 435.96 L324.19 436.55 L324.28 437.13 L324.38 437.72 L324.47 438.30 L324.57 438.88 L324.67 439.47 L324.77 440.05 L324.87 440.63 L324.98 441.22 L325.09 441.80 L325.20 442.39 L325.31 442.98 L325.43 443.57 L325.55 444.16 L325.67 444.75 L325.80 445.35 L325.93 445.95 L326.07 446.55 L326.21 447.16 L326.35 447.77 L326.51 448.39 L326.66 449.01 L326.83 449.62 L327.01 450.24 L327.21 450.84 L327.43 451.44 L327.68 452.02 L327.95 452.58 L328.25 453.12 L328.58 453.64 L328.95 454.13 L329.35 454.58 L329.78 454.96 L330.22 455.26 L330.68 455.45 L331.14 455.51 L331.59 455.43 L332.04 455.22 L332.48 454.90 L332.90 454.50 L333.30 454.03 L333.69 453.53 L334.05 453.00 L334.39 452.46 L334.71 451.91 L335.02 451.36 L335.31 450.79 L335.60 450.22 L335.88 449.64 L336.16 449.06 L336.44 448.47 L336.73 447.89 L337.03 447.32 L337.35 446.76 L337.67 446.22 L338.02 445.70 L338.40 445.22 L338.80 444.77 L339.23 444.37 L339.69 444.02 L340.17 443.74 L340.68 443.54 L341.19 443.45 L341.69 443.47 L342.19 443.62 L342.68 443.87 L343.15 444.20 L343.59 444.60 L344.01 445.05 L344.39 445.53 L344.74 446.04 L345.06 446.57 L345.35 447.12 L345.62 447.68 L345.87 448.26 L346.11 448.84 L346.33 449.43 L346.54 450.02 L346.74 450.60 L346.94 451.19 L347.14 451.77 L347.34 452.34 L347.54 452.92 L347.73 453.49 L347.93 454.06 L348.12 454.62 L348.31 455.19 L348.50 455.76 L348.69 456.33 L348.88 456.90 L349.07 457.47 L349.26 458.04 L349.45 458.62 L349.65 459.19 L349.86 459.77 L350.08 460.34 L350.31 460.92 L350.55 461.49 L350.82 462.05 L351.10 462.62 L351.41 463.18 L351.74 463.72 L352.10 464.24 L352.48 464.72 L352.89 465.15 L353.34 465.52 L353.81 465.81 L354.30 466.02 L354.79 466.11 L355.28 466.08 L355.75 465.91 L356.21 465.64 L356.64 465.27 L357.04 464.84 L357.41 464.36 L357.75 463.85 L358.06 463.31 L358.35 462.75 L358.63 462.17 L358.89 461.58 L359.15 460.98 L359.41 460.37 L359.68 459.77 L359.96 459.17 L360.25 458.58 L360.56 458.02 L360.90 457.48 L361.26 456.98 L361.65 456.52 L362.07 456.12 L362.53 455.78 L363.00 455.52 L363.49 455.36 L363.99 455.33 L364.47 455.42 L364.94 455.64 L365.39 455.96 L365.81 456.35 L366.20 456.80 L366.56 457.29 L366.87 457.81 L367.16 458.35 L367.41 458.92 L367.64 459.50 L367.85 460.10 L368.04 460.71 L368.22 461.32 L368.39 461.93 L368.56 462.54 L368.72 463.14 L368.89 463.74 L369.06 464.33 L369.22 464.92 L369.39 465.50 L369.56 466.07 L369.73 466.65 L369.90 467.22 L370.08 467.80 L370.25 468.38 L370.43 468.95 L370.60 469.54 L370.78 470.12 L370.96 470.71 L371.15 471.30 L371.36 471.89 L371.57 472.48 L371.80 473.06 L372.05 473.64 L372.31 474.22 L372.60 474.79 L372.92 475.35 L373.26 475.88 L373.63 476.37 L374.02 476.79 L374.43 477.13 L374.87 477.38 L375.31 477.49 L375.74 477.47 L376.15 477.29 L376.54 476.99 L376.91 476.58 L377.24 476.09 L377.55 475.56 L377.84 475.00 L378.09 474.43 L378.32 473.84 L378.53 473.25 L378.72 472.65 L378.89 472.04 L379.04 471.43 L379.19 470.81 L379.32 470.19 L379.44 469.58 L379.55 468.96 L379.67 468.34 L379.78 467.73 L379.89 467.12 L380.00 466.51 L380.11 465.91 L380.22 465.31 L380.33 464.72 L380.44 464.12 L380.55 463.53 L380.65 462.95 L380.76 462.36 L380.87 461.77 L380.97 461.19 L381.08 460.60 L381.18 460.02 L381.28 459.43 L381.38 458.85 L381.48 458.26 L381.57 457.67 L381.66 457.08 L381.76 456.49 L381.85 455.90 L381.94 455.31 L382.02 454.72 L382.11 454.12 L382.19 453.53 L382.28 452.93 L382.36 452.34 L382.44 451.74 L382.52 451.15 L382.60 450.55 L382.68 449.95 L382.76 449.36 L382.83 448.76 L382.91 448.17 L382.99 447.57 L383.06 446.97 L383.14 446.38 L383.21 445.78 L383.29 445.19 L383.36 444.59 L383.44 444.00 L383.51 443.40 L383.59 442.80 L383.66 442.21 L383.73 441.61 L383.81 441.02 L383.88 440.42 L383.95 439.83 L384.03 439.23 L384.10 438.64 L384.17 438.04 L384.25 437.45 L384.32 436.85 L384.40 436.26 L384.47 435.66 L384.55 435.07 L384.62 434.47 L384.70 433.88 L384.77 433.28 L384.85 432.69 L384.92 432.09 L385.00 431.50 L385.07 430.90 L385.14 430.31 L385.22 429.71 L385.29 429.11 L385.37 428.52 L385.44 427.92 L385.52 427.33 L385.59 426.73 L385.66 426.14 L385.74 425.54 L385.81 424.95 L385.88 424.35 L385.95 423.75 L386.02 423.16 L386.09 422.56 L386.16 421.97 L386.23 421.37 L386.30 420.77 L386.37 420.18 L386.44 419.58 L386.51 418.99 L386.57 418.39 L386.64 417.79 L386.70 417.20 L386.77 416.60 L386.83 416.00 L386.89 415.41 L386.95 414.81 L387.01 414.21 L387.07 413.62 L387.13 413.02 L387.18 412.42 L387.24 411.82 L387.29 411.23 L387.34 410.63 L387.40 410.03 L387.45 409.43 L387.50 408.83 L387.55 408.24 L387.60 407.64 L387.64 407.04 L387.69 406.44 L387.74 405.84 L387.78 405.25 L387.83 404.65 L387.88 404.05 L387.92 403.45 L387.97 402.85 L388.01 402.25 L388.06 401.66 L388.10 401.06 L388.15 400.46 L388.19 399.86 L388.23 399.26 L388.28 398.66 L388.32 398.07 L388.37 397.47 L388.42 396.87 L388.46 396.27 L388.51 395.67 L388.55 395.07 L388.60 394.48 L388.65 393.88 L388.69 393.28 L388.74 392.68 L388.79 392.08 L388.84 391.49 L388.88 390.89 L388.93 390.29 L388.98 389.69 L389.03 389.09 L389.08 388.50 L389.13 387.90 L389.18 387.30 L389.23 386.70 L389.28 386.10 L389.33 385.51 L389.38 384.91 L389.43 384.31 L389.48 383.71 L389.53 383.11 L389.58 382.52 L389.63 381.92 L389.68 381.32 L389.74 380.72 L389.79 380.13 L389.84 379.53 L389.89 378.93 L389.95 378.33 L390.00 377.74 L390.05 377.14 L390.11 376.54 L390.16 375.94 L390.22 375.34 L390.27 374.75 L390.33 374.15 L390.38 373.55 L390.44 372.95 L390.49 372.36 L390.55 371.76 L390.60 371.16 L390.66 370.57 L390.72 369.97 L390.77 369.37 L390.83 368.77 L390.89 368.18 L390.95 367.58 L391.00 366.98 L391.06 366.38 L391.12 365.79 L391.18 365.19 L391.24 364.59 L391.30 364.00 L391.35 363.40 L391.41 362.80 L391.47 362.20 L391.53 361.61 L391.59 361.01 L391.65 360.41 L391.72 359.82 L391.78 359.22 L391.84 358.62 L391.90 358.03 L391.96 357.43 L392.03 356.83 L392.09 356.24 L392.15 355.64 L392.21 355.04 L392.28 354.45 L392.34 353.85 L392.41 353.25 L392.47 352.66 L392.54 352.06 L392.60 351.46 L392.67 350.87 L392.73 350.27 L392.80 349.67 L392.86 349.08 L392.93 348.48 L393.00 347.89 L393.06 347.29 L393.13 346.69 L393.20 346.10 L393.26 345.50 L393.33 344.90 L393.39 344.31 L393.46 343.71 L393.53 343.11 L393.59 342.52 L393.66 341.92 L393.73 341.33 L393.79 340.73 L393.86 340.13 L393.92 339.54 L393.99 338.94 L394.05 338.34 L394.12 337.75 L394.18 337.15 L394.25 336.55 L394.31 335.96 L394.38 335.36 L394.44 334.77 L394.51 334.17 L394.57 333.57 L394.64 332.98 L394.71 332.38 L394.77 331.78 L394.84 331.19 L394.90 330.59 L394.97 329.99 L395.03 329.40 L395.10 328.80 L395.17 328.20 L395.23 327.61 L395.30 327.01 L395.37 326.42 L395.44 325.82 L395.50 325.22 L395.57 324.63 L395.64 324.03 L395.71 323.44 L395.77 322.84 L395.84 322.24 L395.91 321.65 L395.98 321.05 L396.04 320.45 L396.11 319.86 L396.18 319.26 L396.24 318.66 L396.31 318.07 L396.37 317.47 L396.44 316.88 L396.50 316.28 L396.57 315.68 L396.63 315.09 L396.69 314.49 L396.75 313.89 L396.81 313.30 L396.87 312.70 L396.93 312.10 L396.99 311.50 L397.05 310.91 L397.10 310.31 L397.16 309.71 L397.21 309.11 L397.27 308.52 L397.32 307.92 L397.38 307.32 L397.43 306.72 L397.48 306.13 L397.54 305.53 L397.59 304.93 L397.64 304.33 L397.69 303.74 L397.75 303.14 L397.80 302.54 L397.85 301.94 L397.90 301.34 L397.95 300.75 L398.01 300.15 L398.06 299.55 L398.11 298.95 L398.16 298.36 L398.22 297.76 L398.27 297.16 L398.32 296.56 L398.38 295.97 L398.43 295.37 L398.49 294.77 L398.54 294.17 L398.59 293.58 L398.65 292.98 L398.70 292.38 L398.76 291.78 L398.81 291.19 L398.87 290.59 L398.92 289.99 L398.98 289.39 L399.03 288.80 L399.08 288.20 L399.14 287.60 L399.19 287.00 L399.24 286.40 L399.30 285.81 L399.35 285.21 L399.40 284.61 L399.45 284.01 L399.50 283.42 L399.55 282.82 L399.60 282.22 L399.65 281.62 L399.70 281.02 L399.75 280.43 L399.80 279.83 L399.85 279.23 L399.90 278.63 L399.94 278.03 L399.99 277.44 L400.04 276.84 L400.09 276.24 L400.13 275.64 L400.18 275.04 L400.23 274.45 L400.27 273.85 L400.32 273.25 L400.37 272.65 L400.41 272.05 L400.46 271.45 L400.51 270.86 L400.55 270.26 L400.60 269.66 L400.64 269.06 L400.69 268.46 L400.74 267.87 L400.78 267.27 L400.83 266.67 L400.88 266.07 L400.92 265.47 L400.97 264.87 L401.02 264.28 L401.06 263.68 L401.11 263.08 L401.16 262.48 L401.21 261.88 L401.25 261.29 L401.30 260.69 L401.35 260.09 L401.40 259.49 L401.45 258.89 L401.50 258.30 L401.55 257.70 L401.60 257.10 L401.65 256.50 L401.70 255.90 L401.75 255.31 L401.80 254.71 L401.85 254.11 L401.91 253.51 L401.96 252.92 L402.01 252.32 L402.07 251.72 L402.12 251.12 L402.17 250.52 L402.23 249.93 L402.28 249.33 L402.34 248.73 L402.39 248.13 L402.44 247.54 L402.50 246.94 L402.55 246.34 L402.61 245.74 L402.66 245.15 L402.72 244.55 L402.77 243.95 L402.83 243.35 L402.88 242.76 L402.93 242.16 L402.99 241.56 L403.04 240.96 L403.09 240.37 L403.15 239.77 L403.20 239.17 L403.25 238.57 L403.31 237.98 L403.36 237.38 L403.41 236.78 L403.46 236.18 L403.52 235.58 L403.57 234.99 L403.62 234.39 L403.68 233.79 L403.73 233.19 L403.78 232.60 L403.84 232.00 L403.89 231.40 L403.95 230.80 L404.00 230.21 L404.05 229.61 L404.11 229.01 L404.17 228.41 L404.22 227.82 L404.28 227.22 L404.34 226.62 L404.39 226.02 L404.45 225.43 L404.51 224.83 L404.57 224.23 L404.63 223.64 L404.69 223.04 L404.75 222.44 L404.82 221.85 L404.88 221.25 L404.94 220.65 L405.01 220.06 L405.08 219.46 L405.15 218.86 L405.22 218.27 L405.29 217.67 L405.36 217.08 L405.43 216.48 L405.51 215.89 L405.58 215.29 L405.66 214.70 L405.74 214.10 L405.82 213.51 L405.91 212.91 L405.99 212.32 L406.08 211.72 L406.16 211.13 L406.25 210.53 L406.34 209.94 L406.43 209.35 L406.52 208.75 L406.61 208.16 L406.70 207.57 L406.79 206.97 L406.88 206.38 L406.97 205.79 L407.06 205.20 L407.15 204.61 L407.24 204.01 L407.33 203.42 L407.41 202.83 L407.50 202.24 L407.59 201.65 L407.68 201.06 L407.77 200.46 L407.87 199.87 L407.97 199.28 L408.08 198.68 L408.19 198.09 L408.32 197.49 L408.46 196.89 L408.61 196.28 L408.77 195.68 L408.95 195.07 L409.14 194.46 L409.35 193.84 L409.58 193.23 L409.83 192.63 L410.11 192.06 L410.42 191.53 L410.76 191.05 L411.14 190.63 L411.55 190.29 L412.01 190.04 L412.48 189.90 L412.96 189.88 L413.42 189.99 L413.87 190.22 L414.29 190.56 L414.70 190.98 L415.08 191.46 L415.43 191.97 L415.76 192.50 L416.07 193.04 L416.36 193.60 L416.63 194.17 L416.89 194.75 L417.14 195.33 L417.38 195.91 L417.61 196.50 L417.84 197.09 L418.08 197.67 L418.32 198.25 L418.57 198.82 L418.83 199.39 L419.10 199.95 L419.38 200.50 L419.69 201.05 L420.02 201.58 L420.37 202.10 L420.75 202.60 L421.15 203.06 L421.58 203.47 L422.03 203.81 L422.51 204.07 L423.02 204.24 L423.53 204.30 L424.04 204.24 L424.53 204.07 L425.01 203.80 L425.46 203.45 L425.88 203.04 L426.27 202.59 L426.62 202.09 L426.95 201.57 L427.26 201.03 L427.54 200.46 L427.81 199.89 L428.06 199.30 L428.30 198.72 L428.54 198.14 L428.77 197.56 L428.99 196.99 L429.21 196.42 L429.43 195.86 L429.64 195.30 L429.85 194.73 L430.05 194.17 L430.26 193.61 L430.46 193.04 L430.67 192.48 L430.87 191.91 L431.08 191.34 L431.30 190.77 L431.52 190.19 L431.75 189.61 L431.99 189.03 L432.24 188.44 L432.51 187.86 L432.79 187.27 L433.09 186.71 L433.41 186.17 L433.76 185.68 L434.14 185.23 L434.56 184.84 L435.01 184.53 L435.49 184.30 L435.98 184.19 L436.46 184.21 L436.94 184.36 L437.40 184.62 L437.83 184.97 L438.23 185.39 L438.58 185.86 L438.90 186.38 L439.19 186.93 L439.45 187.51 L439.68 188.11 L439.90 188.72 L440.10 189.33 L440.29 189.93 L440.47 190.53 L440.63 191.13 L440.79 191.72 L440.95 192.31 L441.09 192.90 L441.23 193.49 L441.37 194.07 L441.50 194.66 L441.63 195.24 L441.75 195.83 L441.88 196.41 L442.00 197.00 L442.12 197.58 L442.25 198.17 L442.37 198.76 L442.49 199.34 L442.60 199.93 L442.72 200.52 L442.84 201.11 L442.95 201.70 L443.06 202.29 L443.17 202.88 L443.28 203.47 L443.39 204.06 L443.49 204.65 L443.59 205.24 L443.69 205.83 L443.79 206.42 L443.89 207.01 L443.99 207.61 L444.08 208.20 L444.18 208.79 L444.27 209.38 L444.36 209.98 L444.45 210.57 L444.54 211.16 L444.63 211.76 L444.72 212.35 L444.81 212.95 L444.89 213.54 L444.98 214.13 L445.06 214.73 L445.15 215.32 L445.24 215.91 L445.32 216.51 L445.40 217.10 L445.49 217.70 L445.57 218.29 L445.65 218.89 L445.74 219.48 L445.82 220.07 L445.90 220.67 L445.98 221.26 L446.06 221.86 L446.14 222.45 L446.22 223.05 L446.30 223.64 L446.38 224.24 L446.46 224.83 L446.53 225.43 L446.61 226.02 L446.69 226.62 L446.76 227.21 L446.84 227.81 L446.92 228.40 L446.99 229.00 L447.07 229.59 L447.14 230.19 L447.21 230.78 L447.29 231.38 L447.36 231.97 L447.44 232.57 L447.51 233.17 L447.58 233.76 L447.66 234.36 L447.73 234.95 L447.80 235.55 L447.88 236.14 L447.95 236.74 L448.02 237.33 L448.10 237.93 L448.17 238.52 L448.25 239.12 L448.32 239.72 L448.39 240.31 L448.47 240.91 L448.54 241.50 L448.62 242.10 L448.69 242.69 L448.77 243.29 L448.84 243.88 L448.92 244.48 L448.99 245.07 L449.06 245.67 L449.14 246.26 L449.21 246.86 L449.29 247.45 L449.36 248.05 L449.44 248.65 L449.51 249.24 L449.59 249.84 L449.66 250.43 L449.74 251.03 L449.81 251.62 L449.88 252.22 L449.96 252.81 L450.03 253.41 L450.11 254.00 L450.18 254.60 L450.26 255.19 L450.33 255.79 L450.41 256.39 L450.48 256.98 L450.55 257.58 L450.63 258.17 L450.70 258.77 L450.78 259.36 L450.85 259.96 L450.93 260.55 L451.00 261.15 L451.08 261.74 L451.15 262.34 L451.22 262.93 L451.30 263.53 L451.37 264.13 L451.45 264.72 L451.52 265.32 L451.60 265.91 L451.67 266.51 L451.75 267.10 L451.82 267.70 L451.89 268.29 L451.97 268.89 L452.04 269.48 L452.12 270.08 L452.19 270.67 L452.27 271.27 L452.34 271.86 L452.41 272.46 L452.49 273.06 L452.56 273.65 L452.63 274.25 L452.71 274.84 L452.78 275.44 L452.86 276.03 L452.93 276.63 L453.00 277.22 L453.08 277.82 L453.15 278.41 L453.23 279.01 L453.30 279.61 L453.38 280.20 L453.45 280.80 L453.53 281.39 L453.60 281.99 L453.68 282.58 L453.76 283.18 L453.83 283.77 L453.91 284.37 L453.99 284.96 L454.06 285.56 L454.14 286.15 L454.22 286.75 L454.29 287.34 L454.37 287.94 L454.45 288.53 L454.52 289.13 L454.60 289.72 L454.67 290.32 L454.74 290.91 L454.82 291.51 L454.89 292.11 L454.96 292.70 L455.03 293.30 L455.10 293.89 L455.16 294.49 L455.23 295.09 L455.29 295.68 L455.36 296.28 L455.42 296.88 L455.48 297.47 L455.54 298.07 L455.60 298.67 L455.66 299.26 L455.72 299.86 L455.78 300.46 L455.84 301.05 L455.89 301.65 L455.95 302.25 L456.01 302.85 L456.07 303.44 L456.13 304.04 L456.18 304.64 L456.24 305.24 L456.30 305.83 L456.36 306.43 L456.42 307.03 L456.48 307.62 L456.54 308.22 L456.60 308.82 L456.66 309.41 L456.73 310.01 L456.79 310.61 L456.85 311.20 L456.92 311.80 L456.98 312.40 L457.05 312.99 L457.12 313.59 L457.18 314.19 L457.25 314.78 L457.32 315.38 L457.39 315.97 L457.45 316.57 L457.52 317.17 L457.59 317.76 L457.66 318.36 L457.73 318.95 L457.80 319.55 L457.87 320.15 L457.95 320.74 L458.02 321.34 L458.09 321.93 L458.16 322.53 L458.23 323.12 L458.31 323.72 L458.38 324.32 L458.45 324.91 L458.53 325.51 L458.60 326.10 L458.68 326.70 L458.75 327.29 L458.83 327.89 L458.90 328.48 L458.98 329.08 L459.06 329.67 L459.13 330.27 L459.21 330.86 L459.29 331.46 L459.37 332.05 L459.45 332.65 L459.53 333.24 L459.61 333.84 L459.69 334.43 L459.77 335.03 L459.85 335.62 L459.93 336.22 L460.01 336.81 L460.09 337.40 L460.17 338.00 L460.26 338.59 L460.34 339.19 L460.42 339.78 L460.51 340.38 L460.59 340.97 L460.67 341.56 L460.76 342.16 L460.84 342.75 L460.93 343.35 L461.01 343.94 L461.10 344.53 L461.18 345.13 L461.27 345.72 L461.35 346.32 L461.44 346.91 L461.53 347.50 L461.62 348.10 L461.71 348.69 L461.79 349.28 L461.88 349.88 L461.97 350.47 L462.06 351.06 L462.16 351.66 L462.25 352.25 L462.34 352.84 L462.44 353.43 L462.53 354.03 L462.63 354.62 L462.72 355.21 L462.82 355.80 L462.92 356.39 L463.02 356.99 L463.12 357.58 L463.22 358.17 L463.32 358.76 L463.42 359.35 L463.52 359.94 L463.62 360.53 L463.73 361.13 L463.83 361.72 L463.93 362.31 L464.04 362.90 L464.14 363.49 L464.25 364.08 L464.35 364.67 L464.46 365.26 L464.56 365.85 L464.67 366.44 L464.78 367.03 L464.88 367.62 L464.99 368.21 L465.10 368.80 L465.21 369.39 L465.32 369.98 L465.43 370.57 L465.54 371.16 L465.65 371.75 L465.76 372.34 L465.88 372.93 L465.99 373.52 L466.11 374.11 L466.23 374.70 L466.34 375.29 L466.46 375.87 L466.58 376.46 L466.71 377.05 L466.83 377.64 L466.95 378.22 L467.08 378.81 L467.21 379.40 L467.33 379.98 L467.46 380.57 L467.59 381.15 L467.72 381.74 L467.86 382.33 L467.99 382.91 L468.12 383.50 L468.26 384.08 L468.40 384.66 L468.54 385.25 L468.68 385.83 L468.82 386.41 L468.96 387.00 L469.10 387.58 L469.25 388.16 L469.40 388.74 L469.55 389.32 L469.70 389.91 L469.85 390.49 L470.00 391.07 L470.16 391.65 L470.32 392.22 L470.47 392.80 L470.63 393.38 L470.80 393.96 L470.96 394.54 L471.12 395.12 L471.28 395.69 L471.44 396.27 L471.60 396.85 L471.75 397.43 L471.91 398.01 L472.06 398.59 L472.21 399.17 L472.35 399.75 L472.49 400.34 L472.63 400.92 L472.76 401.50 L472.90 402.09 L473.02 402.68 L473.15 403.26 L473.27 403.85 L473.40 404.44 L473.52 405.02 L473.65 405.61 L473.77 406.20 L473.90 406.78 L474.03 407.37 L474.16 407.96 L474.29 408.54 L474.43 409.13 L474.57 409.71 L474.71 410.29 L474.86 410.87 L475.01 411.45 L475.16 412.04 L475.31 412.62 L475.46 413.20 L475.61 413.78 L475.76 414.36 L475.92 414.94 L476.07 415.52 L476.22 416.10 L476.37 416.68 L476.52 417.26 L476.67 417.84 L476.81 418.42 L476.96 419.01 L477.10 419.59 L477.24 420.17 L477.37 420.76 L477.50 421.34 L477.64 421.93 L477.76 422.52 L477.89 423.10 L478.02 423.69 L478.14 424.28 L478.26 424.86 L478.38 425.45 L478.50 426.04 L478.62 426.63 L478.74 427.22 L478.85 427.81 L478.97 428.39 L479.08 428.98 L479.19 429.57 L479.30 430.16 L479.41 430.75 L479.52 431.34 L479.63 431.93 L479.74 432.52 L479.85 433.11 L479.96 433.70 L480.07 434.29 L480.18 434.88 L480.29 435.47 L480.40 436.06 L480.51 436.65 L480.62 437.24 L480.73 437.83 L480.84 438.42 L480.95 439.01 L481.06 439.60 L481.17 440.19 L481.29 440.78 L481.40 441.37 L481.51 441.97 L481.61 442.56 L481.72 443.15 L481.82 443.74 L481.92 444.33 L482.01 444.92 L482.10 445.51 L482.18 446.11 L482.26 446.70 L482.33 447.29 L482.39 447.89 L482.45 448.48 L482.50 449.08 L482.55 449.67 L482.61 450.27 L482.67 450.86 L482.74 451.45 L482.82 452.05 L482.91 452.64 L483.00 453.23 L483.10 453.82 L483.21 454.41 L483.31 455.01 L483.42 455.60 L483.53 456.19 L483.64 456.78 L483.75 457.37 L483.86 457.96 L483.97 458.55 L484.08 459.14 L484.19 459.73 L484.30 460.32 L484.41 460.91 L484.52 461.50 L484.63 462.09 L484.74 462.68 L484.84 463.27 L484.95 463.86 L485.05 464.45 L485.16 465.04 L485.26 465.63 L485.36 466.22 L485.46 466.81 L485.56 467.40 L485.67 468.00 L485.77 468.59 L485.87 469.18 L485.98 469.77 L486.09 470.36 L486.19 470.95 L486.30 471.54 L486.42 472.13 L486.53 472.72 L486.64 473.31 L486.76 473.89 L486.88 474.48 L486.99 475.07 L487.11 475.66 L487.23 476.25 L487.35 476.84 L487.47 477.42 L487.59 478.01 L487.71 478.60 L487.84 479.19 L487.96 479.77 L488.08 480.36 L488.20 480.95 L488.32 481.54 L488.45 482.12 L488.57 482.71 L488.69 483.30 L488.82 483.88 L488.94 484.47 L489.07 485.06 L489.20 485.64 L489.33 486.23 L489.46 486.82 L489.59 487.40 L489.72 487.99 L489.86 488.57 L490.00 489.16 L490.13 489.74 L490.28 490.32 L490.42 490.91 L490.56 491.49 L490.71 492.07 L490.86 492.65 L491.02 493.23 L491.17 493.81 L491.33 494.39 L491.49 494.97 L491.66 495.54 L491.83 496.12 L492.00 496.69 L492.18 497.27 L492.35 497.84 L492.53 498.41 L492.71 498.98 L492.89 499.56 L493.07 500.13 L493.26 500.70 L493.44 501.27 L493.63 501.84 L493.81 502.41 L493.99 502.99 L494.17 503.56 L494.36 504.13 L494.54 504.70 L494.72 505.27 L494.90 505.85 L495.08 506.42 L495.25 506.99 L495.43 507.56 L495.61 508.14 L495.79 508.71 L495.97 509.28 L496.15 509.86 L496.32 510.43 L496.50 511.00 L496.68 511.57 L496.86 512.15 L497.04 512.72 L497.22 513.29 L497.39 513.87 L497.57 514.44 L497.75 515.01 L497.93 515.58 L498.11 516.16 L498.29 516.73 L498.47 517.30 L498.65 517.87 L498.83 518.45 L499.01 519.02 L499.19 519.59 L499.36 520.17 L499.54 520.74 L499.72 521.31 L499.90 521.88 L500.08 522.46 L500.26 523.03 L500.44 523.60 L500.62 524.17 L500.80 524.75 L500.98 525.32 L501.15 525.89 L501.33 526.46 L501.51 527.04 L501.69 527.61 L501.87 528.18 L502.05 528.75 L502.23 529.33 L502.40 529.90 L502.58 530.47 L502.76 531.04 L502.94 531.62 L503.12 532.19 L503.30 532.76 L503.47 533.34 L503.65 533.91 L503.83 534.49 L504.01 535.06 L504.19 535.64 L504.36 536.21 L504.55 536.78 L504.73 537.36 L504.92 537.93 L505.11 538.50 L505.31 539.06 L505.52 539.63 L505.74 540.18 L505.96 540.74 L506.20 541.29 L506.44 541.83 L506.70 542.37 L506.98 542.90 L507.26 543.43 L507.55 543.95 L507.86 544.47 L508.17 544.99 L508.49 545.50 L508.81 546.01 L509.14 546.51 L509.48 547.01 L509.82 547.51 L510.16 548.01 L510.51 548.50 L510.87 548.99 L511.23 549.47 L511.61 549.94 L511.99 550.40 L512.39 550.85 L512.80 551.28 L513.22 551.70 L513.66 552.10 L514.12 552.48 L514.59 552.85 L515.07 553.20 L515.56 553.55 L516.05 553.89 L516.53 554.25 L517.00 554.61 L517.46 554.99 L517.90 555.40 L518.33 555.82 L518.73 556.25 L519.12 556.71 L519.49 557.18 L519.83 557.66 L520.16 558.16 L520.47 558.67 L520.75 559.20 L521.02 559.73 L521.28 560.27 L521.52 560.83 L521.75 561.38 L521.97 561.95 L522.18 562.51 L522.39 563.08 L522.58 563.65 L522.77 564.22 L522.96 564.79 L523.14 565.37 L523.32 565.94 L523.49 566.52 L523.66 567.09 L523.83 567.67 L524.00 568.25 L524.16 568.82 L524.33 569.40 L524.49 569.98 L524.65 570.56 L524.81 571.13 L524.97 571.71 L525.14 572.29 L525.30 572.87 L525.46 573.45 L525.62 574.02 L525.78 574.60 L525.94 575.18 L526.10 575.76 L526.26 576.34 L526.42 576.91 L526.59 577.49 L526.75 578.07 L526.91 578.65 L527.07 579.22 L527.23 579.80 L527.39 580.38 L527.56 580.96 L527.72 581.54 L527.88 582.11 L528.04 582.69 L528.20 583.27 L528.36 583.85 L528.51 584.43 L528.67 585.01 L528.83 585.59 L528.99 586.17 L529.15 586.74 L529.31 587.32 L529.47 587.90 L529.64 588.48 L529.80 589.05 L529.97 589.63 L530.14 590.20 L530.31 590.78 L530.49 591.35 L530.67 591.92 L530.86 592.49 L531.04 593.06 L531.23 593.63 L531.42 594.20 L531.61 594.77 L531.80 595.34 L532.00 595.91 L532.19 596.48 L532.38 597.05 L532.58 597.61 L532.77 598.18 L532.97 598.75 L533.17 599.31 L533.36 599.88 L533.56 600.45 L533.77 601.01 L533.97 601.58 L534.18 602.14 L534.39 602.70 L534.61 603.26 L534.83 603.82 L535.05 604.37 L535.28 604.93 L535.51 605.48 L535.74 606.04 L535.98 606.59 L536.21 607.14 L536.45 607.69 L536.68 608.24 L536.92 608.80 L537.15 609.35 L537.38 609.90 L537.61 610.46 L537.84 611.01 L538.07 611.57 L538.30 612.12 L538.53 612.68 L538.76 613.23 L539.00 613.78 L539.23 614.34 L539.47 614.89 L539.71 615.44 L539.95 615.99 L540.19 616.53 L540.44 617.08 L540.70 617.62 L540.96 618.16 L541.22 618.70 L541.49 619.23 L541.77 619.77 L542.05 620.30 L542.34 620.82 L542.62 621.35 L542.92 621.87 L543.21 622.40 L543.51 622.92 L543.80 623.44 L544.10 623.96 L544.40 624.49 L544.70 625.01 L544.99 625.53 L545.29 626.05 L545.58 626.57 L545.87 627.10 L546.16 627.62 L546.45 628.15 L546.73 628.68 L547.01 629.21 L547.29 629.74 L547.56 630.28 L547.82 630.82 L548.09 631.36 L548.34 631.90 L548.59 632.44 L548.84 632.99 L549.08 633.54 L549.32 634.09 L549.56 634.64 L549.79 635.20 L550.01 635.75 L550.24 636.31 L550.46 636.87 L550.67 637.43 L550.89 637.99 L551.10 638.55 L551.31 639.11 L551.51 639.68 L551.71 640.24 L551.91 640.81 L552.11 641.38 L552.31 641.94 L552.50 642.51 L552.69 643.08 L552.88 643.65 L553.07 644.22 L553.26 644.79 L553.45 645.36 L553.64 645.93 L553.82 646.50 L554.01 647.07 L554.19 647.64 L554.38 648.21 L554.56 648.78 L554.75 649.35 L554.94 649.92 L555.12 650.49 L555.31 651.06 L555.50 651.63 L555.69 652.20 L555.88 652.77 L556.07 653.34 L556.26 653.91 L556.46 654.47 L556.65 655.04 L556.84 655.61 L557.04 656.18 L557.23 656.75 L557.42 657.31 L557.62 657.88 L557.81 658.45 L558.01 659.02 L558.20 659.59 L558.39 660.15 L558.58 660.72 L558.78 661.29 L558.97 661.86 L559.16 662.43 L559.35 662.99 L559.55 663.56 L559.74 664.13 L559.94 664.70 L560.13 665.26 L560.33 665.83 L560.52 666.40 L560.72 666.96 L560.92 667.53 L561.12 668.10 L561.32 668.66 L561.53 669.23 L561.73 669.79 L561.93 670.36 L562.14 670.92 L562.34 671.48 L562.55 672.05 L562.76 672.61 L562.97 673.17 L563.18 673.73 L563.40 674.29 L563.61 674.85 L563.83 675.41 L564.05 675.97 L564.27 676.53 L564.49 677.09 L564.72 677.64 L564.95 678.20 L565.18 678.75 L565.41 679.30 L565.65 679.85 L565.90 680.40 L566.14 680.95 L566.39 681.49 L566.65 682.04 L566.91 682.58 L567.17 683.12 L567.43 683.66 L567.70 684.19 L567.97 684.73 L568.24 685.26 L568.52 685.80 L568.80 686.33 L569.08 686.86 L569.37 687.39 L569.66 687.91 L569.95 688.44 L570.24 688.96 L570.54 689.48 L570.84 690.00 L571.15 690.52 L571.45 691.03 L571.76 691.55 L572.08 692.06 L572.40 692.57 L572.72 693.07 L573.04 693.58 L573.37 694.08 L573.70 694.58 L574.03 695.08 L574.37 695.58 L574.71 696.07 L575.05 696.57 L575.38 697.06 L575.72 697.56 L576.06 698.05 L576.40 698.55 L576.74 699.04 L577.08 699.54 L577.42 700.03 L577.76 700.53 L578.09 701.03 L578.43 701.52 L578.77 702.02 L579.10 702.52 L579.44 703.01 L579.77 703.51 L580.11 704.01 L580.44 704.51 L580.77 705.01 L581.11 705.51 L581.44 706.01 L581.77 706.51 L582.10 707.01 L582.42 707.51 L582.75 708.02 L583.07 708.52 L583.39 709.03 L583.71 709.54 L584.02 710.05 L584.33 710.57 L584.64 711.08 L584.94 711.60 L585.25 712.12 L585.55 712.64 L585.84 713.16 L586.14 713.68 L586.43 714.20 L586.72 714.73 L587.01 715.25 L587.30 715.78 L587.59 716.30 L587.88 716.83 L588.17 717.36 L588.46 717.88 L588.75 718.41 L589.04 718.93 L589.33 719.46 L589.62 719.98 L589.92 720.51 L590.21 721.03 L590.51 721.55 L590.82 722.07 L591.12 722.58 L591.43 723.10 L591.74 723.61 L592.06 724.12 L592.38 724.62 L592.71 725.13 L593.04 725.63 L593.37 726.13 L593.71 726.63 L594.05 727.12 L594.40 727.61 L594.75 728.09 L595.10 728.58 L595.46 729.06 L595.83 729.53 L596.20 730.01 L596.57 730.48 L596.95 730.94 L597.33 731.40 L597.72 731.86 L598.11 732.32 L598.51 732.77 L598.91 733.22 L599.31 733.66 L599.71 734.11 L600.12 734.55 L600.53 734.98 L600.94 735.42 L601.36 735.86 L601.77 736.29 L602.18 736.73 L602.59 737.16 L603.01 737.60 L603.42 738.04 L603.83 738.48 L604.23 738.92 L604.64 739.36 L605.04 739.80 L605.45 740.24 L605.85 740.69 L606.25 741.14 L606.64 741.59 L607.04 742.04 L607.43 742.49 L607.82 742.95 L608.21 743.41 L608.60 743.86 L608.99 744.32 L609.38 744.78 L609.77 745.23 L610.16 745.69 L610.55 746.14 L610.95 746.60 L611.34 747.05 L611.75 747.49 L612.15 747.93 L612.56 748.37 L612.98 748.81 L613.40 749.24 L613.82 749.66 L614.25 750.08 L614.68 750.50 L615.13 750.91 L615.57 751.31 L616.03 751.70 L616.49 752.09 L616.96 752.46 L617.43 752.83 L617.91 753.19 L618.40 753.54 L618.90 753.87 L619.40 754.20 L619.92 754.51 L620.43 754.81 L620.96 755.09 L621.49 755.36 L622.03 755.62 L622.58 755.87 L623.13 756.11 L623.68 756.34 L624.24 756.57 L624.80 756.79 L625.36 757.01 L625.92 757.24 L626.48 757.46 L627.03 757.68 L627.59 757.91 L628.14 758.14 L628.69 758.38 L629.24 758.62 L629.79 758.87 L630.33 759.13 L630.87 759.39 L631.40 759.66 L631.93 759.94 L632.46 760.23 L632.98 760.53 L633.50 760.83 L634.02 761.13 L634.53 761.44 L635.04 761.75 L635.56 762.07 L636.07 762.39 L636.58 762.71 L637.10 763.03 L637.61 763.34 L638.13 763.65 L638.65 763.94 L639.18 764.23 L639.71 764.51 L640.25 764.77 L640.80 765.01 L641.36 765.24 L641.92 765.44 L642.49 765.62 L643.07 765.78 L643.65 765.91 L644.24 766.02 L644.83 766.11 L645.43 766.16 L646.02 766.19 L646.62 766.20 L647.22 766.19 L647.82 766.15 L648.42 766.10 L649.02 766.04 L649.61 765.96 L650.21 765.88 L650.80 765.78 L651.40 765.68 L651.99 765.58 L652.58 765.47 L653.17 765.37 L653.77 765.26 L654.36 765.16 L654.95 765.07 L655.55 764.98 L656.14 764.89 L656.73 764.81 L657.33 764.74 L657.93 764.66 L658.52 764.59 L659.12 764.53 L659.71 764.47 L660.31 764.41 L660.91 764.35 L661.51 764.30 L662.11 764.24 L662.70 764.19 L663.30 764.13 L663.90 764.07 L664.49 764.00 L665.09 763.93 L665.68 763.85 L666.28 763.77 L666.87 763.67 L667.46 763.57 L668.05 763.46 L668.64 763.34 L669.23 763.21 L669.81 763.07 L670.39 762.92 L670.97 762.77 L671.54 762.60 L672.12 762.42 L672.69 762.24 L673.25 762.04 L673.82 761.84 L674.39 761.64 L674.95 761.43 L675.51 761.22 L676.07 761.01 L676.63 760.80 L677.20 760.59 L677.76 760.37 L678.32 760.16 L678.88 759.95 L679.44 759.74 L680.01 759.53 L680.57 759.32 L681.14 759.12 L681.71 758.92 L682.28 758.74 L682.86 758.55 L683.44 758.38 L684.02 758.22 L684.60 758.07 L685.19 757.94 L685.78 757.82 L686.37 757.73 L686.96 757.65 L687.56 757.61 L688.16 757.59 L688.75 757.60 L689.34 757.65 L689.94 757.73 L690.52 757.84 L691.11 757.98 L691.68 758.14 L692.25 758.33 L692.81 758.54 L693.37 758.78 L693.92 759.03 L694.46 759.29 L694.99 759.57 L695.52 759.87 L696.04 760.17 L696.56 760.48 L697.07 760.80 L697.57 761.13 L698.07 761.46 L698.57 761.80 L699.06 762.15 L699.54 762.51 L700.02 762.87 L700.50 763.23 L700.97 763.60 L701.44 763.98 L701.91 764.36 L702.37 764.74 L702.82 765.13 L703.28 765.52 L703.73 765.92 L704.17 766.33 L704.61 766.73 L705.05 767.14 L705.48 767.56 L705.91 767.98 L706.34 768.40 L706.76 768.83 L707.18 769.26 L707.60 769.69 L708.01 770.12 L708.42 770.56 L708.83 771.00 L709.24 771.44 L709.64 771.88 L710.04 772.33 L710.45 772.77 L710.85 773.22 L711.25 773.66 L711.65 774.11 L712.06 774.56 L712.46 775.00 L712.86 775.44 L713.27 775.88 L713.68 776.32 L714.10 776.76 L714.51 777.19 L714.93 777.62 L715.36 778.04 L715.79 778.46 L716.23 778.87 L716.67 779.27 L717.12 779.67 L717.58 780.06 L718.04 780.43 L718.52 780.80 L718.99 781.17 L719.48 781.52 L719.97 781.87 L720.46 782.21 L720.96 782.55 L721.46 782.88 L721.96 783.20 L722.47 783.52 L722.99 783.83 L723.50 784.14 L724.02 784.45 L724.53 784.75 L725.05 785.05 L725.57 785.35 L726.10 785.65 L726.62 785.94 L727.14 786.24 L727.66 786.54 L728.18 786.83 L728.71 787.13 L729.23 787.43 L729.75 787.73 L730.26 788.03 L730.78 788.33 L731.30 788.64 L731.81 788.95 L732.33 789.25 L732.84 789.56 L733.36 789.87 L733.87 790.18 L734.39 790.48 L734.91 790.79 L735.42 791.09 L735.94 791.39 L736.46 791.69 L736.98 791.99 L737.51 792.29 L738.03 792.58 L738.56 792.87 L739.08 793.16 L739.61 793.45 L740.15 793.72 L740.68 793.99 L741.22 794.25 L741.77 794.50 L742.32 794.74 L742.87 794.96 L743.43 795.17 L744.00 795.36 L744.57 795.54 L745.15 795.70 L745.73 795.85 L746.31 795.99 L746.90 796.12 L747.49 796.24 L748.08 796.35 L748.67 796.45 L749.27 796.54 L749.86 796.63 L750.46 796.71 L751.05 796.79 L751.65 796.86 L752.24 796.93 L752.84 797.00 L753.44 797.07 L754.03 797.13 L754.63 797.20 L755.23 797.26 L755.83 797.33 L756.42 797.39 L757.02 797.45 L757.62 797.51 L758.21 797.57 L758.81 797.62 L759.41 797.67 L760.01 797.72 L760.61 797.77 L761.21 797.80 L761.81 797.84 L762.41 797.86 L763.01 797.88 L763.61 797.89 L764.21 797.90 L764.81 797.89 L765.41 797.87 L766.01 797.83 L766.61 797.79 L767.20 797.73 L767.80 797.65 L768.39 797.57 L768.98 797.47 L769.57 797.35 L770.15 797.22 L770.73 797.07 L771.31 796.91 L771.89 796.74 L772.46 796.55 L773.03 796.37 L773.60 796.19 L774.18 796.01 L774.75 795.83 L775.33 795.68 L775.91 795.53 L776.50 795.41 L777.09 795.29 L777.68 795.20 L778.27 795.12 L778.86 795.07 L779.46 795.03 L780.06 795.01 L780.66 795.01 L781.26 795.02 L781.85 795.05 L782.45 795.09 L783.05 795.14 L783.65 795.20 L784.25 795.26 L784.85 795.32 L785.45 795.39 L786.04 795.46 L786.64 795.54 L787.24 795.62 L787.83 795.69 L788.43 795.77 L789.02 795.85 L789.62 795.94 L790.21 796.02 L790.80 796.10 L791.40 796.19 L791.99 796.27 L792.59 796.36 L793.18 796.45 L793.77 796.55 L794.36 796.64 L794.96 796.74 L795.55 796.84 L796.14 796.95 L796.73 797.06 L797.32 797.17 L797.90 797.29 L798.49 797.40 L799.08 797.52 L799.67 797.64 L800.26 797.76 L800.85 797.88 L801.44 797.99 L802.02 798.11 L802.61 798.22 L803.20 798.33 L803.79 798.44 L804.38 798.54 L804.98 798.65 L805.57 798.75 L806.16 798.84 L806.75 798.93 L807.35 799.02 L807.94 799.11 L808.53 799.19 L809.13 799.27 L809.72 799.35 L810.32 799.42 L810.91 799.50 L811.51 799.57 L812.11 799.64 L812.70 799.71 L813.30 799.77 L813.90 799.84 L814.49 799.90 L815.09 799.97 L815.69 800.02 L816.28 800.08 L816.88 800.14 L817.48 800.19 L818.08 800.23 L818.67 800.28 L819.27 800.31 L819.87 800.35 L820.47 800.38 L821.07 800.41 L821.67 800.44 L822.27 800.47 L822.87 800.50 L823.47 800.53 L824.07 800.56 L824.67 800.60 L825.27 800.64 L825.86 800.69 L826.46 800.74 L827.06 800.79 L827.66 800.86 L828.25 800.93 L828.85 801.00 L829.44 801.08 L830.03 801.17 L830.62 801.27 L831.21 801.38 L831.80 801.49 L832.39 801.61 L832.98 801.73 L833.57 801.85 L834.16 801.97 L834.75 802.08 L835.34 802.20 L835.93 802.31 L836.52 802.42 L837.11 802.52 L837.70 802.62 L838.29 802.70 L838.89 802.78 L839.48 802.86 L840.08 802.92 L840.68 802.98 L841.27 803.03 L841.87 803.06 L842.47 803.09 L843.07 803.12 L843.67 803.13 L844.27 803.15 L844.87 803.15 L845.47 803.15 L846.07 803.15 L846.67 803.15 L847.27 803.14 L847.87 803.13 L848.47 803.11 L849.07 803.10 L849.67 803.07 L850.27 803.05 L850.87 803.02 L851.47 802.99 L852.07 802.95 L852.67 802.91 L853.27 802.87 L853.86 802.83 L854.46 802.78 L855.06 802.74 L855.66 802.69 L856.26 802.65 L856.86 802.61 L857.45 802.57 L858.05 802.53 L858.65 802.50 L859.25 802.47 L859.85 802.44 L860.45 802.41 L861.05 802.37 L861.65 802.34 L862.25 802.31 L862.85 802.28 L863.45 802.24 L864.04 802.20 L864.64 802.16 L865.24 802.12 L865.84 802.08 L866.44 802.03 L867.04 801.99 L867.63 801.94 L868.23 801.89 L868.83 801.83 L869.43 801.78 L870.03 801.73 L870.62 801.67 L871.22 801.61 L871.82 801.55 L872.41 801.49 L873.01 801.43 L873.61 801.36 L874.20 801.30 L874.80 801.23 L875.40 801.16 L875.99 801.09 L876.59 801.02 L877.18 800.95 L877.78 800.88 L878.37 800.80 L878.97 800.72 L879.56 800.64 L880.16 800.55 L880.75 800.46 L881.35 800.37 L881.94 800.28 L882.53 800.18 L883.12 800.08 L883.71 799.97 L884.30 799.86 L884.89 799.74 L885.48 799.61 L886.06 799.48 L886.64 799.35 L887.23 799.20 L887.81 799.05 L888.39 798.90 L888.97 798.74 L889.54 798.57 L890.12 798.40 L890.69 798.23 L891.27 798.05 L891.84 797.87 L892.41 797.69 L892.98 797.50 L893.55 797.31 L894.12 797.11 L894.68 796.91 L895.25 796.71 L895.81 796.51 L896.38 796.30 L896.94 796.09 L897.50 795.88 L898.06 795.66 L898.62 795.44 L899.18 795.22 L899.73 794.99 L900.29 794.76 L900.84 794.52 L901.39 794.27 L901.93 794.02 L902.47 793.76 L903.01 793.49 L903.54 793.22 L904.07 792.93 L904.59 792.63 L905.11 792.33 L905.62 792.01 L906.12 791.69 L906.62 791.35 L907.10 791.00 L907.58 790.64 L908.05 790.27 L908.51 789.88 L908.97 789.49 L909.41 789.09 L909.86 788.69 L910.29 788.28 L910.73 787.86 L911.15 787.44 L911.58 787.01 L912.00 786.58 L912.42 786.15 L912.84 785.72 L913.25 785.28 L913.66 784.84 L914.07 784.40 L914.47 783.96 L914.87 783.51 L915.27 783.06 L915.67 782.62 L916.07 782.16 L916.46 781.71 L916.85 781.26 L917.24 780.80 L917.63 780.35 L918.02 779.89 L918.41 779.43 L918.80 778.98 L919.19 778.52 L919.58 778.07 L919.97 777.61 L920.37 777.16 L920.76 776.71 L921.16 776.26 L921.56 775.81 L921.96 775.36 L922.36 774.92 L922.76 774.47 L923.17 774.03 L923.57 773.58 L923.98 773.14 L924.39 772.70 L924.80 772.25 L925.21 771.81 L925.63 771.38 L926.05 770.95 L926.48 770.53 L926.92 770.12 L927.37 769.72 L927.83 769.34 L928.30 768.97 L928.79 768.62 L929.29 768.29 L929.80 767.98 L930.33 767.68 L930.86 767.41 L931.41 767.16 L931.96 766.93 L932.53 766.73 L933.10 766.55 L933.68 766.40 L934.27 766.27 L934.86 766.17 L935.46 766.10 L936.06 766.05 L936.66 766.03 L937.26 766.04 L937.86 766.07 L938.45 766.14 L939.05 766.23 L939.63 766.35 L940.22 766.49 L940.79 766.66 L941.36 766.85 L941.92 767.07 L942.47 767.31 L943.00 767.58 L943.53 767.86 L944.05 768.17 L944.56 768.48 L945.06 768.82 L945.55 769.16 L946.04 769.52 L946.52 769.89 L946.99 770.26 L947.45 770.64 L947.91 771.03 L948.37 771.42 L948.82 771.82 L949.27 772.21 L949.72 772.61 L950.17 773.01 L950.62 773.41 L951.08 773.81 L951.53 774.21 L951.99 774.60 L952.45 774.98 L952.91 775.36 L953.39 775.73 L953.86 776.08 L954.35 776.43 L954.85 776.77 L955.35 777.09 L955.86 777.41 L956.38 777.71 L956.90 778.01 L957.43 778.29 L957.96 778.57 L958.50 778.84 L959.04 779.11 L959.58 779.37 L960.13 779.62 L960.68 779.86 L961.23 780.09 L961.79 780.32 L962.35 780.53 L962.91 780.74 L963.48 780.93 L964.06 781.11 L964.63 781.28 L965.21 781.44 L965.80 781.58 L966.38 781.71 L966.97 781.82 L967.56 781.92 L968.16 782.00 L968.76 782.06 L969.35 782.10 L969.95 782.13 L970.55 782.13 L971.15 782.12 L971.75 782.08 L972.34 782.03 L972.94 781.96 L973.53 781.87 L974.12 781.77 L974.71 781.66 L975.30 781.54 L975.89 781.41 L976.48 781.28 L977.06 781.14 L977.65 781.01 L978.23 780.87 L978.82 780.72 L979.40 780.58 L979.98 780.44 L980.57 780.30 L981.15 780.16 L981.73 780.02 L982.32 779.88 L982.90 779.75 L983.49 779.62 L984.07 779.49 L984.66 779.36 L985.25 779.23 L985.83 779.11 L986.42 778.99 L987.01 778.87 L987.60 778.75 L988.19 778.63 L988.77 778.51 L989.36 778.39 L989.95 778.27 L990.54 778.15 L991.13 778.04 L991.72 777.92 L992.31 777.81 L992.90 777.71 L993.49 777.61 L994.08 777.52 L994.68 777.44 L995.27 777.36 L995.87 777.30 L996.46 777.24 L997.06 777.19 L997.66 777.15 L998.26 777.13 L998.86 777.11 L999.46 777.09 L1000.07 777.07 L1000.67 777.06 L1001.27 777.04 L1001.88 777.02 L1002.48 776.98 L1003.08 776.94 L1003.67 776.87 L1004.26 776.78 L1004.85 776.66 L1005.42 776.51 L1005.98 776.32 L1006.53 776.11 L1007.07 775.86 L1007.60 775.58 L1008.11 775.27 L1008.60 774.93 L1009.07 774.57 L1009.53 774.19 L1009.98 773.79 L1010.41 773.37 L1010.83 772.94 L1011.24 772.50 L1011.65 772.05 L1012.05 771.59 L1012.44 771.13 L1012.83 770.67 L1013.22 770.21 L1013.60 769.74 L1013.98 769.28 L1014.36 768.81 L1014.74 768.35 L1015.12 767.88 L1015.50 767.41 L1015.88 766.95 L1016.26 766.48 L1016.64 766.02 L1017.02 765.56 L1017.40 765.09 L1017.79 764.63 L1018.17 764.17 L1018.56 763.71 L1018.94 763.25 L1019.33 762.80 L1019.72 762.34 L1020.11 761.89 L1020.51 761.44 L1020.91 760.99 L1021.31 760.54 L1021.71 760.09 L1022.11 759.65 L1022.52 759.21 L1022.94 758.78 L1023.36 758.35 L1023.78 757.92 L1024.20 757.50 L1024.63 757.08 L1025.07 756.66 L1025.50 756.25 L1025.95 755.85 L1026.39 755.44 L1026.84 755.05 L1027.30 754.65 L1027.76 754.27 L1028.23 753.89 L1028.70 753.52 L1029.18 753.16 L1029.67 752.81 L1030.16 752.47 L1030.67 752.14 L1031.18 751.82 L1031.70 751.52 L1032.22 751.23 L1032.76 750.96 L1033.30 750.70 L1033.85 750.46 L1034.41 750.24 L1034.97 750.04 L1035.54 749.85 L1036.12 749.69 L1036.70 749.54 L1037.29 749.40 L1037.87 749.29 L1038.47 749.20 L1039.06 749.12 L1039.66 749.07 L1040.26 749.03 L1040.86 749.01 L1041.46 749.00 L1042.06 749.02 L1042.66 749.05 L1043.26 749.09 L1043.86 749.16 L1044.45 749.24 L1045.05 749.33 L1045.64 749.44 L1046.22 749.56 L1046.81 749.69 L1047.39 749.83 L1047.97 749.99 L1048.55 750.14 L1049.13 750.31 L1049.71 750.47 L1050.29 750.63 L1050.87 750.80 L1051.44 750.96 L1052.02 751.12 L1052.60 751.28 L1053.18 751.43 L1053.76 751.58 L1054.35 751.72 L1054.93 751.85 L1055.52 751.98 L1056.10 752.11 L1056.69 752.23 L1057.28 752.34 L1057.87 752.45 L1058.46 752.55 L1059.05 752.64 L1059.65 752.73 L1060.24 752.82 L1060.84 752.89 L1061.43 752.97 L1062.03 753.04 L1062.62 753.11 L1063.22 753.18 L1063.82 753.24 L1064.41 753.30 L1065.01 753.36 L1065.61 753.43 L1066.20 753.49 L1066.80 753.56 L1067.40 753.63 L1067.99 753.71 L1068.59 753.79 L1069.18 753.87 L1069.78 753.94 L1070.37 754.02 L1070.97 754.10 L1071.57 754.17 L1072.17 754.24 L1072.77 754.30 L1073.37 754.35 L1073.97 754.38 L1074.57 754.41 L1075.16 754.42 L1075.76 754.41 L1076.36 754.39 L1076.96 754.34 L1077.55 754.28 L1078.14 754.19 L1078.73 754.07 L1079.31 753.93 L1079.88 753.77 L1080.45 753.58 L1081.01 753.38 L1081.57 753.16 L1082.12 752.92 L1082.67 752.67 L1083.21 752.42 L1083.75 752.16 L1084.29 751.89 L1084.83 751.63 L1085.37 751.36 L1085.91 751.09 L1086.45 750.83 L1086.99 750.57 L1087.54 750.32 L1088.09 750.07 L1088.63 749.83 L1089.18 749.58 L1089.73 749.34 L1090.28 749.09 L1090.82 748.84 L1091.36 748.58 L1091.90 748.31 L1092.43 748.02 L1092.95 747.73 L1093.47 747.42 L1093.97 747.10 L1094.47 746.77 L1094.96 746.43 L1095.44 746.06 L1095.90 745.69 L1096.36 745.30 L1096.81 744.90 L1097.24 744.49 L1097.67 744.07 L1098.09 743.64 L1098.51 743.21 L1098.91 742.76 L1099.31 742.31 L1099.70 741.86 L1100.09 741.40 L1100.47 740.94 L1100.85 740.47 L1101.23 740.00 L1101.61 739.54 L1101.98 739.07 L1102.36 738.60 L1102.74 738.13 L1103.12 737.67 L1103.50 737.21 L1103.89 736.75 L1104.28 736.29 L1104.68 735.84 L1105.08 735.39 L1105.49 734.95 L1105.90 734.51 L1106.32 734.09 L1106.75 733.66 L1107.18 733.25 L1107.62 732.85 L1108.08 732.45 L1108.54 732.07 L1109.01 731.70 L1109.49 731.35 L1109.98 731.01 L1110.48 730.68 L1110.98 730.36 L1111.49 730.04 L1112.01 729.73 L1112.53 729.43 L1113.04 729.12 L1113.56 728.81 L1114.08 728.51 L1114.59 728.20 L1115.11 727.90 L1115.63 727.59 L1116.15 727.29 L1116.67 726.99 L1117.20 726.70 L1117.73 726.41 L1118.26 726.13 L1118.79 725.86 L1119.33 725.59 L1119.88 725.34 L1120.43 725.09 L1120.98 724.86 L1121.54 724.64 L1122.11 724.44 L1122.68 724.26 L1123.26 724.10 L1123.84 723.96 L1124.42 723.85 L1125.02 723.75 L1125.61 723.68 L1126.20 723.64 L1126.80 723.62 L1127.40 723.62 L1128.00 723.65 L1128.59 723.69 L1129.19 723.76 L1129.78 723.84 L1130.38 723.93 L1130.97 724.04 L1131.56 724.15 L1132.15 724.27 L1132.74 724.39 L1133.33 724.51 L1133.92 724.63 L1134.51 724.75 L1135.10 724.86 L1135.69 724.97 L1136.29 725.07 L1136.88 725.16 L1137.48 725.25 L1138.08 725.32 L1138.68 725.37 L1139.27 725.41 L1139.88 725.44 L1140.47 725.44 L1141.07 725.43 L1141.67 725.39 L1142.27 725.32 L1142.86 725.23 L1143.45 725.12 L1144.03 724.98 L1144.60 724.81 L1145.17 724.62 L1145.72 724.40 L1146.27 724.16 L1146.81 723.90 L1147.33 723.61 L1147.85 723.31 L1148.36 722.99 L1148.86 722.65 L1149.35 722.30 L1149.83 721.94 L1150.30 721.57 L1150.77 721.19 L1151.23 720.81 L1151.69 720.41 L1152.14 720.02 L1152.60 719.62 L1153.04 719.22 L1153.49 718.82 L1153.94 718.42 L1154.39 718.02 L1154.84 717.62 L1155.29 717.22 L1155.74 716.83 L1156.19 716.43 L1156.65 716.04 L1157.11 715.65 L1157.58 715.27 L1158.05 714.89 L1158.53 714.53 L1159.01 714.17 L1159.51 713.82 L1160.01 713.48 L1160.53 713.16 L1161.05 712.85 L1161.58 712.57 L1162.13 712.31 L1162.68 712.08 L1163.25 711.88 L1163.83 711.72 L1164.41 711.59 L1165.00 711.51 L1165.60 711.47 L1166.19 711.47 L1166.78 711.53 L1167.36 711.64 L1167.92 711.80 L1168.47 712.01 L1169.00 712.27 L1169.50 712.58 L1169.98 712.92 L1170.43 713.31 L1170.85 713.73 L1171.25 714.18 L1171.63 714.65 L1171.98 715.14 L1172.32 715.65 L1172.64 716.16 L1172.95 716.68 L1173.25 717.21 L1173.54 717.74 L1173.81 718.28 L1174.09 718.82 L1174.36 719.36 L1174.63 719.90 L1174.89 720.44 L1175.16 720.98 L1175.42 721.52 L1175.69 722.06 L1175.95 722.60 L1176.21 723.14 L1176.47 723.68 L1176.73 724.22 L1177.00 724.76 L1177.26 725.30 L1177.53 725.83 L1177.80 726.37 L1178.07 726.90 L1178.35 727.44 L1178.63 727.97 L1178.92 728.49 L1179.21 729.02 L1179.52 729.54 L1179.82 730.05 L1180.14 730.57 L1180.46 731.07 L1180.79 731.58 L1181.13 732.07 L1181.48 732.56 L1181.84 733.04 L1182.21 733.51 L1182.60 733.97 L1183.01 734.42 L1183.43 734.85 L1183.86 735.26 L1184.31 735.65 L1184.78 736.03 L1185.26 736.39 L1185.76 736.72 L1186.27 737.03 L1186.79 737.32 L1187.32 737.59 L1187.87 737.83 L1188.42 738.06 L1188.99 738.25 L1189.56 738.43 L1190.14 738.59 L1190.72 738.73 L1191.31 738.85 L1191.90 738.96 L1192.50 739.06 L1193.09 739.15 L1193.69 739.24 L1194.28 739.32 L1194.88 739.40 L1195.48 739.47 L1196.07 739.55 L1196.67 739.63 L1197.26 739.71 L1197.86 739.80 L1198.45 739.89 L1199.04 739.99 L1199.63 740.10 L1200.22 740.21 L1200.81 740.32 L1201.40 740.44 L1201.98 740.57 L1202.57 740.70 L1203.15 740.84 L1203.74 740.97 L1204.32 741.11 L1204.90 741.25 L1205.49 741.39 L1206.07 741.53 L1206.66 741.66 L1207.24 741.80 L1207.83 741.93 L1208.41 742.07 L1209.00 742.20 L1209.58 742.33 L1210.17 742.46 L1210.76 742.60 L1211.34 742.73 L1211.93 742.87 L1212.51 743.01 L1213.09 743.15 L1213.67 743.31 L1214.25 743.47 L1214.83 743.64 L1215.40 743.82 L1215.97 744.01 L1216.53 744.22 L1217.08 744.44 L1217.63 744.68 L1218.17 744.94 L1218.70 745.22 L1219.23 745.51 L1219.75 745.81 L1220.25 746.13 L1220.75 746.46 L1221.25 746.80 L1221.73 747.16 L1222.21 747.52 L1222.68 747.89 L1223.14 748.28 L1223.60 748.67 L1224.05 749.07 L1224.49 749.47 L1224.93 749.88 L1225.37 750.30 L1225.79 750.72 L1226.22 751.14 L1226.64 751.57 L1227.05 752.00 L1227.47 752.44 L1227.88 752.88 L1228.28 753.32 L1228.69 753.77 L1229.09 754.21 L1229.49 754.66 L1229.89 755.11 L1230.28 755.56 L1230.68 756.01 L1231.08 756.46 L1231.48 756.90 L1231.88 757.35 L1232.28 757.79 L1232.69 758.24 L1233.09 758.68 L1233.50 759.12 L1233.91 759.56 L1234.32 760.00 L1234.73 760.43 L1235.15 760.87 L1235.56 761.30 L1235.98 761.73 L1236.40 762.16 L1236.82 762.59 L1237.25 763.01 L1237.67 763.43 L1238.10 763.85 L1238.54 764.27 L1238.97 764.68 L1239.41 765.10 L1239.85 765.50 L1240.30 765.90 L1240.75 766.30 L1241.21 766.69 L1241.68 767.07 L1242.15 767.44 L1242.63 767.80 L1243.12 768.15 L1243.62 768.48 L1244.12 768.81 L1244.64 769.12 L1245.16 769.41 L1245.69 769.68 L1246.24 769.94 L1246.79 770.17 L1247.34 770.39 L1247.91 770.59 L1248.48 770.76 L1249.06 770.92 L1249.64 771.06 L1250.23 771.18 L1250.82 771.28 L1251.41 771.36 L1252.01 771.43 L1252.61 771.49 L1253.21 771.53 L1253.81 771.57 L1254.41 771.59 L1255.01 771.61 L1255.62 771.63 L1256.22 771.65 L1256.82 771.67 L1257.42 771.69 L1258.02 771.73 L1258.62 771.77 L1259.22 771.83 L1259.81 771.90 L1260.40 771.99 L1260.99 772.11 L1261.57 772.24 L1262.14 772.41 L1262.71 772.59 L1263.27 772.80 L1263.82 773.03 L1264.37 773.28 L1264.90 773.54 L1265.44 773.82 L1265.96 774.11 L1266.48 774.41 L1267.00 774.71 L1267.51 775.03 L1268.03 775.34 L1268.54 775.65 L1269.06 775.97 L1269.57 776.28 L1270.09 776.58 L1270.61 776.89 L1271.13 777.19 L1271.65 777.48 L1272.17 777.78 L1272.70 778.06 L1273.23 778.35 L1273.76 778.63 L1274.29 778.91 L1274.82 779.18 L1275.36 779.45 L1275.90 779.70 L1276.45 779.95 L1277.00 780.20 L1277.55 780.43 L1278.10 780.66 L1278.66 780.87 L1279.22 781.08 L1279.79 781.29 L1280.35 781.49 L1280.92 781.68 L1281.49 781.88 L1282.06 782.07 L1282.63 782.25 L1283.20 782.44 L1283.77 782.63 L1284.34 782.82 L1284.91 783.02 L1285.47 783.21 L1286.04 783.41 L1286.60 783.62 L1287.16 783.83 L1287.72 784.05 L1288.28 784.28 L1288.83 784.51 L1289.38 784.74 L1289.93 784.99 L1290.47 785.24 L1291.02 785.49 L1291.56 785.76 L1292.09 786.02 L1292.63 786.29 L1293.16 786.56 L1293.70 786.84 L1294.23 787.11 L1294.77 787.39 L1295.30 787.67 L1295.83 787.94 L1296.37 788.21 L1296.91 788.48 L1297.45 788.74 L1297.99 789.00 L1298.53 789.25 L1299.08 789.50 L1299.63 789.74 L1300.18 789.97 L1300.74 790.20 L1301.29 790.42 L1301.85 790.63 L1302.42 790.84 L1302.98 791.04 L1303.55 791.23 L1304.12 791.42 L1304.70 791.59 L1305.27 791.77 L1305.85 791.93 L1306.43 792.09 L1307.00 792.25 L1307.59 792.40 L1308.17 792.54 L1308.75 792.69 L1309.34 792.82 L1309.92 792.96 L1310.51 793.09 L1311.09 793.21 L1311.68 793.34 L1312.27 793.46 L1312.86 793.58 L1313.44 793.70 L1314.03 793.82 L1314.62 793.94 L1315.21 794.05 L1315.80 794.17 L1316.39 794.29 L1316.97 794.41 L1317.56 794.53 L1318.15 794.64 L1318.74 794.76 L1319.33 794.87 L1319.92 794.99 L1320.51 795.10 L1321.10 795.20 L1321.69 795.31 L1322.28 795.41 L1322.87 795.50 L1323.47 795.60 L1324.06 795.68 L1324.65 795.76 L1325.25 795.84 L1325.85 795.91 L1326.44 795.97 L1327.04 796.02 L1327.64 796.07 L1328.24 796.11 L1328.84 796.14 L1329.43 796.16 L1330.03 796.17 L1330.63 796.17 L1331.23 796.17 L1331.83 796.16 L1332.43 796.15 L1333.03 796.14 L1333.63 796.12 L1334.23 796.10 L1334.83 796.08 L1335.43 796.06 L1336.03 796.04 L1336.63 796.02 L1337.23 796.01 L1337.83 795.99 L1338.43 795.99 L1339.03 795.98 L1339.63 795.98 L1340.23 795.99 L1340.83 796.00 L1341.43 796.02 L1342.03 796.04 L1342.63 796.07 L1343.23 796.11 L1343.83 796.14 L1344.43 796.18 L1345.03 796.22 L1345.62 796.27 L1346.22 796.31 L1346.82 796.35 L1347.42 796.39 L1348.02 796.43 L1348.62 796.47 L1349.22 796.52 L1349.81 796.56 L1350.41 796.60 L1351.01 796.64 L1351.61 796.68 L1352.14 796.71" stroke="#4daf4a"/>
</g>
<g stroke="#000" stroke-width="1.11" shape-rendering="crispEdges">
<line x1="152.5" y1="862.5" x2="152.5" y2="867.9"/>
<line x1="352.5" y1="862.5" x2="352.5" y2="867.9"/>
<line x1="552.5" y1="862.5" x2="552.5" y2="867.9"/>
<line x1="752.5" y1="862.5" x2="752.5" y2="867.9"/>
<line x1="951.5" y1="862.5" x2="951.5" y2="867.9"/>
<line x1="1151.5" y1="862.5" x2="1151.5" y2="867.9"/>
<line x1="1351.5" y1="862.5" x2="1351.5" y2="867.9"/>
<line x1="147.1" y1="824.5" x2="152.5" y2="824.5"/>
<line x1="147.1" y1="710.5" x2="152.5" y2="710.5"/>
<line x1="147.1" y1="595.5" x2="152.5" y2="595.5"/>
<line x1="147.1" y1="481.5" x2="152.5" y2="481.5"/>
<line x1="147.1" y1="367.5" x2="152.5" y2="367.5"/>
<line x1="147.1" y1="252.5" x2="152.5" y2="252.5"/>
<line x1="147.1" y1="138.5" x2="152.5" y2="138.5"/>
</g>
<rect x="152.5" y="27.5" width="1199" height="835" fill="none" stroke="#000" stroke-width="1.11" shape-rendering="crispEdges"/>
<g font-size="48.61px" text-anchor="middle">
<text x="152.50" y="909.16">0</text>
<text x="352.33" y="909.16">5</text>
<text x="552.17" y="909.16">10</text>
<text x="752.00" y="909.16">15</text>
<text x="951.83" y="909.16">20</text>
<text x="1151.67" y="909.16">25</text>
<text x="1351.50" y="909.16">30</text>
</g>
<g font-size="48.61px" text-anchor="end">
<text x="142.78" y="842.45">0</text>
<text x="142.78" y="728.13">2</text>
<text x="142.78" y="613.81">4</text>
<text x="142.78" y="499.49">6</text>
<text x="142.78" y="385.17">8</text>
<text x="142.78" y="270.85">10</text>
<text x="142.78" y="156.53">12</text>
</g>
<text x="752.00" y="969.60" font-size="58.33px" text-anchor="middle">Energy (eV)</text>
<text transform="translate(62.30 445.00) rotate(-90)" font-size="58.33px" text-anchor="middle">Dielec. function(Imag part)</text>
<rect x="1143.6" y="45.4" width="190" height="171" rx="5.5" ry="5.5" fill="#fff" fill-opacity="0.8" stroke="#ccc" stroke-opacity="0.8" stroke-width="1.39"/>
<line x1="1156" y1="74.4" x2="1231" y2="74.4" stroke="#e41a1c" stroke-width="2.78"/>
<text y="85.60" font-size="35.7px"><tspan x="1258.90" font-style="oblique">ε</tspan><tspan x="1278.23" dy="5.90" font-size="24.99px">2</tspan><tspan x="1295.15" dy="-5.90" font-size="35.7px" font-style="oblique">x</tspan></text>
<line x1="1156" y1="127.6" x2="1231" y2="127.6" stroke="#377eb8" stroke-width="2.78"/>
<text y="138.80" font-size="35.7px"><tspan x="1258.90" font-style="oblique">ε</tspan><tspan x="1278.23" dy="5.90" font-size="24.99px">2</tspan><tspan x="1295.15" dy="-5.90" font-size="35.7px" font-style="oblique">y</tspan></text>
<line x1="1156" y1="181.4" x2="1231" y2="181.4" stroke="#4daf4a" stroke-width="2.78"/>
<text y="192.60" font-size="35.7px"><tspan x="1258.90" font-style="oblique">ε</tspan><tspan x="1278.23" dy="5.90" font-size="24.99px">2</tspan><tspan x="1295.15" dy="-5.90" font-size="35.7px" font-style="oblique">z</tspan></text>
</svg></body></html>
